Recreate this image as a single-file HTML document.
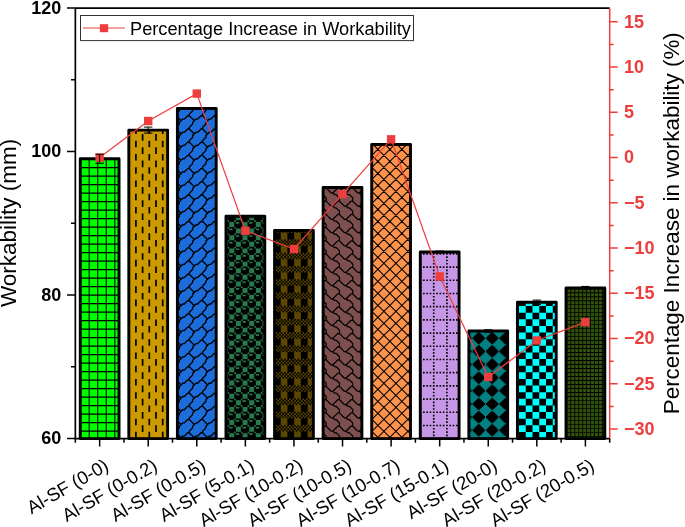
<!DOCTYPE html><html><head><meta charset="utf-8"><style>html,body{margin:0;padding:0;background:#fff;overflow:hidden}svg{display:block;will-change:transform}text{font-family:"Liberation Sans",sans-serif}</style></head><body>
<svg width="685" height="527" viewBox="0 0 685 527">
<defs><filter id="bl" x="-5%" y="-5%" width="110%" height="110%"><feGaussianBlur stdDeviation="0.35"/></filter><clipPath id="c0"><rect x="80.24" y="158.78" width="38.8" height="279.82"/></clipPath><clipPath id="c1"><rect x="128.82" y="130.08" width="38.8" height="308.52"/></clipPath><clipPath id="c2"><rect x="177.39" y="108.55" width="38.8" height="330.05"/></clipPath><clipPath id="c3"><rect x="225.97" y="216.18" width="38.8" height="222.42"/></clipPath><clipPath id="c4"><rect x="274.55" y="230.53" width="38.8" height="208.07"/></clipPath><clipPath id="c5"><rect x="323.12" y="187.48" width="38.8" height="251.12"/></clipPath><clipPath id="c6"><rect x="371.7" y="144.43" width="38.8" height="294.18"/></clipPath><clipPath id="c7"><rect x="420.28" y="252.05" width="38.8" height="186.55"/></clipPath><clipPath id="c8"><rect x="468.86" y="330.98" width="38.8" height="107.62"/></clipPath><clipPath id="c9"><rect x="517.43" y="302.28" width="38.8" height="136.32"/></clipPath><clipPath id="c10"><rect x="566.01" y="287.93" width="38.8" height="150.67"/></clipPath></defs>
<g clip-path="url(#c0)"><g filter="url(#bl)"><rect x="80.24" y="158.78" width="38.8" height="279.82" fill="#00ff00"/><path d="M80.14 157.5h1.07v1.06h-1.07zM114.25 157.5h1.07v1.06h-1.07zM97.19 157.5h1.07v1.06h-1.07zM88.66 157.5h1.07v1.06h-1.07zM105.72 157.5h1.07v1.06h-1.07zM79.07 158.57h41.57v1.06h-41.57zM80.14 159.63h1.07v7.44h-1.07zM114.25 159.63h1.07v7.44h-1.07zM97.19 159.63h1.07v7.44h-1.07zM88.66 159.63h1.07v7.44h-1.07zM105.72 159.63h1.07v7.44h-1.07zM79.07 167.07h41.57v1.06h-41.57zM80.14 168.13h1.07v7.44h-1.07zM114.25 168.13h1.07v7.44h-1.07zM97.19 168.13h1.07v7.44h-1.07zM88.66 168.13h1.07v7.44h-1.07zM105.72 168.13h1.07v7.44h-1.07zM79.07 175.57h41.57v1.06h-41.57zM80.14 176.63h1.07v7.44h-1.07zM114.25 176.63h1.07v7.44h-1.07zM97.19 176.63h1.07v7.44h-1.07zM88.66 176.63h1.07v7.44h-1.07zM105.72 176.63h1.07v7.44h-1.07zM79.07 184.07h41.57v1.06h-41.57zM80.14 185.13h1.07v7.44h-1.07zM114.25 185.13h1.07v7.44h-1.07zM97.19 185.13h1.07v7.44h-1.07zM88.66 185.13h1.07v7.44h-1.07zM105.72 185.13h1.07v7.44h-1.07zM79.07 192.57h41.57v1.06h-41.57zM80.14 193.63h1.07v7.44h-1.07zM114.25 193.63h1.07v7.44h-1.07zM97.19 193.63h1.07v7.44h-1.07zM88.66 193.63h1.07v7.44h-1.07zM105.72 193.63h1.07v7.44h-1.07zM79.07 201.07h41.57v1.06h-41.57zM80.14 202.13h1.07v7.44h-1.07zM114.25 202.13h1.07v7.44h-1.07zM97.19 202.13h1.07v7.44h-1.07zM88.66 202.13h1.07v7.44h-1.07zM105.72 202.13h1.07v7.44h-1.07zM79.07 209.57h41.57v1.06h-41.57zM80.14 210.63h1.07v7.44h-1.07zM114.25 210.63h1.07v7.44h-1.07zM97.19 210.63h1.07v7.44h-1.07zM88.66 210.63h1.07v7.44h-1.07zM105.72 210.63h1.07v7.44h-1.07zM79.07 218.07h41.57v1.06h-41.57zM80.14 219.13h1.07v7.44h-1.07zM114.25 219.13h1.07v7.44h-1.07zM97.19 219.13h1.07v7.44h-1.07zM88.66 219.13h1.07v7.44h-1.07zM105.72 219.13h1.07v7.44h-1.07zM79.07 226.57h41.57v1.06h-41.57zM80.14 227.63h1.07v7.44h-1.07zM114.25 227.63h1.07v7.44h-1.07zM97.19 227.63h1.07v7.44h-1.07zM88.66 227.63h1.07v7.44h-1.07zM105.72 227.63h1.07v7.44h-1.07zM79.07 235.07h41.57v1.06h-41.57zM80.14 236.13h1.07v7.44h-1.07zM114.25 236.13h1.07v7.44h-1.07zM97.19 236.13h1.07v7.44h-1.07zM88.66 236.13h1.07v7.44h-1.07zM105.72 236.13h1.07v7.44h-1.07zM79.07 243.57h41.57v1.06h-41.57zM80.14 244.63h1.07v7.44h-1.07zM114.25 244.63h1.07v7.44h-1.07zM97.19 244.63h1.07v7.44h-1.07zM88.66 244.63h1.07v7.44h-1.07zM105.72 244.63h1.07v7.44h-1.07zM79.07 252.07h41.57v1.06h-41.57zM80.14 253.13h1.07v7.44h-1.07zM114.25 253.13h1.07v7.44h-1.07zM97.19 253.13h1.07v7.44h-1.07zM88.66 253.13h1.07v7.44h-1.07zM105.72 253.13h1.07v7.44h-1.07zM79.07 260.57h41.57v1.06h-41.57zM80.14 261.63h1.07v7.44h-1.07zM114.25 261.63h1.07v7.44h-1.07zM97.19 261.63h1.07v7.44h-1.07zM88.66 261.63h1.07v7.44h-1.07zM105.72 261.63h1.07v7.44h-1.07zM79.07 269.07h41.57v1.06h-41.57zM80.14 270.13h1.07v7.44h-1.07zM114.25 270.13h1.07v7.44h-1.07zM97.19 270.13h1.07v7.44h-1.07zM88.66 270.13h1.07v7.44h-1.07zM105.72 270.13h1.07v7.44h-1.07zM79.07 277.57h41.57v1.06h-41.57zM80.14 278.63h1.07v7.44h-1.07zM114.25 278.63h1.07v7.44h-1.07zM97.19 278.63h1.07v7.44h-1.07zM88.66 278.63h1.07v7.44h-1.07zM105.72 278.63h1.07v7.44h-1.07zM79.07 286.07h41.57v1.06h-41.57zM80.14 287.13h1.07v7.44h-1.07zM114.25 287.13h1.07v7.44h-1.07zM97.19 287.13h1.07v7.44h-1.07zM88.66 287.13h1.07v7.44h-1.07zM105.72 287.13h1.07v7.44h-1.07zM79.07 294.57h41.57v1.06h-41.57zM80.14 295.63h1.07v7.44h-1.07zM114.25 295.63h1.07v7.44h-1.07zM97.19 295.63h1.07v7.44h-1.07zM88.66 295.63h1.07v7.44h-1.07zM105.72 295.63h1.07v7.44h-1.07zM79.07 303.07h41.57v1.06h-41.57zM80.14 304.13h1.07v7.44h-1.07zM114.25 304.13h1.07v7.44h-1.07zM97.19 304.13h1.07v7.44h-1.07zM88.66 304.13h1.07v7.44h-1.07zM105.72 304.13h1.07v7.44h-1.07zM79.07 311.57h41.57v1.06h-41.57zM80.14 312.63h1.07v7.44h-1.07zM114.25 312.63h1.07v7.44h-1.07zM97.19 312.63h1.07v7.44h-1.07zM88.66 312.63h1.07v7.44h-1.07zM105.72 312.63h1.07v7.44h-1.07zM79.07 320.07h41.57v1.06h-41.57zM80.14 321.13h1.07v7.44h-1.07zM114.25 321.13h1.07v7.44h-1.07zM97.19 321.13h1.07v7.44h-1.07zM88.66 321.13h1.07v7.44h-1.07zM105.72 321.13h1.07v7.44h-1.07zM79.07 328.57h41.57v1.06h-41.57zM80.14 329.63h1.07v7.44h-1.07zM114.25 329.63h1.07v7.44h-1.07zM97.19 329.63h1.07v7.44h-1.07zM88.66 329.63h1.07v7.44h-1.07zM105.72 329.63h1.07v7.44h-1.07zM79.07 337.07h41.57v1.06h-41.57zM80.14 338.13h1.07v7.44h-1.07zM114.25 338.13h1.07v7.44h-1.07zM97.19 338.13h1.07v7.44h-1.07zM88.66 338.13h1.07v7.44h-1.07zM105.72 338.13h1.07v7.44h-1.07zM79.07 345.57h41.57v1.06h-41.57zM80.14 346.63h1.07v7.44h-1.07zM114.25 346.63h1.07v7.44h-1.07zM97.19 346.63h1.07v7.44h-1.07zM88.66 346.63h1.07v7.44h-1.07zM105.72 346.63h1.07v7.44h-1.07zM79.07 354.07h41.57v1.06h-41.57zM80.14 355.13h1.07v7.44h-1.07zM114.25 355.13h1.07v7.44h-1.07zM97.19 355.13h1.07v7.44h-1.07zM88.66 355.13h1.07v7.44h-1.07zM105.72 355.13h1.07v7.44h-1.07zM79.07 362.57h41.57v1.06h-41.57zM80.14 363.63h1.07v7.44h-1.07zM114.25 363.63h1.07v7.44h-1.07zM97.19 363.63h1.07v7.44h-1.07zM88.66 363.63h1.07v7.44h-1.07zM105.72 363.63h1.07v7.44h-1.07zM79.07 371.07h41.57v1.06h-41.57zM80.14 372.13h1.07v7.44h-1.07zM114.25 372.13h1.07v7.44h-1.07zM97.19 372.13h1.07v7.44h-1.07zM88.66 372.13h1.07v7.44h-1.07zM105.72 372.13h1.07v7.44h-1.07zM79.07 379.57h41.57v1.06h-41.57zM80.14 380.63h1.07v7.44h-1.07zM114.25 380.63h1.07v7.44h-1.07zM97.19 380.63h1.07v7.44h-1.07zM88.66 380.63h1.07v7.44h-1.07zM105.72 380.63h1.07v7.44h-1.07zM79.07 388.07h41.57v1.06h-41.57zM80.14 389.13h1.07v7.44h-1.07zM114.25 389.13h1.07v7.44h-1.07zM97.19 389.13h1.07v7.44h-1.07zM88.66 389.13h1.07v7.44h-1.07zM105.72 389.13h1.07v7.44h-1.07zM79.07 396.57h41.57v1.06h-41.57zM80.14 397.63h1.07v7.44h-1.07zM114.25 397.63h1.07v7.44h-1.07zM97.19 397.63h1.07v7.44h-1.07zM88.66 397.63h1.07v7.44h-1.07zM105.72 397.63h1.07v7.44h-1.07zM79.07 405.07h41.57v1.06h-41.57zM80.14 406.13h1.07v7.44h-1.07zM114.25 406.13h1.07v7.44h-1.07zM97.19 406.13h1.07v7.44h-1.07zM88.66 406.13h1.07v7.44h-1.07zM105.72 406.13h1.07v7.44h-1.07zM79.07 413.57h41.57v1.06h-41.57zM80.14 414.63h1.07v7.44h-1.07zM114.25 414.63h1.07v7.44h-1.07zM97.19 414.63h1.07v7.44h-1.07zM88.66 414.63h1.07v7.44h-1.07zM105.72 414.63h1.07v7.44h-1.07zM79.07 422.07h41.57v1.06h-41.57zM80.14 423.13h1.07v7.44h-1.07zM114.25 423.13h1.07v7.44h-1.07zM97.19 423.13h1.07v7.44h-1.07zM88.66 423.13h1.07v7.44h-1.07zM105.72 423.13h1.07v7.44h-1.07zM79.07 430.57h41.57v1.06h-41.57zM80.14 431.63h1.07v7.44h-1.07zM114.25 431.63h1.07v7.44h-1.07zM97.19 431.63h1.07v7.44h-1.07zM88.66 431.63h1.07v7.44h-1.07zM105.72 431.63h1.07v7.44h-1.07zM79.07 439.07h41.57v1.06h-41.57z" fill="#000"/></g></g><rect x="80.24" y="158.78" width="38.8" height="279.82" fill="none" stroke="#000" stroke-width="2.9" stroke-linejoin="round"/>
<g clip-path="url(#c1)"><g filter="url(#bl)"><rect x="128.82" y="130.08" width="38.8" height="308.52" fill="#CC9900"/><path d="M135.07 127.46h1.68v6.62h-1.68zM148.47 127.46h1.68v6.62h-1.68zM161.87 127.46h1.68v6.62h-1.68zM141.77 134.08h1.68v6.62h-1.68zM155.17 134.08h1.68v6.62h-1.68zM168.57 134.08h1.68v6.62h-1.68zM128.37 134.08h1.68v6.62h-1.68zM135.07 140.7h1.68v6.62h-1.68zM148.47 140.7h1.68v6.62h-1.68zM161.87 140.7h1.68v6.62h-1.68zM141.77 147.32h1.68v6.62h-1.68zM155.17 147.32h1.68v6.62h-1.68zM168.57 147.32h1.68v6.62h-1.68zM128.37 147.32h1.68v6.62h-1.68zM135.07 153.94h1.68v6.62h-1.68zM148.47 153.94h1.68v6.62h-1.68zM161.87 153.94h1.68v6.62h-1.68zM141.77 160.55h1.68v6.62h-1.68zM155.17 160.55h1.68v6.62h-1.68zM168.57 160.55h1.68v6.62h-1.68zM128.37 160.55h1.68v6.62h-1.68zM135.07 167.17h1.68v6.62h-1.68zM148.47 167.17h1.68v6.62h-1.68zM161.87 167.17h1.68v6.62h-1.68zM141.77 173.79h1.68v6.62h-1.68zM155.17 173.79h1.68v6.62h-1.68zM168.57 173.79h1.68v6.62h-1.68zM128.37 173.79h1.68v6.62h-1.68zM135.07 180.41h1.68v6.62h-1.68zM148.47 180.41h1.68v6.62h-1.68zM161.87 180.41h1.68v6.62h-1.68zM141.77 187.02h1.68v6.62h-1.68zM155.17 187.02h1.68v6.62h-1.68zM168.57 187.02h1.68v6.62h-1.68zM128.37 187.02h1.68v6.62h-1.68zM135.07 193.64h1.68v6.62h-1.68zM148.47 193.64h1.68v6.62h-1.68zM161.87 193.64h1.68v6.62h-1.68zM141.77 200.26h1.68v6.62h-1.68zM155.17 200.26h1.68v6.62h-1.68zM168.57 200.26h1.68v6.62h-1.68zM128.37 200.26h1.68v6.62h-1.68zM135.07 206.88h1.68v6.62h-1.68zM148.47 206.88h1.68v6.62h-1.68zM161.87 206.88h1.68v6.62h-1.68zM141.77 213.49h1.68v6.62h-1.68zM155.17 213.49h1.68v6.62h-1.68zM168.57 213.49h1.68v6.62h-1.68zM128.37 213.49h1.68v6.62h-1.68zM135.07 220.11h1.68v6.62h-1.68zM148.47 220.11h1.68v6.62h-1.68zM161.87 220.11h1.68v6.62h-1.68zM141.77 226.73h1.68v6.62h-1.68zM155.17 226.73h1.68v6.62h-1.68zM168.57 226.73h1.68v6.62h-1.68zM128.37 226.73h1.68v6.62h-1.68zM135.07 233.35h1.68v6.62h-1.68zM148.47 233.35h1.68v6.62h-1.68zM161.87 233.35h1.68v6.62h-1.68zM141.77 239.96h1.68v6.62h-1.68zM155.17 239.96h1.68v6.62h-1.68zM168.57 239.96h1.68v6.62h-1.68zM128.37 239.96h1.68v6.62h-1.68zM135.07 246.58h1.68v6.62h-1.68zM148.47 246.58h1.68v6.62h-1.68zM161.87 246.58h1.68v6.62h-1.68zM141.77 253.2h1.68v6.62h-1.68zM155.17 253.2h1.68v6.62h-1.68zM168.57 253.2h1.68v6.62h-1.68zM128.37 253.2h1.68v6.62h-1.68zM135.07 259.82h1.68v6.62h-1.68zM148.47 259.82h1.68v6.62h-1.68zM161.87 259.82h1.68v6.62h-1.68zM141.77 266.43h1.68v6.62h-1.68zM155.17 266.43h1.68v6.62h-1.68zM168.57 266.43h1.68v6.62h-1.68zM128.37 266.43h1.68v6.62h-1.68zM135.07 273.05h1.68v6.62h-1.68zM148.47 273.05h1.68v6.62h-1.68zM161.87 273.05h1.68v6.62h-1.68zM141.77 279.67h1.68v6.62h-1.68zM155.17 279.67h1.68v6.62h-1.68zM168.57 279.67h1.68v6.62h-1.68zM128.37 279.67h1.68v6.62h-1.68zM135.07 286.29h1.68v6.62h-1.68zM148.47 286.29h1.68v6.62h-1.68zM161.87 286.29h1.68v6.62h-1.68zM141.77 292.9h1.68v6.62h-1.68zM155.17 292.9h1.68v6.62h-1.68zM168.57 292.9h1.68v6.62h-1.68zM128.37 292.9h1.68v6.62h-1.68zM135.07 299.52h1.68v6.62h-1.68zM148.47 299.52h1.68v6.62h-1.68zM161.87 299.52h1.68v6.62h-1.68zM141.77 306.14h1.68v6.62h-1.68zM155.17 306.14h1.68v6.62h-1.68zM168.57 306.14h1.68v6.62h-1.68zM128.37 306.14h1.68v6.62h-1.68zM135.07 312.76h1.68v6.62h-1.68zM148.47 312.76h1.68v6.62h-1.68zM161.87 312.76h1.68v6.62h-1.68zM141.77 319.38h1.68v6.62h-1.68zM155.17 319.38h1.68v6.62h-1.68zM168.57 319.38h1.68v6.62h-1.68zM128.37 319.38h1.68v6.62h-1.68zM135.07 325.99h1.68v6.62h-1.68zM148.47 325.99h1.68v6.62h-1.68zM161.87 325.99h1.68v6.62h-1.68zM141.77 332.61h1.68v6.62h-1.68zM155.17 332.61h1.68v6.62h-1.68zM168.57 332.61h1.68v6.62h-1.68zM128.37 332.61h1.68v6.62h-1.68zM135.07 339.23h1.68v6.62h-1.68zM148.47 339.23h1.68v6.62h-1.68zM161.87 339.23h1.68v6.62h-1.68zM141.77 345.85h1.68v6.62h-1.68zM155.17 345.85h1.68v6.62h-1.68zM168.57 345.85h1.68v6.62h-1.68zM128.37 345.85h1.68v6.62h-1.68zM135.07 352.46h1.68v6.62h-1.68zM148.47 352.46h1.68v6.62h-1.68zM161.87 352.46h1.68v6.62h-1.68zM141.77 359.08h1.68v6.62h-1.68zM155.17 359.08h1.68v6.62h-1.68zM168.57 359.08h1.68v6.62h-1.68zM128.37 359.08h1.68v6.62h-1.68zM135.07 365.7h1.68v6.62h-1.68zM148.47 365.7h1.68v6.62h-1.68zM161.87 365.7h1.68v6.62h-1.68zM141.77 372.32h1.68v6.62h-1.68zM155.17 372.32h1.68v6.62h-1.68zM168.57 372.32h1.68v6.62h-1.68zM128.37 372.32h1.68v6.62h-1.68zM135.07 378.93h1.68v6.62h-1.68zM148.47 378.93h1.68v6.62h-1.68zM161.87 378.93h1.68v6.62h-1.68zM141.77 385.55h1.68v6.62h-1.68zM155.17 385.55h1.68v6.62h-1.68zM168.57 385.55h1.68v6.62h-1.68zM128.37 385.55h1.68v6.62h-1.68zM135.07 392.17h1.68v6.62h-1.68zM148.47 392.17h1.68v6.62h-1.68zM161.87 392.17h1.68v6.62h-1.68zM141.77 398.79h1.68v6.62h-1.68zM155.17 398.79h1.68v6.62h-1.68zM168.57 398.79h1.68v6.62h-1.68zM128.37 398.79h1.68v6.62h-1.68zM135.07 405.4h1.68v6.62h-1.68zM148.47 405.4h1.68v6.62h-1.68zM161.87 405.4h1.68v6.62h-1.68zM141.77 412.02h1.68v6.62h-1.68zM155.17 412.02h1.68v6.62h-1.68zM168.57 412.02h1.68v6.62h-1.68zM128.37 412.02h1.68v6.62h-1.68zM135.07 418.64h1.68v6.62h-1.68zM148.47 418.64h1.68v6.62h-1.68zM161.87 418.64h1.68v6.62h-1.68zM141.77 425.26h1.68v6.62h-1.68zM155.17 425.26h1.68v6.62h-1.68zM168.57 425.26h1.68v6.62h-1.68zM128.37 425.26h1.68v6.62h-1.68zM135.07 431.87h1.68v6.62h-1.68zM148.47 431.87h1.68v6.62h-1.68zM161.87 431.87h1.68v6.62h-1.68zM141.77 438.49h1.68v3.31h-1.68zM155.17 438.49h1.68v3.31h-1.68zM168.57 438.49h1.68v3.31h-1.68zM128.37 438.49h1.68v3.31h-1.68z" fill="#000"/></g></g><rect x="128.82" y="130.08" width="38.8" height="308.52" fill="none" stroke="#000" stroke-width="2.9" stroke-linejoin="round"/>
<g clip-path="url(#c2)"><g filter="url(#bl)"><rect x="177.39" y="108.55" width="38.8" height="330.05" fill="#1A6CDA"/><path d="M179.36 105.88L181.02 107.53M182.68 105.88L184.34 105.88M182.68 105.88L181.02 107.53M192.64 105.88L194.3 107.53M195.96 105.88L197.62 105.88M195.96 105.88L194.3 107.53M205.92 105.88L207.58 107.53M209.24 105.88L210.9 105.88M209.24 105.88L207.58 107.53M219.2 105.88L220.86 107.53M181.02 107.53L179.36 109.18M194.3 107.53L192.64 109.18M207.58 107.53L205.92 109.18M179.36 109.18L179.36 110.84M192.64 109.18L192.64 110.84M205.92 109.18L205.92 110.84M219.2 109.18L219.2 110.84M179.36 110.84L177.7 112.49M192.64 110.84L190.98 112.49M205.92 110.84L204.26 112.49M219.2 110.84L217.54 112.49M177.7 112.49L176.04 114.14M190.98 112.49L189.32 114.14M204.26 112.49L202.6 114.14M217.54 112.49L215.88 114.14M176.04 114.14L176.04 115.79M189.32 114.14L189.32 115.79M202.6 114.14L202.6 115.79M215.88 114.14L215.88 115.79M174.38 115.79L176.04 115.79M174.38 115.79L172.72 117.44M176.04 115.79L177.7 117.44M187.66 115.79L189.32 115.79M187.66 115.79L186 117.44M189.32 115.79L190.98 117.44M200.94 115.79L202.6 115.79M200.94 115.79L199.28 117.44M202.6 115.79L204.26 117.44M214.22 115.79L215.88 115.79M214.22 115.79L212.56 117.44M215.88 115.79L217.54 117.44M177.7 117.44L179.36 119.09M186 117.44L184.34 119.09M190.98 117.44L192.64 119.09M199.28 117.44L197.62 119.09M204.26 117.44L205.92 119.09M212.56 117.44L210.9 119.09M217.54 117.44L219.2 119.09M179.36 119.09L181.02 120.74M182.68 119.09L184.34 119.09M182.68 119.09L181.02 120.74M192.64 119.09L194.3 120.74M195.96 119.09L197.62 119.09M195.96 119.09L194.3 120.74M205.92 119.09L207.58 120.74M209.24 119.09L210.9 119.09M209.24 119.09L207.58 120.74M219.2 119.09L220.86 120.74M181.02 120.74L179.36 122.39M194.3 120.74L192.64 122.39M207.58 120.74L205.92 122.39M179.36 122.39L179.36 124.04M192.64 122.39L192.64 124.04M205.92 122.39L205.92 124.04M219.2 122.39L219.2 124.04M179.36 124.04L177.7 125.69M192.64 124.04L190.98 125.69M205.92 124.04L204.26 125.69M219.2 124.04L217.54 125.69M177.7 125.69L176.04 127.35M190.98 125.69L189.32 127.35M204.26 125.69L202.6 127.35M217.54 125.69L215.88 127.35M176.04 127.35L176.04 129M189.32 127.35L189.32 129M202.6 127.35L202.6 129M215.88 127.35L215.88 129M174.38 129L176.04 129M174.38 129L172.72 130.65M176.04 129L177.7 130.65M187.66 129L189.32 129M187.66 129L186 130.65M189.32 129L190.98 130.65M200.94 129L202.6 129M200.94 129L199.28 130.65M202.6 129L204.26 130.65M214.22 129L215.88 129M214.22 129L212.56 130.65M215.88 129L217.54 130.65M177.7 130.65L179.36 132.3M186 130.65L184.34 132.3M190.98 130.65L192.64 132.3M199.28 130.65L197.62 132.3M204.26 130.65L205.92 132.3M212.56 130.65L210.9 132.3M217.54 130.65L219.2 132.3M179.36 132.3L181.02 133.95M182.68 132.3L184.34 132.3M182.68 132.3L181.02 133.95M192.64 132.3L194.3 133.95M195.96 132.3L197.62 132.3M195.96 132.3L194.3 133.95M205.92 132.3L207.58 133.95M209.24 132.3L210.9 132.3M209.24 132.3L207.58 133.95M219.2 132.3L220.86 133.95M181.02 133.95L179.36 135.6M194.3 133.95L192.64 135.6M207.58 133.95L205.92 135.6M179.36 135.6L179.36 137.25M192.64 135.6L192.64 137.25M205.92 135.6L205.92 137.25M219.2 135.6L219.2 137.25M179.36 137.25L177.7 138.9M192.64 137.25L190.98 138.9M205.92 137.25L204.26 138.9M219.2 137.25L217.54 138.9M177.7 138.9L176.04 140.55M190.98 138.9L189.32 140.55M204.26 138.9L202.6 140.55M217.54 138.9L215.88 140.55M176.04 140.55L176.04 142.2M189.32 140.55L189.32 142.2M202.6 140.55L202.6 142.2M215.88 140.55L215.88 142.2M174.38 142.2L176.04 142.2M174.38 142.2L172.72 143.86M176.04 142.2L177.7 143.86M187.66 142.2L189.32 142.2M187.66 142.2L186 143.86M189.32 142.2L190.98 143.86M200.94 142.2L202.6 142.2M200.94 142.2L199.28 143.86M202.6 142.2L204.26 143.86M214.22 142.2L215.88 142.2M214.22 142.2L212.56 143.86M215.88 142.2L217.54 143.86M177.7 143.86L179.36 145.51M186 143.86L184.34 145.51M190.98 143.86L192.64 145.51M199.28 143.86L197.62 145.51M204.26 143.86L205.92 145.51M212.56 143.86L210.9 145.51M217.54 143.86L219.2 145.51M179.36 145.51L181.02 147.16M182.68 145.51L184.34 145.51M182.68 145.51L181.02 147.16M192.64 145.51L194.3 147.16M195.96 145.51L197.62 145.51M195.96 145.51L194.3 147.16M205.92 145.51L207.58 147.16M209.24 145.51L210.9 145.51M209.24 145.51L207.58 147.16M219.2 145.51L220.86 147.16M181.02 147.16L179.36 148.81M194.3 147.16L192.64 148.81M207.58 147.16L205.92 148.81M179.36 148.81L179.36 150.46M192.64 148.81L192.64 150.46M205.92 148.81L205.92 150.46M219.2 148.81L219.2 150.46M179.36 150.46L177.7 152.11M192.64 150.46L190.98 152.11M205.92 150.46L204.26 152.11M219.2 150.46L217.54 152.11M177.7 152.11L176.04 153.76M190.98 152.11L189.32 153.76M204.26 152.11L202.6 153.76M217.54 152.11L215.88 153.76M176.04 153.76L176.04 155.41M189.32 153.76L189.32 155.41M202.6 153.76L202.6 155.41M215.88 153.76L215.88 155.41M174.38 155.41L176.04 155.41M174.38 155.41L172.72 157.06M176.04 155.41L177.7 157.06M187.66 155.41L189.32 155.41M187.66 155.41L186 157.06M189.32 155.41L190.98 157.06M200.94 155.41L202.6 155.41M200.94 155.41L199.28 157.06M202.6 155.41L204.26 157.06M214.22 155.41L215.88 155.41M214.22 155.41L212.56 157.06M215.88 155.41L217.54 157.06M177.7 157.06L179.36 158.71M186 157.06L184.34 158.71M190.98 157.06L192.64 158.71M199.28 157.06L197.62 158.71M204.26 157.06L205.92 158.71M212.56 157.06L210.9 158.71M217.54 157.06L219.2 158.71M179.36 158.71L181.02 160.37M182.68 158.71L184.34 158.71M182.68 158.71L181.02 160.37M192.64 158.71L194.3 160.37M195.96 158.71L197.62 158.71M195.96 158.71L194.3 160.37M205.92 158.71L207.58 160.37M209.24 158.71L210.9 158.71M209.24 158.71L207.58 160.37M219.2 158.71L220.86 160.37M181.02 160.37L179.36 162.02M194.3 160.37L192.64 162.02M207.58 160.37L205.92 162.02M179.36 162.02L179.36 163.67M192.64 162.02L192.64 163.67M205.92 162.02L205.92 163.67M219.2 162.02L219.2 163.67M179.36 163.67L177.7 165.32M192.64 163.67L190.98 165.32M205.92 163.67L204.26 165.32M219.2 163.67L217.54 165.32M177.7 165.32L176.04 166.97M190.98 165.32L189.32 166.97M204.26 165.32L202.6 166.97M217.54 165.32L215.88 166.97M176.04 166.97L176.04 168.62M189.32 166.97L189.32 168.62M202.6 166.97L202.6 168.62M215.88 166.97L215.88 168.62M174.38 168.62L176.04 168.62M174.38 168.62L172.72 170.27M176.04 168.62L177.7 170.27M187.66 168.62L189.32 168.62M187.66 168.62L186 170.27M189.32 168.62L190.98 170.27M200.94 168.62L202.6 168.62M200.94 168.62L199.28 170.27M202.6 168.62L204.26 170.27M214.22 168.62L215.88 168.62M214.22 168.62L212.56 170.27M215.88 168.62L217.54 170.27M177.7 170.27L179.36 171.92M186 170.27L184.34 171.92M190.98 170.27L192.64 171.92M199.28 170.27L197.62 171.92M204.26 170.27L205.92 171.92M212.56 170.27L210.9 171.92M217.54 170.27L219.2 171.92M179.36 171.92L181.02 173.57M182.68 171.92L184.34 171.92M182.68 171.92L181.02 173.57M192.64 171.92L194.3 173.57M195.96 171.92L197.62 171.92M195.96 171.92L194.3 173.57M205.92 171.92L207.58 173.57M209.24 171.92L210.9 171.92M209.24 171.92L207.58 173.57M219.2 171.92L220.86 173.57M181.02 173.57L179.36 175.22M194.3 173.57L192.64 175.22M207.58 173.57L205.92 175.22M179.36 175.22L179.36 176.88M192.64 175.22L192.64 176.88M205.92 175.22L205.92 176.88M219.2 175.22L219.2 176.88M179.36 176.88L177.7 178.53M192.64 176.88L190.98 178.53M205.92 176.88L204.26 178.53M219.2 176.88L217.54 178.53M177.7 178.53L176.04 180.18M190.98 178.53L189.32 180.18M204.26 178.53L202.6 180.18M217.54 178.53L215.88 180.18M176.04 180.18L176.04 181.83M189.32 180.18L189.32 181.83M202.6 180.18L202.6 181.83M215.88 180.18L215.88 181.83M174.38 181.83L176.04 181.83M174.38 181.83L172.72 183.48M176.04 181.83L177.7 183.48M187.66 181.83L189.32 181.83M187.66 181.83L186 183.48M189.32 181.83L190.98 183.48M200.94 181.83L202.6 181.83M200.94 181.83L199.28 183.48M202.6 181.83L204.26 183.48M214.22 181.83L215.88 181.83M214.22 181.83L212.56 183.48M215.88 181.83L217.54 183.48M177.7 183.48L179.36 185.13M186 183.48L184.34 185.13M190.98 183.48L192.64 185.13M199.28 183.48L197.62 185.13M204.26 183.48L205.92 185.13M212.56 183.48L210.9 185.13M217.54 183.48L219.2 185.13M179.36 185.13L181.02 186.78M182.68 185.13L184.34 185.13M182.68 185.13L181.02 186.78M192.64 185.13L194.3 186.78M195.96 185.13L197.62 185.13M195.96 185.13L194.3 186.78M205.92 185.13L207.58 186.78M209.24 185.13L210.9 185.13M209.24 185.13L207.58 186.78M219.2 185.13L220.86 186.78M181.02 186.78L179.36 188.43M194.3 186.78L192.64 188.43M207.58 186.78L205.92 188.43M179.36 188.43L179.36 190.08M192.64 188.43L192.64 190.08M205.92 188.43L205.92 190.08M219.2 188.43L219.2 190.08M179.36 190.08L177.7 191.73M192.64 190.08L190.98 191.73M205.92 190.08L204.26 191.73M219.2 190.08L217.54 191.73M177.7 191.73L176.04 193.39M190.98 191.73L189.32 193.39M204.26 191.73L202.6 193.39M217.54 191.73L215.88 193.39M176.04 193.39L176.04 195.04M189.32 193.39L189.32 195.04M202.6 193.39L202.6 195.04M215.88 193.39L215.88 195.04M174.38 195.04L176.04 195.04M174.38 195.04L172.72 196.69M176.04 195.04L177.7 196.69M187.66 195.04L189.32 195.04M187.66 195.04L186 196.69M189.32 195.04L190.98 196.69M200.94 195.04L202.6 195.04M200.94 195.04L199.28 196.69M202.6 195.04L204.26 196.69M214.22 195.04L215.88 195.04M214.22 195.04L212.56 196.69M215.88 195.04L217.54 196.69M177.7 196.69L179.36 198.34M186 196.69L184.34 198.34M190.98 196.69L192.64 198.34M199.28 196.69L197.62 198.34M204.26 196.69L205.92 198.34M212.56 196.69L210.9 198.34M217.54 196.69L219.2 198.34M179.36 198.34L181.02 199.99M182.68 198.34L184.34 198.34M182.68 198.34L181.02 199.99M192.64 198.34L194.3 199.99M195.96 198.34L197.62 198.34M195.96 198.34L194.3 199.99M205.92 198.34L207.58 199.99M209.24 198.34L210.9 198.34M209.24 198.34L207.58 199.99M219.2 198.34L220.86 199.99M181.02 199.99L179.36 201.64M194.3 199.99L192.64 201.64M207.58 199.99L205.92 201.64M179.36 201.64L179.36 203.29M192.64 201.64L192.64 203.29M205.92 201.64L205.92 203.29M219.2 201.64L219.2 203.29M179.36 203.29L177.7 204.94M192.64 203.29L190.98 204.94M205.92 203.29L204.26 204.94M219.2 203.29L217.54 204.94M177.7 204.94L176.04 206.59M190.98 204.94L189.32 206.59M204.26 204.94L202.6 206.59M217.54 204.94L215.88 206.59M176.04 206.59L176.04 208.24M189.32 206.59L189.32 208.24M202.6 206.59L202.6 208.24M215.88 206.59L215.88 208.24M174.38 208.24L176.04 208.24M174.38 208.24L172.72 209.9M176.04 208.24L177.7 209.9M187.66 208.24L189.32 208.24M187.66 208.24L186 209.9M189.32 208.24L190.98 209.9M200.94 208.24L202.6 208.24M200.94 208.24L199.28 209.9M202.6 208.24L204.26 209.9M214.22 208.24L215.88 208.24M214.22 208.24L212.56 209.9M215.88 208.24L217.54 209.9M177.7 209.9L179.36 211.55M186 209.9L184.34 211.55M190.98 209.9L192.64 211.55M199.28 209.9L197.62 211.55M204.26 209.9L205.92 211.55M212.56 209.9L210.9 211.55M217.54 209.9L219.2 211.55M179.36 211.55L181.02 213.2M182.68 211.55L184.34 211.55M182.68 211.55L181.02 213.2M192.64 211.55L194.3 213.2M195.96 211.55L197.62 211.55M195.96 211.55L194.3 213.2M205.92 211.55L207.58 213.2M209.24 211.55L210.9 211.55M209.24 211.55L207.58 213.2M219.2 211.55L220.86 213.2M181.02 213.2L179.36 214.85M194.3 213.2L192.64 214.85M207.58 213.2L205.92 214.85M179.36 214.85L179.36 216.5M192.64 214.85L192.64 216.5M205.92 214.85L205.92 216.5M219.2 214.85L219.2 216.5M179.36 216.5L177.7 218.15M192.64 216.5L190.98 218.15M205.92 216.5L204.26 218.15M219.2 216.5L217.54 218.15M177.7 218.15L176.04 219.8M190.98 218.15L189.32 219.8M204.26 218.15L202.6 219.8M217.54 218.15L215.88 219.8M176.04 219.8L176.04 221.45M189.32 219.8L189.32 221.45M202.6 219.8L202.6 221.45M215.88 219.8L215.88 221.45M174.38 221.45L176.04 221.45M174.38 221.45L172.72 223.1M176.04 221.45L177.7 223.1M187.66 221.45L189.32 221.45M187.66 221.45L186 223.1M189.32 221.45L190.98 223.1M200.94 221.45L202.6 221.45M200.94 221.45L199.28 223.1M202.6 221.45L204.26 223.1M214.22 221.45L215.88 221.45M214.22 221.45L212.56 223.1M215.88 221.45L217.54 223.1M177.7 223.1L179.36 224.75M186 223.1L184.34 224.75M190.98 223.1L192.64 224.75M199.28 223.1L197.62 224.75M204.26 223.1L205.92 224.75M212.56 223.1L210.9 224.75M217.54 223.1L219.2 224.75M179.36 224.75L181.02 226.41M182.68 224.75L184.34 224.75M182.68 224.75L181.02 226.41M192.64 224.75L194.3 226.41M195.96 224.75L197.62 224.75M195.96 224.75L194.3 226.41M205.92 224.75L207.58 226.41M209.24 224.75L210.9 224.75M209.24 224.75L207.58 226.41M219.2 224.75L220.86 226.41M181.02 226.41L179.36 228.06M194.3 226.41L192.64 228.06M207.58 226.41L205.92 228.06M179.36 228.06L179.36 229.71M192.64 228.06L192.64 229.71M205.92 228.06L205.92 229.71M219.2 228.06L219.2 229.71M179.36 229.71L177.7 231.36M192.64 229.71L190.98 231.36M205.92 229.71L204.26 231.36M219.2 229.71L217.54 231.36M177.7 231.36L176.04 233.01M190.98 231.36L189.32 233.01M204.26 231.36L202.6 233.01M217.54 231.36L215.88 233.01M176.04 233.01L176.04 234.66M189.32 233.01L189.32 234.66M202.6 233.01L202.6 234.66M215.88 233.01L215.88 234.66M174.38 234.66L176.04 234.66M174.38 234.66L172.72 236.31M176.04 234.66L177.7 236.31M187.66 234.66L189.32 234.66M187.66 234.66L186 236.31M189.32 234.66L190.98 236.31M200.94 234.66L202.6 234.66M200.94 234.66L199.28 236.31M202.6 234.66L204.26 236.31M214.22 234.66L215.88 234.66M214.22 234.66L212.56 236.31M215.88 234.66L217.54 236.31M177.7 236.31L179.36 237.96M186 236.31L184.34 237.96M190.98 236.31L192.64 237.96M199.28 236.31L197.62 237.96M204.26 236.31L205.92 237.96M212.56 236.31L210.9 237.96M217.54 236.31L219.2 237.96M179.36 237.96L181.02 239.61M182.68 237.96L184.34 237.96M182.68 237.96L181.02 239.61M192.64 237.96L194.3 239.61M195.96 237.96L197.62 237.96M195.96 237.96L194.3 239.61M205.92 237.96L207.58 239.61M209.24 237.96L210.9 237.96M209.24 237.96L207.58 239.61M219.2 237.96L220.86 239.61M181.02 239.61L179.36 241.26M194.3 239.61L192.64 241.26M207.58 239.61L205.92 241.26M179.36 241.26L179.36 242.92M192.64 241.26L192.64 242.92M205.92 241.26L205.92 242.92M219.2 241.26L219.2 242.92M179.36 242.92L177.7 244.57M192.64 242.92L190.98 244.57M205.92 242.92L204.26 244.57M219.2 242.92L217.54 244.57M177.7 244.57L176.04 246.22M190.98 244.57L189.32 246.22M204.26 244.57L202.6 246.22M217.54 244.57L215.88 246.22M176.04 246.22L176.04 247.87M189.32 246.22L189.32 247.87M202.6 246.22L202.6 247.87M215.88 246.22L215.88 247.87M174.38 247.87L176.04 247.87M174.38 247.87L172.72 249.52M176.04 247.87L177.7 249.52M187.66 247.87L189.32 247.87M187.66 247.87L186 249.52M189.32 247.87L190.98 249.52M200.94 247.87L202.6 247.87M200.94 247.87L199.28 249.52M202.6 247.87L204.26 249.52M214.22 247.87L215.88 247.87M214.22 247.87L212.56 249.52M215.88 247.87L217.54 249.52M177.7 249.52L179.36 251.17M186 249.52L184.34 251.17M190.98 249.52L192.64 251.17M199.28 249.52L197.62 251.17M204.26 249.52L205.92 251.17M212.56 249.52L210.9 251.17M217.54 249.52L219.2 251.17M179.36 251.17L181.02 252.82M182.68 251.17L184.34 251.17M182.68 251.17L181.02 252.82M192.64 251.17L194.3 252.82M195.96 251.17L197.62 251.17M195.96 251.17L194.3 252.82M205.92 251.17L207.58 252.82M209.24 251.17L210.9 251.17M209.24 251.17L207.58 252.82M219.2 251.17L220.86 252.82M181.02 252.82L179.36 254.47M194.3 252.82L192.64 254.47M207.58 252.82L205.92 254.47M179.36 254.47L179.36 256.12M192.64 254.47L192.64 256.12M205.92 254.47L205.92 256.12M219.2 254.47L219.2 256.12M179.36 256.12L177.7 257.77M192.64 256.12L190.98 257.77M205.92 256.12L204.26 257.77M219.2 256.12L217.54 257.77M177.7 257.77L176.04 259.43M190.98 257.77L189.32 259.43M204.26 257.77L202.6 259.43M217.54 257.77L215.88 259.43M176.04 259.43L176.04 261.08M189.32 259.43L189.32 261.08M202.6 259.43L202.6 261.08M215.88 259.43L215.88 261.08M174.38 261.08L176.04 261.08M174.38 261.08L172.72 262.73M176.04 261.08L177.7 262.73M187.66 261.08L189.32 261.08M187.66 261.08L186 262.73M189.32 261.08L190.98 262.73M200.94 261.08L202.6 261.08M200.94 261.08L199.28 262.73M202.6 261.08L204.26 262.73M214.22 261.08L215.88 261.08M214.22 261.08L212.56 262.73M215.88 261.08L217.54 262.73M177.7 262.73L179.36 264.38M186 262.73L184.34 264.38M190.98 262.73L192.64 264.38M199.28 262.73L197.62 264.38M204.26 262.73L205.92 264.38M212.56 262.73L210.9 264.38M217.54 262.73L219.2 264.38M179.36 264.38L181.02 266.03M182.68 264.38L184.34 264.38M182.68 264.38L181.02 266.03M192.64 264.38L194.3 266.03M195.96 264.38L197.62 264.38M195.96 264.38L194.3 266.03M205.92 264.38L207.58 266.03M209.24 264.38L210.9 264.38M209.24 264.38L207.58 266.03M219.2 264.38L220.86 266.03M181.02 266.03L179.36 267.68M194.3 266.03L192.64 267.68M207.58 266.03L205.92 267.68M179.36 267.68L179.36 269.33M192.64 267.68L192.64 269.33M205.92 267.68L205.92 269.33M219.2 267.68L219.2 269.33M179.36 269.33L177.7 270.98M192.64 269.33L190.98 270.98M205.92 269.33L204.26 270.98M219.2 269.33L217.54 270.98M177.7 270.98L176.04 272.63M190.98 270.98L189.32 272.63M204.26 270.98L202.6 272.63M217.54 270.98L215.88 272.63M176.04 272.63L176.04 274.28M189.32 272.63L189.32 274.28M202.6 272.63L202.6 274.28M215.88 272.63L215.88 274.28M174.38 274.28L176.04 274.28M174.38 274.28L172.72 275.94M176.04 274.28L177.7 275.94M187.66 274.28L189.32 274.28M187.66 274.28L186 275.94M189.32 274.28L190.98 275.94M200.94 274.28L202.6 274.28M200.94 274.28L199.28 275.94M202.6 274.28L204.26 275.94M214.22 274.28L215.88 274.28M214.22 274.28L212.56 275.94M215.88 274.28L217.54 275.94M177.7 275.94L179.36 277.59M186 275.94L184.34 277.59M190.98 275.94L192.64 277.59M199.28 275.94L197.62 277.59M204.26 275.94L205.92 277.59M212.56 275.94L210.9 277.59M217.54 275.94L219.2 277.59M179.36 277.59L181.02 279.24M182.68 277.59L184.34 277.59M182.68 277.59L181.02 279.24M192.64 277.59L194.3 279.24M195.96 277.59L197.62 277.59M195.96 277.59L194.3 279.24M205.92 277.59L207.58 279.24M209.24 277.59L210.9 277.59M209.24 277.59L207.58 279.24M219.2 277.59L220.86 279.24M181.02 279.24L179.36 280.89M194.3 279.24L192.64 280.89M207.58 279.24L205.92 280.89M179.36 280.89L179.36 282.54M192.64 280.89L192.64 282.54M205.92 280.89L205.92 282.54M219.2 280.89L219.2 282.54M179.36 282.54L177.7 284.19M192.64 282.54L190.98 284.19M205.92 282.54L204.26 284.19M219.2 282.54L217.54 284.19M177.7 284.19L176.04 285.84M190.98 284.19L189.32 285.84M204.26 284.19L202.6 285.84M217.54 284.19L215.88 285.84M176.04 285.84L176.04 287.49M189.32 285.84L189.32 287.49M202.6 285.84L202.6 287.49M215.88 285.84L215.88 287.49M174.38 287.49L176.04 287.49M174.38 287.49L172.72 289.14M176.04 287.49L177.7 289.14M187.66 287.49L189.32 287.49M187.66 287.49L186 289.14M189.32 287.49L190.98 289.14M200.94 287.49L202.6 287.49M200.94 287.49L199.28 289.14M202.6 287.49L204.26 289.14M214.22 287.49L215.88 287.49M214.22 287.49L212.56 289.14M215.88 287.49L217.54 289.14M177.7 289.14L179.36 290.79M186 289.14L184.34 290.79M190.98 289.14L192.64 290.79M199.28 289.14L197.62 290.79M204.26 289.14L205.92 290.79M212.56 289.14L210.9 290.79M217.54 289.14L219.2 290.79M179.36 290.79L181.02 292.45M182.68 290.79L184.34 290.79M182.68 290.79L181.02 292.45M192.64 290.79L194.3 292.45M195.96 290.79L197.62 290.79M195.96 290.79L194.3 292.45M205.92 290.79L207.58 292.45M209.24 290.79L210.9 290.79M209.24 290.79L207.58 292.45M219.2 290.79L220.86 292.45M181.02 292.45L179.36 294.1M194.3 292.45L192.64 294.1M207.58 292.45L205.92 294.1M179.36 294.1L179.36 295.75M192.64 294.1L192.64 295.75M205.92 294.1L205.92 295.75M219.2 294.1L219.2 295.75M179.36 295.75L177.7 297.4M192.64 295.75L190.98 297.4M205.92 295.75L204.26 297.4M219.2 295.75L217.54 297.4M177.7 297.4L176.04 299.05M190.98 297.4L189.32 299.05M204.26 297.4L202.6 299.05M217.54 297.4L215.88 299.05M176.04 299.05L176.04 300.7M189.32 299.05L189.32 300.7M202.6 299.05L202.6 300.7M215.88 299.05L215.88 300.7M174.38 300.7L176.04 300.7M174.38 300.7L172.72 302.35M176.04 300.7L177.7 302.35M187.66 300.7L189.32 300.7M187.66 300.7L186 302.35M189.32 300.7L190.98 302.35M200.94 300.7L202.6 300.7M200.94 300.7L199.28 302.35M202.6 300.7L204.26 302.35M214.22 300.7L215.88 300.7M214.22 300.7L212.56 302.35M215.88 300.7L217.54 302.35M177.7 302.35L179.36 304M186 302.35L184.34 304M190.98 302.35L192.64 304M199.28 302.35L197.62 304M204.26 302.35L205.92 304M212.56 302.35L210.9 304M217.54 302.35L219.2 304M179.36 304L181.02 305.65M182.68 304L184.34 304M182.68 304L181.02 305.65M192.64 304L194.3 305.65M195.96 304L197.62 304M195.96 304L194.3 305.65M205.92 304L207.58 305.65M209.24 304L210.9 304M209.24 304L207.58 305.65M219.2 304L220.86 305.65M181.02 305.65L179.36 307.3M194.3 305.65L192.64 307.3M207.58 305.65L205.92 307.3M179.36 307.3L179.36 308.96M192.64 307.3L192.64 308.96M205.92 307.3L205.92 308.96M219.2 307.3L219.2 308.96M179.36 308.96L177.7 310.61M192.64 308.96L190.98 310.61M205.92 308.96L204.26 310.61M219.2 308.96L217.54 310.61M177.7 310.61L176.04 312.26M190.98 310.61L189.32 312.26M204.26 310.61L202.6 312.26M217.54 310.61L215.88 312.26M176.04 312.26L176.04 313.91M189.32 312.26L189.32 313.91M202.6 312.26L202.6 313.91M215.88 312.26L215.88 313.91M174.38 313.91L176.04 313.91M174.38 313.91L172.72 315.56M176.04 313.91L177.7 315.56M187.66 313.91L189.32 313.91M187.66 313.91L186 315.56M189.32 313.91L190.98 315.56M200.94 313.91L202.6 313.91M200.94 313.91L199.28 315.56M202.6 313.91L204.26 315.56M214.22 313.91L215.88 313.91M214.22 313.91L212.56 315.56M215.88 313.91L217.54 315.56M177.7 315.56L179.36 317.21M186 315.56L184.34 317.21M190.98 315.56L192.64 317.21M199.28 315.56L197.62 317.21M204.26 315.56L205.92 317.21M212.56 315.56L210.9 317.21M217.54 315.56L219.2 317.21M179.36 317.21L181.02 318.86M182.68 317.21L184.34 317.21M182.68 317.21L181.02 318.86M192.64 317.21L194.3 318.86M195.96 317.21L197.62 317.21M195.96 317.21L194.3 318.86M205.92 317.21L207.58 318.86M209.24 317.21L210.9 317.21M209.24 317.21L207.58 318.86M219.2 317.21L220.86 318.86M181.02 318.86L179.36 320.51M194.3 318.86L192.64 320.51M207.58 318.86L205.92 320.51M179.36 320.51L179.36 322.16M192.64 320.51L192.64 322.16M205.92 320.51L205.92 322.16M219.2 320.51L219.2 322.16M179.36 322.16L177.7 323.81M192.64 322.16L190.98 323.81M205.92 322.16L204.26 323.81M219.2 322.16L217.54 323.81M177.7 323.81L176.04 325.47M190.98 323.81L189.32 325.47M204.26 323.81L202.6 325.47M217.54 323.81L215.88 325.47M176.04 325.47L176.04 327.12M189.32 325.47L189.32 327.12M202.6 325.47L202.6 327.12M215.88 325.47L215.88 327.12M174.38 327.12L176.04 327.12M174.38 327.12L172.72 328.77M176.04 327.12L177.7 328.77M187.66 327.12L189.32 327.12M187.66 327.12L186 328.77M189.32 327.12L190.98 328.77M200.94 327.12L202.6 327.12M200.94 327.12L199.28 328.77M202.6 327.12L204.26 328.77M214.22 327.12L215.88 327.12M214.22 327.12L212.56 328.77M215.88 327.12L217.54 328.77M177.7 328.77L179.36 330.42M186 328.77L184.34 330.42M190.98 328.77L192.64 330.42M199.28 328.77L197.62 330.42M204.26 328.77L205.92 330.42M212.56 328.77L210.9 330.42M217.54 328.77L219.2 330.42M179.36 330.42L181.02 332.07M182.68 330.42L184.34 330.42M182.68 330.42L181.02 332.07M192.64 330.42L194.3 332.07M195.96 330.42L197.62 330.42M195.96 330.42L194.3 332.07M205.92 330.42L207.58 332.07M209.24 330.42L210.9 330.42M209.24 330.42L207.58 332.07M219.2 330.42L220.86 332.07M181.02 332.07L179.36 333.72M194.3 332.07L192.64 333.72M207.58 332.07L205.92 333.72M179.36 333.72L179.36 335.37M192.64 333.72L192.64 335.37M205.92 333.72L205.92 335.37M219.2 333.72L219.2 335.37M179.36 335.37L177.7 337.02M192.64 335.37L190.98 337.02M205.92 335.37L204.26 337.02M219.2 335.37L217.54 337.02M177.7 337.02L176.04 338.67M190.98 337.02L189.32 338.67M204.26 337.02L202.6 338.67M217.54 337.02L215.88 338.67M176.04 338.67L176.04 340.32M189.32 338.67L189.32 340.32M202.6 338.67L202.6 340.32M215.88 338.67L215.88 340.32M174.38 340.32L176.04 340.32M174.38 340.32L172.72 341.98M176.04 340.32L177.7 341.98M187.66 340.32L189.32 340.32M187.66 340.32L186 341.98M189.32 340.32L190.98 341.98M200.94 340.32L202.6 340.32M200.94 340.32L199.28 341.98M202.6 340.32L204.26 341.98M214.22 340.32L215.88 340.32M214.22 340.32L212.56 341.98M215.88 340.32L217.54 341.98M177.7 341.98L179.36 343.63M186 341.98L184.34 343.63M190.98 341.98L192.64 343.63M199.28 341.98L197.62 343.63M204.26 341.98L205.92 343.63M212.56 341.98L210.9 343.63M217.54 341.98L219.2 343.63M179.36 343.63L181.02 345.28M182.68 343.63L184.34 343.63M182.68 343.63L181.02 345.28M192.64 343.63L194.3 345.28M195.96 343.63L197.62 343.63M195.96 343.63L194.3 345.28M205.92 343.63L207.58 345.28M209.24 343.63L210.9 343.63M209.24 343.63L207.58 345.28M219.2 343.63L220.86 345.28M181.02 345.28L179.36 346.93M194.3 345.28L192.64 346.93M207.58 345.28L205.92 346.93M179.36 346.93L179.36 348.58M192.64 346.93L192.64 348.58M205.92 346.93L205.92 348.58M219.2 346.93L219.2 348.58M179.36 348.58L177.7 350.23M192.64 348.58L190.98 350.23M205.92 348.58L204.26 350.23M219.2 348.58L217.54 350.23M177.7 350.23L176.04 351.88M190.98 350.23L189.32 351.88M204.26 350.23L202.6 351.88M217.54 350.23L215.88 351.88M176.04 351.88L176.04 353.53M189.32 351.88L189.32 353.53M202.6 351.88L202.6 353.53M215.88 351.88L215.88 353.53M174.38 353.53L176.04 353.53M174.38 353.53L172.72 355.18M176.04 353.53L177.7 355.18M187.66 353.53L189.32 353.53M187.66 353.53L186 355.18M189.32 353.53L190.98 355.18M200.94 353.53L202.6 353.53M200.94 353.53L199.28 355.18M202.6 353.53L204.26 355.18M214.22 353.53L215.88 353.53M214.22 353.53L212.56 355.18M215.88 353.53L217.54 355.18M177.7 355.18L179.36 356.83M186 355.18L184.34 356.83M190.98 355.18L192.64 356.83M199.28 355.18L197.62 356.83M204.26 355.18L205.92 356.83M212.56 355.18L210.9 356.83M217.54 355.18L219.2 356.83M179.36 356.83L181.02 358.49M182.68 356.83L184.34 356.83M182.68 356.83L181.02 358.49M192.64 356.83L194.3 358.49M195.96 356.83L197.62 356.83M195.96 356.83L194.3 358.49M205.92 356.83L207.58 358.49M209.24 356.83L210.9 356.83M209.24 356.83L207.58 358.49M219.2 356.83L220.86 358.49M181.02 358.49L179.36 360.14M194.3 358.49L192.64 360.14M207.58 358.49L205.92 360.14M179.36 360.14L179.36 361.79M192.64 360.14L192.64 361.79M205.92 360.14L205.92 361.79M219.2 360.14L219.2 361.79M179.36 361.79L177.7 363.44M192.64 361.79L190.98 363.44M205.92 361.79L204.26 363.44M219.2 361.79L217.54 363.44M177.7 363.44L176.04 365.09M190.98 363.44L189.32 365.09M204.26 363.44L202.6 365.09M217.54 363.44L215.88 365.09M176.04 365.09L176.04 366.74M189.32 365.09L189.32 366.74M202.6 365.09L202.6 366.74M215.88 365.09L215.88 366.74M174.38 366.74L176.04 366.74M174.38 366.74L172.72 368.39M176.04 366.74L177.7 368.39M187.66 366.74L189.32 366.74M187.66 366.74L186 368.39M189.32 366.74L190.98 368.39M200.94 366.74L202.6 366.74M200.94 366.74L199.28 368.39M202.6 366.74L204.26 368.39M214.22 366.74L215.88 366.74M214.22 366.74L212.56 368.39M215.88 366.74L217.54 368.39M177.7 368.39L179.36 370.04M186 368.39L184.34 370.04M190.98 368.39L192.64 370.04M199.28 368.39L197.62 370.04M204.26 368.39L205.92 370.04M212.56 368.39L210.9 370.04M217.54 368.39L219.2 370.04M179.36 370.04L181.02 371.69M182.68 370.04L184.34 370.04M182.68 370.04L181.02 371.69M192.64 370.04L194.3 371.69M195.96 370.04L197.62 370.04M195.96 370.04L194.3 371.69M205.92 370.04L207.58 371.69M209.24 370.04L210.9 370.04M209.24 370.04L207.58 371.69M219.2 370.04L220.86 371.69M181.02 371.69L179.36 373.34M194.3 371.69L192.64 373.34M207.58 371.69L205.92 373.34M179.36 373.34L179.36 375M192.64 373.34L192.64 375M205.92 373.34L205.92 375M219.2 373.34L219.2 375M179.36 375L177.7 376.65M192.64 375L190.98 376.65M205.92 375L204.26 376.65M219.2 375L217.54 376.65M177.7 376.65L176.04 378.3M190.98 376.65L189.32 378.3M204.26 376.65L202.6 378.3M217.54 376.65L215.88 378.3M176.04 378.3L176.04 379.95M189.32 378.3L189.32 379.95M202.6 378.3L202.6 379.95M215.88 378.3L215.88 379.95M174.38 379.95L176.04 379.95M174.38 379.95L172.72 381.6M176.04 379.95L177.7 381.6M187.66 379.95L189.32 379.95M187.66 379.95L186 381.6M189.32 379.95L190.98 381.6M200.94 379.95L202.6 379.95M200.94 379.95L199.28 381.6M202.6 379.95L204.26 381.6M214.22 379.95L215.88 379.95M214.22 379.95L212.56 381.6M215.88 379.95L217.54 381.6M177.7 381.6L179.36 383.25M186 381.6L184.34 383.25M190.98 381.6L192.64 383.25M199.28 381.6L197.62 383.25M204.26 381.6L205.92 383.25M212.56 381.6L210.9 383.25M217.54 381.6L219.2 383.25M179.36 383.25L181.02 384.9M182.68 383.25L184.34 383.25M182.68 383.25L181.02 384.9M192.64 383.25L194.3 384.9M195.96 383.25L197.62 383.25M195.96 383.25L194.3 384.9M205.92 383.25L207.58 384.9M209.24 383.25L210.9 383.25M209.24 383.25L207.58 384.9M219.2 383.25L220.86 384.9M181.02 384.9L179.36 386.55M194.3 384.9L192.64 386.55M207.58 384.9L205.92 386.55M179.36 386.55L179.36 388.2M192.64 386.55L192.64 388.2M205.92 386.55L205.92 388.2M219.2 386.55L219.2 388.2M179.36 388.2L177.7 389.85M192.64 388.2L190.98 389.85M205.92 388.2L204.26 389.85M219.2 388.2L217.54 389.85M177.7 389.85L176.04 391.51M190.98 389.85L189.32 391.51M204.26 389.85L202.6 391.51M217.54 389.85L215.88 391.51M176.04 391.51L176.04 393.16M189.32 391.51L189.32 393.16M202.6 391.51L202.6 393.16M215.88 391.51L215.88 393.16M174.38 393.16L176.04 393.16M174.38 393.16L172.72 394.81M176.04 393.16L177.7 394.81M187.66 393.16L189.32 393.16M187.66 393.16L186 394.81M189.32 393.16L190.98 394.81M200.94 393.16L202.6 393.16M200.94 393.16L199.28 394.81M202.6 393.16L204.26 394.81M214.22 393.16L215.88 393.16M214.22 393.16L212.56 394.81M215.88 393.16L217.54 394.81M177.7 394.81L179.36 396.46M186 394.81L184.34 396.46M190.98 394.81L192.64 396.46M199.28 394.81L197.62 396.46M204.26 394.81L205.92 396.46M212.56 394.81L210.9 396.46M217.54 394.81L219.2 396.46M179.36 396.46L181.02 398.11M182.68 396.46L184.34 396.46M182.68 396.46L181.02 398.11M192.64 396.46L194.3 398.11M195.96 396.46L197.62 396.46M195.96 396.46L194.3 398.11M205.92 396.46L207.58 398.11M209.24 396.46L210.9 396.46M209.24 396.46L207.58 398.11M219.2 396.46L220.86 398.11M181.02 398.11L179.36 399.76M194.3 398.11L192.64 399.76M207.58 398.11L205.92 399.76M179.36 399.76L179.36 401.41M192.64 399.76L192.64 401.41M205.92 399.76L205.92 401.41M219.2 399.76L219.2 401.41M179.36 401.41L177.7 403.06M192.64 401.41L190.98 403.06M205.92 401.41L204.26 403.06M219.2 401.41L217.54 403.06M177.7 403.06L176.04 404.71M190.98 403.06L189.32 404.71M204.26 403.06L202.6 404.71M217.54 403.06L215.88 404.71M176.04 404.71L176.04 406.36M189.32 404.71L189.32 406.36M202.6 404.71L202.6 406.36M215.88 404.71L215.88 406.36M174.38 406.36L176.04 406.36M174.38 406.36L172.72 408.02M176.04 406.36L177.7 408.02M187.66 406.36L189.32 406.36M187.66 406.36L186 408.02M189.32 406.36L190.98 408.02M200.94 406.36L202.6 406.36M200.94 406.36L199.28 408.02M202.6 406.36L204.26 408.02M214.22 406.36L215.88 406.36M214.22 406.36L212.56 408.02M215.88 406.36L217.54 408.02M177.7 408.02L179.36 409.67M186 408.02L184.34 409.67M190.98 408.02L192.64 409.67M199.28 408.02L197.62 409.67M204.26 408.02L205.92 409.67M212.56 408.02L210.9 409.67M217.54 408.02L219.2 409.67M179.36 409.67L181.02 411.32M182.68 409.67L184.34 409.67M182.68 409.67L181.02 411.32M192.64 409.67L194.3 411.32M195.96 409.67L197.62 409.67M195.96 409.67L194.3 411.32M205.92 409.67L207.58 411.32M209.24 409.67L210.9 409.67M209.24 409.67L207.58 411.32M219.2 409.67L220.86 411.32M181.02 411.32L179.36 412.97M194.3 411.32L192.64 412.97M207.58 411.32L205.92 412.97M179.36 412.97L179.36 414.62M192.64 412.97L192.64 414.62M205.92 412.97L205.92 414.62M219.2 412.97L219.2 414.62M179.36 414.62L177.7 416.27M192.64 414.62L190.98 416.27M205.92 414.62L204.26 416.27M219.2 414.62L217.54 416.27M177.7 416.27L176.04 417.92M190.98 416.27L189.32 417.92M204.26 416.27L202.6 417.92M217.54 416.27L215.88 417.92M176.04 417.92L176.04 419.57M189.32 417.92L189.32 419.57M202.6 417.92L202.6 419.57M215.88 417.92L215.88 419.57M174.38 419.57L176.04 419.57M174.38 419.57L172.72 421.22M176.04 419.57L177.7 421.22M187.66 419.57L189.32 419.57M187.66 419.57L186 421.22M189.32 419.57L190.98 421.22M200.94 419.57L202.6 419.57M200.94 419.57L199.28 421.22M202.6 419.57L204.26 421.22M214.22 419.57L215.88 419.57M214.22 419.57L212.56 421.22M215.88 419.57L217.54 421.22M177.7 421.22L179.36 422.87M186 421.22L184.34 422.87M190.98 421.22L192.64 422.87M199.28 421.22L197.62 422.87M204.26 421.22L205.92 422.87M212.56 421.22L210.9 422.87M217.54 421.22L219.2 422.87M179.36 422.87L181.02 424.53M182.68 422.87L184.34 422.87M182.68 422.87L181.02 424.53M192.64 422.87L194.3 424.53M195.96 422.87L197.62 422.87M195.96 422.87L194.3 424.53M205.92 422.87L207.58 424.53M209.24 422.87L210.9 422.87M209.24 422.87L207.58 424.53M219.2 422.87L220.86 424.53M181.02 424.53L179.36 426.18M194.3 424.53L192.64 426.18M207.58 424.53L205.92 426.18M179.36 426.18L179.36 427.83M192.64 426.18L192.64 427.83M205.92 426.18L205.92 427.83M219.2 426.18L219.2 427.83M179.36 427.83L177.7 429.48M192.64 427.83L190.98 429.48M205.92 427.83L204.26 429.48M219.2 427.83L217.54 429.48M177.7 429.48L176.04 431.13M190.98 429.48L189.32 431.13M204.26 429.48L202.6 431.13M217.54 429.48L215.88 431.13M176.04 431.13L176.04 432.78M189.32 431.13L189.32 432.78M202.6 431.13L202.6 432.78M215.88 431.13L215.88 432.78M174.38 432.78L176.04 432.78M174.38 432.78L172.72 434.43M176.04 432.78L177.7 434.43M187.66 432.78L189.32 432.78M187.66 432.78L186 434.43M189.32 432.78L190.98 434.43M200.94 432.78L202.6 432.78M200.94 432.78L199.28 434.43M202.6 432.78L204.26 434.43M214.22 432.78L215.88 432.78M214.22 432.78L212.56 434.43M215.88 432.78L217.54 434.43M177.7 434.43L179.36 436.08M186 434.43L184.34 436.08M190.98 434.43L192.64 436.08M199.28 434.43L197.62 436.08M204.26 434.43L205.92 436.08M212.56 434.43L210.9 436.08M217.54 434.43L219.2 436.08M179.36 436.08L181.02 437.73M182.68 436.08L184.34 436.08M182.68 436.08L181.02 437.73M192.64 436.08L194.3 437.73M195.96 436.08L197.62 436.08M195.96 436.08L194.3 437.73M205.92 436.08L207.58 437.73M209.24 436.08L210.9 436.08M209.24 436.08L207.58 437.73M219.2 436.08L220.86 437.73M181.02 437.73L179.36 439.38M194.3 437.73L192.64 439.38M207.58 437.73L205.92 439.38M179.36 439.38L179.36 441.04M192.64 439.38L192.64 441.04M205.92 439.38L205.92 441.04M219.2 439.38L219.2 441.04M179.36 441.04L177.7 442.69M192.64 441.04L190.98 442.69M205.92 441.04L204.26 442.69M219.2 441.04L217.54 442.69M177.7 442.69L176.04 444.34M190.98 442.69L189.32 444.34M204.26 442.69L202.6 444.34M217.54 442.69L215.88 444.34" stroke="#000" stroke-width="1.35" stroke-linecap="round" stroke-linejoin="round" fill="none"/></g></g><rect x="177.39" y="108.55" width="38.8" height="330.05" fill="none" stroke="#000" stroke-width="2.9" stroke-linejoin="round"/>
<g clip-path="url(#c3)"><g filter="url(#bl)"><rect x="225.97" y="216.18" width="38.8" height="222.42" fill="#267A4C"/><path d="M255.82 213.75h4.98v1.65h-4.98zM235.9 213.75h4.98v1.65h-4.98zM242.54 213.75h4.98v1.65h-4.98zM249.18 213.75h4.98v1.65h-4.98zM229.26 213.75h4.98v1.65h-4.98zM224.28 213.75h3.32v1.65h-3.32zM262.46 213.75h4.98v1.65h-4.98zM227.6 215.4h1.66v1.65h-1.66zM245.86 215.4h3.32v1.65h-3.32zM240.88 215.4h1.66v1.65h-1.66zM259.14 215.4h3.32v1.65h-3.32zM232.58 215.4h3.32v1.65h-3.32zM254.16 215.4h1.66v1.65h-1.66zM240.88 217.05h8.3v3.3h-8.3zM254.16 217.05h8.3v3.3h-8.3zM227.6 217.05h8.3v3.3h-8.3zM255.82 220.35h4.98v1.65h-4.98zM235.9 220.35h4.98v1.65h-4.98zM242.54 220.35h4.98v1.65h-4.98zM249.18 220.35h4.98v1.65h-4.98zM229.26 220.35h4.98v1.65h-4.98zM224.28 220.35h3.32v1.65h-3.32zM262.46 220.35h4.98v1.65h-4.98zM225.94 222h3.32v1.65h-3.32zM252.5 222h3.32v1.65h-3.32zM247.52 222h1.66v1.65h-1.66zM239.22 222h3.32v1.65h-3.32zM234.24 222h1.66v1.65h-1.66zM265.78 222h1.66v1.65h-1.66zM260.8 222h1.66v1.65h-1.66zM234.24 223.65h8.3v3.3h-8.3zM224.28 223.65h4.98v3.3h-4.98zM247.52 223.65h8.3v3.3h-8.3zM260.8 223.65h6.64v3.3h-6.64zM255.82 226.96h4.98v1.65h-4.98zM235.9 226.96h4.98v1.65h-4.98zM242.54 226.96h4.98v1.65h-4.98zM249.18 226.96h4.98v1.65h-4.98zM229.26 226.96h4.98v1.65h-4.98zM224.28 226.96h3.32v1.65h-3.32zM262.46 226.96h4.98v1.65h-4.98zM227.6 228.61h1.66v1.65h-1.66zM245.86 228.61h3.32v1.65h-3.32zM240.88 228.61h1.66v1.65h-1.66zM259.14 228.61h3.32v1.65h-3.32zM232.58 228.61h3.32v1.65h-3.32zM254.16 228.61h1.66v1.65h-1.66zM240.88 230.26h8.3v3.3h-8.3zM254.16 230.26h8.3v3.3h-8.3zM227.6 230.26h8.3v3.3h-8.3zM255.82 233.56h4.98v1.65h-4.98zM235.9 233.56h4.98v1.65h-4.98zM242.54 233.56h4.98v1.65h-4.98zM249.18 233.56h4.98v1.65h-4.98zM229.26 233.56h4.98v1.65h-4.98zM224.28 233.56h3.32v1.65h-3.32zM262.46 233.56h4.98v1.65h-4.98zM225.94 235.21h3.32v1.65h-3.32zM252.5 235.21h3.32v1.65h-3.32zM247.52 235.21h1.66v1.65h-1.66zM239.22 235.21h3.32v1.65h-3.32zM234.24 235.21h1.66v1.65h-1.66zM265.78 235.21h1.66v1.65h-1.66zM260.8 235.21h1.66v1.65h-1.66zM234.24 236.86h8.3v3.3h-8.3zM224.28 236.86h4.98v3.3h-4.98zM247.52 236.86h8.3v3.3h-8.3zM260.8 236.86h6.64v3.3h-6.64zM255.82 240.16h4.98v1.65h-4.98zM235.9 240.16h4.98v1.65h-4.98zM242.54 240.16h4.98v1.65h-4.98zM249.18 240.16h4.98v1.65h-4.98zM229.26 240.16h4.98v1.65h-4.98zM224.28 240.16h3.32v1.65h-3.32zM262.46 240.16h4.98v1.65h-4.98zM227.6 241.82h1.66v1.65h-1.66zM245.86 241.82h3.32v1.65h-3.32zM240.88 241.82h1.66v1.65h-1.66zM259.14 241.82h3.32v1.65h-3.32zM232.58 241.82h3.32v1.65h-3.32zM254.16 241.82h1.66v1.65h-1.66zM240.88 243.47h8.3v3.3h-8.3zM254.16 243.47h8.3v3.3h-8.3zM227.6 243.47h8.3v3.3h-8.3zM255.82 246.77h4.98v1.65h-4.98zM235.9 246.77h4.98v1.65h-4.98zM242.54 246.77h4.98v1.65h-4.98zM249.18 246.77h4.98v1.65h-4.98zM229.26 246.77h4.98v1.65h-4.98zM224.28 246.77h3.32v1.65h-3.32zM262.46 246.77h4.98v1.65h-4.98zM225.94 248.42h3.32v1.65h-3.32zM252.5 248.42h3.32v1.65h-3.32zM247.52 248.42h1.66v1.65h-1.66zM239.22 248.42h3.32v1.65h-3.32zM234.24 248.42h1.66v1.65h-1.66zM265.78 248.42h1.66v1.65h-1.66zM260.8 248.42h1.66v1.65h-1.66zM234.24 250.07h8.3v3.3h-8.3zM224.28 250.07h4.98v3.3h-4.98zM247.52 250.07h8.3v3.3h-8.3zM260.8 250.07h6.64v3.3h-6.64zM255.82 253.37h4.98v1.65h-4.98zM235.9 253.37h4.98v1.65h-4.98zM242.54 253.37h4.98v1.65h-4.98zM249.18 253.37h4.98v1.65h-4.98zM229.26 253.37h4.98v1.65h-4.98zM224.28 253.37h3.32v1.65h-3.32zM262.46 253.37h4.98v1.65h-4.98zM227.6 255.02h1.66v1.65h-1.66zM245.86 255.02h3.32v1.65h-3.32zM240.88 255.02h1.66v1.65h-1.66zM259.14 255.02h3.32v1.65h-3.32zM232.58 255.02h3.32v1.65h-3.32zM254.16 255.02h1.66v1.65h-1.66zM240.88 256.67h8.3v3.3h-8.3zM254.16 256.67h8.3v3.3h-8.3zM227.6 256.67h8.3v3.3h-8.3zM255.82 259.98h4.98v1.65h-4.98zM235.9 259.98h4.98v1.65h-4.98zM242.54 259.98h4.98v1.65h-4.98zM249.18 259.98h4.98v1.65h-4.98zM229.26 259.98h4.98v1.65h-4.98zM224.28 259.98h3.32v1.65h-3.32zM262.46 259.98h4.98v1.65h-4.98zM225.94 261.63h3.32v1.65h-3.32zM252.5 261.63h3.32v1.65h-3.32zM247.52 261.63h1.66v1.65h-1.66zM239.22 261.63h3.32v1.65h-3.32zM234.24 261.63h1.66v1.65h-1.66zM265.78 261.63h1.66v1.65h-1.66zM260.8 261.63h1.66v1.65h-1.66zM234.24 263.28h8.3v3.3h-8.3zM224.28 263.28h4.98v3.3h-4.98zM247.52 263.28h8.3v3.3h-8.3zM260.8 263.28h6.64v3.3h-6.64zM255.82 266.58h4.98v1.65h-4.98zM235.9 266.58h4.98v1.65h-4.98zM242.54 266.58h4.98v1.65h-4.98zM249.18 266.58h4.98v1.65h-4.98zM229.26 266.58h4.98v1.65h-4.98zM224.28 266.58h3.32v1.65h-3.32zM262.46 266.58h4.98v1.65h-4.98zM227.6 268.23h1.66v1.65h-1.66zM245.86 268.23h3.32v1.65h-3.32zM240.88 268.23h1.66v1.65h-1.66zM259.14 268.23h3.32v1.65h-3.32zM232.58 268.23h3.32v1.65h-3.32zM254.16 268.23h1.66v1.65h-1.66zM240.88 269.88h8.3v3.3h-8.3zM254.16 269.88h8.3v3.3h-8.3zM227.6 269.88h8.3v3.3h-8.3zM255.82 273.18h4.98v1.65h-4.98zM235.9 273.18h4.98v1.65h-4.98zM242.54 273.18h4.98v1.65h-4.98zM249.18 273.18h4.98v1.65h-4.98zM229.26 273.18h4.98v1.65h-4.98zM224.28 273.18h3.32v1.65h-3.32zM262.46 273.18h4.98v1.65h-4.98zM225.94 274.84h3.32v1.65h-3.32zM252.5 274.84h3.32v1.65h-3.32zM247.52 274.84h1.66v1.65h-1.66zM239.22 274.84h3.32v1.65h-3.32zM234.24 274.84h1.66v1.65h-1.66zM265.78 274.84h1.66v1.65h-1.66zM260.8 274.84h1.66v1.65h-1.66zM234.24 276.49h8.3v3.3h-8.3zM224.28 276.49h4.98v3.3h-4.98zM247.52 276.49h8.3v3.3h-8.3zM260.8 276.49h6.64v3.3h-6.64zM255.82 279.79h4.98v1.65h-4.98zM235.9 279.79h4.98v1.65h-4.98zM242.54 279.79h4.98v1.65h-4.98zM249.18 279.79h4.98v1.65h-4.98zM229.26 279.79h4.98v1.65h-4.98zM224.28 279.79h3.32v1.65h-3.32zM262.46 279.79h4.98v1.65h-4.98zM227.6 281.44h1.66v1.65h-1.66zM245.86 281.44h3.32v1.65h-3.32zM240.88 281.44h1.66v1.65h-1.66zM259.14 281.44h3.32v1.65h-3.32zM232.58 281.44h3.32v1.65h-3.32zM254.16 281.44h1.66v1.65h-1.66zM240.88 283.09h8.3v3.3h-8.3zM254.16 283.09h8.3v3.3h-8.3zM227.6 283.09h8.3v3.3h-8.3zM255.82 286.39h4.98v1.65h-4.98zM235.9 286.39h4.98v1.65h-4.98zM242.54 286.39h4.98v1.65h-4.98zM249.18 286.39h4.98v1.65h-4.98zM229.26 286.39h4.98v1.65h-4.98zM224.28 286.39h3.32v1.65h-3.32zM262.46 286.39h4.98v1.65h-4.98zM225.94 288.04h3.32v1.65h-3.32zM252.5 288.04h3.32v1.65h-3.32zM247.52 288.04h1.66v1.65h-1.66zM239.22 288.04h3.32v1.65h-3.32zM234.24 288.04h1.66v1.65h-1.66zM265.78 288.04h1.66v1.65h-1.66zM260.8 288.04h1.66v1.65h-1.66zM234.24 289.69h8.3v3.3h-8.3zM224.28 289.69h4.98v3.3h-4.98zM247.52 289.69h8.3v3.3h-8.3zM260.8 289.69h6.64v3.3h-6.64zM255.82 293h4.98v1.65h-4.98zM235.9 293h4.98v1.65h-4.98zM242.54 293h4.98v1.65h-4.98zM249.18 293h4.98v1.65h-4.98zM229.26 293h4.98v1.65h-4.98zM224.28 293h3.32v1.65h-3.32zM262.46 293h4.98v1.65h-4.98zM227.6 294.65h1.66v1.65h-1.66zM245.86 294.65h3.32v1.65h-3.32zM240.88 294.65h1.66v1.65h-1.66zM259.14 294.65h3.32v1.65h-3.32zM232.58 294.65h3.32v1.65h-3.32zM254.16 294.65h1.66v1.65h-1.66zM240.88 296.3h8.3v3.3h-8.3zM254.16 296.3h8.3v3.3h-8.3zM227.6 296.3h8.3v3.3h-8.3zM255.82 299.6h4.98v1.65h-4.98zM235.9 299.6h4.98v1.65h-4.98zM242.54 299.6h4.98v1.65h-4.98zM249.18 299.6h4.98v1.65h-4.98zM229.26 299.6h4.98v1.65h-4.98zM224.28 299.6h3.32v1.65h-3.32zM262.46 299.6h4.98v1.65h-4.98zM225.94 301.25h3.32v1.65h-3.32zM252.5 301.25h3.32v1.65h-3.32zM247.52 301.25h1.66v1.65h-1.66zM239.22 301.25h3.32v1.65h-3.32zM234.24 301.25h1.66v1.65h-1.66zM265.78 301.25h1.66v1.65h-1.66zM260.8 301.25h1.66v1.65h-1.66zM234.24 302.9h8.3v3.3h-8.3zM224.28 302.9h4.98v3.3h-4.98zM247.52 302.9h8.3v3.3h-8.3zM260.8 302.9h6.64v3.3h-6.64zM255.82 306.2h4.98v1.65h-4.98zM235.9 306.2h4.98v1.65h-4.98zM242.54 306.2h4.98v1.65h-4.98zM249.18 306.2h4.98v1.65h-4.98zM229.26 306.2h4.98v1.65h-4.98zM224.28 306.2h3.32v1.65h-3.32zM262.46 306.2h4.98v1.65h-4.98zM227.6 307.86h1.66v1.65h-1.66zM245.86 307.86h3.32v1.65h-3.32zM240.88 307.86h1.66v1.65h-1.66zM259.14 307.86h3.32v1.65h-3.32zM232.58 307.86h3.32v1.65h-3.32zM254.16 307.86h1.66v1.65h-1.66zM240.88 309.51h8.3v3.3h-8.3zM254.16 309.51h8.3v3.3h-8.3zM227.6 309.51h8.3v3.3h-8.3zM255.82 312.81h4.98v1.65h-4.98zM235.9 312.81h4.98v1.65h-4.98zM242.54 312.81h4.98v1.65h-4.98zM249.18 312.81h4.98v1.65h-4.98zM229.26 312.81h4.98v1.65h-4.98zM224.28 312.81h3.32v1.65h-3.32zM262.46 312.81h4.98v1.65h-4.98zM225.94 314.46h3.32v1.65h-3.32zM252.5 314.46h3.32v1.65h-3.32zM247.52 314.46h1.66v1.65h-1.66zM239.22 314.46h3.32v1.65h-3.32zM234.24 314.46h1.66v1.65h-1.66zM265.78 314.46h1.66v1.65h-1.66zM260.8 314.46h1.66v1.65h-1.66zM234.24 316.11h8.3v3.3h-8.3zM224.28 316.11h4.98v3.3h-4.98zM247.52 316.11h8.3v3.3h-8.3zM260.8 316.11h6.64v3.3h-6.64zM255.82 319.41h4.98v1.65h-4.98zM235.9 319.41h4.98v1.65h-4.98zM242.54 319.41h4.98v1.65h-4.98zM249.18 319.41h4.98v1.65h-4.98zM229.26 319.41h4.98v1.65h-4.98zM224.28 319.41h3.32v1.65h-3.32zM262.46 319.41h4.98v1.65h-4.98zM227.6 321.06h1.66v1.65h-1.66zM245.86 321.06h3.32v1.65h-3.32zM240.88 321.06h1.66v1.65h-1.66zM259.14 321.06h3.32v1.65h-3.32zM232.58 321.06h3.32v1.65h-3.32zM254.16 321.06h1.66v1.65h-1.66zM240.88 322.71h8.3v3.3h-8.3zM254.16 322.71h8.3v3.3h-8.3zM227.6 322.71h8.3v3.3h-8.3zM255.82 326.02h4.98v1.65h-4.98zM235.9 326.02h4.98v1.65h-4.98zM242.54 326.02h4.98v1.65h-4.98zM249.18 326.02h4.98v1.65h-4.98zM229.26 326.02h4.98v1.65h-4.98zM224.28 326.02h3.32v1.65h-3.32zM262.46 326.02h4.98v1.65h-4.98zM225.94 327.67h3.32v1.65h-3.32zM252.5 327.67h3.32v1.65h-3.32zM247.52 327.67h1.66v1.65h-1.66zM239.22 327.67h3.32v1.65h-3.32zM234.24 327.67h1.66v1.65h-1.66zM265.78 327.67h1.66v1.65h-1.66zM260.8 327.67h1.66v1.65h-1.66zM234.24 329.32h8.3v3.3h-8.3zM224.28 329.32h4.98v3.3h-4.98zM247.52 329.32h8.3v3.3h-8.3zM260.8 329.32h6.64v3.3h-6.64zM255.82 332.62h4.98v1.65h-4.98zM235.9 332.62h4.98v1.65h-4.98zM242.54 332.62h4.98v1.65h-4.98zM249.18 332.62h4.98v1.65h-4.98zM229.26 332.62h4.98v1.65h-4.98zM224.28 332.62h3.32v1.65h-3.32zM262.46 332.62h4.98v1.65h-4.98zM227.6 334.27h1.66v1.65h-1.66zM245.86 334.27h3.32v1.65h-3.32zM240.88 334.27h1.66v1.65h-1.66zM259.14 334.27h3.32v1.65h-3.32zM232.58 334.27h3.32v1.65h-3.32zM254.16 334.27h1.66v1.65h-1.66zM240.88 335.92h8.3v3.3h-8.3zM254.16 335.92h8.3v3.3h-8.3zM227.6 335.92h8.3v3.3h-8.3zM255.82 339.22h4.98v1.65h-4.98zM235.9 339.22h4.98v1.65h-4.98zM242.54 339.22h4.98v1.65h-4.98zM249.18 339.22h4.98v1.65h-4.98zM229.26 339.22h4.98v1.65h-4.98zM224.28 339.22h3.32v1.65h-3.32zM262.46 339.22h4.98v1.65h-4.98zM225.94 340.88h3.32v1.65h-3.32zM252.5 340.88h3.32v1.65h-3.32zM247.52 340.88h1.66v1.65h-1.66zM239.22 340.88h3.32v1.65h-3.32zM234.24 340.88h1.66v1.65h-1.66zM265.78 340.88h1.66v1.65h-1.66zM260.8 340.88h1.66v1.65h-1.66zM234.24 342.53h8.3v3.3h-8.3zM224.28 342.53h4.98v3.3h-4.98zM247.52 342.53h8.3v3.3h-8.3zM260.8 342.53h6.64v3.3h-6.64zM255.82 345.83h4.98v1.65h-4.98zM235.9 345.83h4.98v1.65h-4.98zM242.54 345.83h4.98v1.65h-4.98zM249.18 345.83h4.98v1.65h-4.98zM229.26 345.83h4.98v1.65h-4.98zM224.28 345.83h3.32v1.65h-3.32zM262.46 345.83h4.98v1.65h-4.98zM227.6 347.48h1.66v1.65h-1.66zM245.86 347.48h3.32v1.65h-3.32zM240.88 347.48h1.66v1.65h-1.66zM259.14 347.48h3.32v1.65h-3.32zM232.58 347.48h3.32v1.65h-3.32zM254.16 347.48h1.66v1.65h-1.66zM240.88 349.13h8.3v3.3h-8.3zM254.16 349.13h8.3v3.3h-8.3zM227.6 349.13h8.3v3.3h-8.3zM255.82 352.43h4.98v1.65h-4.98zM235.9 352.43h4.98v1.65h-4.98zM242.54 352.43h4.98v1.65h-4.98zM249.18 352.43h4.98v1.65h-4.98zM229.26 352.43h4.98v1.65h-4.98zM224.28 352.43h3.32v1.65h-3.32zM262.46 352.43h4.98v1.65h-4.98zM225.94 354.08h3.32v1.65h-3.32zM252.5 354.08h3.32v1.65h-3.32zM247.52 354.08h1.66v1.65h-1.66zM239.22 354.08h3.32v1.65h-3.32zM234.24 354.08h1.66v1.65h-1.66zM265.78 354.08h1.66v1.65h-1.66zM260.8 354.08h1.66v1.65h-1.66zM234.24 355.73h8.3v3.3h-8.3zM224.28 355.73h4.98v3.3h-4.98zM247.52 355.73h8.3v3.3h-8.3zM260.8 355.73h6.64v3.3h-6.64zM255.82 359.04h4.98v1.65h-4.98zM235.9 359.04h4.98v1.65h-4.98zM242.54 359.04h4.98v1.65h-4.98zM249.18 359.04h4.98v1.65h-4.98zM229.26 359.04h4.98v1.65h-4.98zM224.28 359.04h3.32v1.65h-3.32zM262.46 359.04h4.98v1.65h-4.98zM227.6 360.69h1.66v1.65h-1.66zM245.86 360.69h3.32v1.65h-3.32zM240.88 360.69h1.66v1.65h-1.66zM259.14 360.69h3.32v1.65h-3.32zM232.58 360.69h3.32v1.65h-3.32zM254.16 360.69h1.66v1.65h-1.66zM240.88 362.34h8.3v3.3h-8.3zM254.16 362.34h8.3v3.3h-8.3zM227.6 362.34h8.3v3.3h-8.3zM255.82 365.64h4.98v1.65h-4.98zM235.9 365.64h4.98v1.65h-4.98zM242.54 365.64h4.98v1.65h-4.98zM249.18 365.64h4.98v1.65h-4.98zM229.26 365.64h4.98v1.65h-4.98zM224.28 365.64h3.32v1.65h-3.32zM262.46 365.64h4.98v1.65h-4.98zM225.94 367.29h3.32v1.65h-3.32zM252.5 367.29h3.32v1.65h-3.32zM247.52 367.29h1.66v1.65h-1.66zM239.22 367.29h3.32v1.65h-3.32zM234.24 367.29h1.66v1.65h-1.66zM265.78 367.29h1.66v1.65h-1.66zM260.8 367.29h1.66v1.65h-1.66zM234.24 368.94h8.3v3.3h-8.3zM224.28 368.94h4.98v3.3h-4.98zM247.52 368.94h8.3v3.3h-8.3zM260.8 368.94h6.64v3.3h-6.64zM255.82 372.24h4.98v1.65h-4.98zM235.9 372.24h4.98v1.65h-4.98zM242.54 372.24h4.98v1.65h-4.98zM249.18 372.24h4.98v1.65h-4.98zM229.26 372.24h4.98v1.65h-4.98zM224.28 372.24h3.32v1.65h-3.32zM262.46 372.24h4.98v1.65h-4.98zM227.6 373.9h1.66v1.65h-1.66zM245.86 373.9h3.32v1.65h-3.32zM240.88 373.9h1.66v1.65h-1.66zM259.14 373.9h3.32v1.65h-3.32zM232.58 373.9h3.32v1.65h-3.32zM254.16 373.9h1.66v1.65h-1.66zM240.88 375.55h8.3v3.3h-8.3zM254.16 375.55h8.3v3.3h-8.3zM227.6 375.55h8.3v3.3h-8.3zM255.82 378.85h4.98v1.65h-4.98zM235.9 378.85h4.98v1.65h-4.98zM242.54 378.85h4.98v1.65h-4.98zM249.18 378.85h4.98v1.65h-4.98zM229.26 378.85h4.98v1.65h-4.98zM224.28 378.85h3.32v1.65h-3.32zM262.46 378.85h4.98v1.65h-4.98zM225.94 380.5h3.32v1.65h-3.32zM252.5 380.5h3.32v1.65h-3.32zM247.52 380.5h1.66v1.65h-1.66zM239.22 380.5h3.32v1.65h-3.32zM234.24 380.5h1.66v1.65h-1.66zM265.78 380.5h1.66v1.65h-1.66zM260.8 380.5h1.66v1.65h-1.66zM234.24 382.15h8.3v3.3h-8.3zM224.28 382.15h4.98v3.3h-4.98zM247.52 382.15h8.3v3.3h-8.3zM260.8 382.15h6.64v3.3h-6.64zM255.82 385.45h4.98v1.65h-4.98zM235.9 385.45h4.98v1.65h-4.98zM242.54 385.45h4.98v1.65h-4.98zM249.18 385.45h4.98v1.65h-4.98zM229.26 385.45h4.98v1.65h-4.98zM224.28 385.45h3.32v1.65h-3.32zM262.46 385.45h4.98v1.65h-4.98zM227.6 387.1h1.66v1.65h-1.66zM245.86 387.1h3.32v1.65h-3.32zM240.88 387.1h1.66v1.65h-1.66zM259.14 387.1h3.32v1.65h-3.32zM232.58 387.1h3.32v1.65h-3.32zM254.16 387.1h1.66v1.65h-1.66zM240.88 388.75h8.3v3.3h-8.3zM254.16 388.75h8.3v3.3h-8.3zM227.6 388.75h8.3v3.3h-8.3zM255.82 392.06h4.98v1.65h-4.98zM235.9 392.06h4.98v1.65h-4.98zM242.54 392.06h4.98v1.65h-4.98zM249.18 392.06h4.98v1.65h-4.98zM229.26 392.06h4.98v1.65h-4.98zM224.28 392.06h3.32v1.65h-3.32zM262.46 392.06h4.98v1.65h-4.98zM225.94 393.71h3.32v1.65h-3.32zM252.5 393.71h3.32v1.65h-3.32zM247.52 393.71h1.66v1.65h-1.66zM239.22 393.71h3.32v1.65h-3.32zM234.24 393.71h1.66v1.65h-1.66zM265.78 393.71h1.66v1.65h-1.66zM260.8 393.71h1.66v1.65h-1.66zM234.24 395.36h8.3v3.3h-8.3zM224.28 395.36h4.98v3.3h-4.98zM247.52 395.36h8.3v3.3h-8.3zM260.8 395.36h6.64v3.3h-6.64zM255.82 398.66h4.98v1.65h-4.98zM235.9 398.66h4.98v1.65h-4.98zM242.54 398.66h4.98v1.65h-4.98zM249.18 398.66h4.98v1.65h-4.98zM229.26 398.66h4.98v1.65h-4.98zM224.28 398.66h3.32v1.65h-3.32zM262.46 398.66h4.98v1.65h-4.98zM227.6 400.31h1.66v1.65h-1.66zM245.86 400.31h3.32v1.65h-3.32zM240.88 400.31h1.66v1.65h-1.66zM259.14 400.31h3.32v1.65h-3.32zM232.58 400.31h3.32v1.65h-3.32zM254.16 400.31h1.66v1.65h-1.66zM240.88 401.96h8.3v3.3h-8.3zM254.16 401.96h8.3v3.3h-8.3zM227.6 401.96h8.3v3.3h-8.3zM255.82 405.26h4.98v1.65h-4.98zM235.9 405.26h4.98v1.65h-4.98zM242.54 405.26h4.98v1.65h-4.98zM249.18 405.26h4.98v1.65h-4.98zM229.26 405.26h4.98v1.65h-4.98zM224.28 405.26h3.32v1.65h-3.32zM262.46 405.26h4.98v1.65h-4.98zM225.94 406.92h3.32v1.65h-3.32zM252.5 406.92h3.32v1.65h-3.32zM247.52 406.92h1.66v1.65h-1.66zM239.22 406.92h3.32v1.65h-3.32zM234.24 406.92h1.66v1.65h-1.66zM265.78 406.92h1.66v1.65h-1.66zM260.8 406.92h1.66v1.65h-1.66zM234.24 408.57h8.3v3.3h-8.3zM224.28 408.57h4.98v3.3h-4.98zM247.52 408.57h8.3v3.3h-8.3zM260.8 408.57h6.64v3.3h-6.64zM255.82 411.87h4.98v1.65h-4.98zM235.9 411.87h4.98v1.65h-4.98zM242.54 411.87h4.98v1.65h-4.98zM249.18 411.87h4.98v1.65h-4.98zM229.26 411.87h4.98v1.65h-4.98zM224.28 411.87h3.32v1.65h-3.32zM262.46 411.87h4.98v1.65h-4.98zM227.6 413.52h1.66v1.65h-1.66zM245.86 413.52h3.32v1.65h-3.32zM240.88 413.52h1.66v1.65h-1.66zM259.14 413.52h3.32v1.65h-3.32zM232.58 413.52h3.32v1.65h-3.32zM254.16 413.52h1.66v1.65h-1.66zM240.88 415.17h8.3v3.3h-8.3zM254.16 415.17h8.3v3.3h-8.3zM227.6 415.17h8.3v3.3h-8.3zM255.82 418.47h4.98v1.65h-4.98zM235.9 418.47h4.98v1.65h-4.98zM242.54 418.47h4.98v1.65h-4.98zM249.18 418.47h4.98v1.65h-4.98zM229.26 418.47h4.98v1.65h-4.98zM224.28 418.47h3.32v1.65h-3.32zM262.46 418.47h4.98v1.65h-4.98zM225.94 420.12h3.32v1.65h-3.32zM252.5 420.12h3.32v1.65h-3.32zM247.52 420.12h1.66v1.65h-1.66zM239.22 420.12h3.32v1.65h-3.32zM234.24 420.12h1.66v1.65h-1.66zM265.78 420.12h1.66v1.65h-1.66zM260.8 420.12h1.66v1.65h-1.66zM234.24 421.77h8.3v3.3h-8.3zM224.28 421.77h4.98v3.3h-4.98zM247.52 421.77h8.3v3.3h-8.3zM260.8 421.77h6.64v3.3h-6.64zM255.82 425.08h4.98v1.65h-4.98zM235.9 425.08h4.98v1.65h-4.98zM242.54 425.08h4.98v1.65h-4.98zM249.18 425.08h4.98v1.65h-4.98zM229.26 425.08h4.98v1.65h-4.98zM224.28 425.08h3.32v1.65h-3.32zM262.46 425.08h4.98v1.65h-4.98zM227.6 426.73h1.66v1.65h-1.66zM245.86 426.73h3.32v1.65h-3.32zM240.88 426.73h1.66v1.65h-1.66zM259.14 426.73h3.32v1.65h-3.32zM232.58 426.73h3.32v1.65h-3.32zM254.16 426.73h1.66v1.65h-1.66zM240.88 428.38h8.3v3.3h-8.3zM254.16 428.38h8.3v3.3h-8.3zM227.6 428.38h8.3v3.3h-8.3zM255.82 431.68h4.98v1.65h-4.98zM235.9 431.68h4.98v1.65h-4.98zM242.54 431.68h4.98v1.65h-4.98zM249.18 431.68h4.98v1.65h-4.98zM229.26 431.68h4.98v1.65h-4.98zM224.28 431.68h3.32v1.65h-3.32zM262.46 431.68h4.98v1.65h-4.98zM225.94 433.33h3.32v1.65h-3.32zM252.5 433.33h3.32v1.65h-3.32zM247.52 433.33h1.66v1.65h-1.66zM239.22 433.33h3.32v1.65h-3.32zM234.24 433.33h1.66v1.65h-1.66zM265.78 433.33h1.66v1.65h-1.66zM260.8 433.33h1.66v1.65h-1.66zM234.24 434.98h8.3v3.3h-8.3zM224.28 434.98h4.98v3.3h-4.98zM247.52 434.98h8.3v3.3h-8.3zM260.8 434.98h6.64v3.3h-6.64zM255.82 438.28h4.98v1.65h-4.98zM235.9 438.28h4.98v1.65h-4.98zM242.54 438.28h4.98v1.65h-4.98zM249.18 438.28h4.98v1.65h-4.98zM229.26 438.28h4.98v1.65h-4.98zM224.28 438.28h3.32v1.65h-3.32zM262.46 438.28h4.98v1.65h-4.98zM227.6 439.94h1.66v1.65h-1.66zM245.86 439.94h3.32v1.65h-3.32zM240.88 439.94h1.66v1.65h-1.66zM259.14 439.94h3.32v1.65h-3.32zM232.58 439.94h3.32v1.65h-3.32zM254.16 439.94h1.66v1.65h-1.66z" fill="#000"/></g></g><rect x="225.97" y="216.18" width="38.8" height="222.42" fill="none" stroke="#000" stroke-width="2.9" stroke-linejoin="round"/>
<g clip-path="url(#c4)"><g filter="url(#bl)"><rect x="274.55" y="230.53" width="38.8" height="208.07" fill="#5C4600"/><path d="M289.12 227.89h1.68v1.66h-1.68zM295.84 227.89h1.68v1.66h-1.68zM275.68 227.89h1.68v1.66h-1.68zM279.04 227.89h1.68v1.66h-1.68zM305.92 227.89h1.68v1.66h-1.68zM309.28 227.89h1.68v1.66h-1.68zM272.32 227.89h1.68v1.66h-1.68zM292.48 227.89h1.68v1.66h-1.68zM299.2 227.89h1.68v1.66h-1.68zM282.4 227.89h1.68v1.66h-1.68zM302.56 227.89h1.68v1.66h-1.68zM312.64 227.89h1.68v1.66h-1.68zM285.76 227.89h1.68v1.66h-1.68zM274 229.55h1.68v1.66h-1.68zM290.8 229.55h1.68v1.66h-1.68zM294.16 229.55h1.68v1.66h-1.68zM304.24 229.55h1.68v1.66h-1.68zM310.96 229.55h1.68v1.66h-1.68zM277.36 229.55h1.68v1.66h-1.68zM284.08 229.55h1.68v1.66h-1.68zM280.72 229.55h1.68v1.66h-1.68zM287.44 229.55h1.68v1.66h-1.68zM314.32 229.55h1.68v1.66h-1.68zM297.52 229.55h1.68v1.66h-1.68zM300.88 229.55h1.68v1.66h-1.68zM307.6 229.55h1.68v1.66h-1.68zM289.12 231.2h1.68v1.66h-1.68zM295.84 231.2h1.68v1.66h-1.68zM275.68 231.2h1.68v1.66h-1.68zM279.04 231.2h1.68v1.66h-1.68zM305.92 231.2h1.68v1.66h-1.68zM309.28 231.2h1.68v1.66h-1.68zM272.32 231.2h1.68v1.66h-1.68zM292.48 231.2h1.68v1.66h-1.68zM299.2 231.2h1.68v1.66h-1.68zM282.4 231.2h1.68v1.66h-1.68zM302.56 231.2h1.68v1.66h-1.68zM312.64 231.2h1.68v1.66h-1.68zM285.76 231.2h1.68v1.66h-1.68zM300.88 232.86h6.72v6.62h-6.72zM274 232.86h6.72v6.62h-6.72zM287.44 232.86h6.72v6.62h-6.72zM314.32 232.86h1.68v8.28h-1.68zM274 239.48h1.68v1.66h-1.68zM290.8 239.48h1.68v1.66h-1.68zM294.16 239.48h1.68v1.66h-1.68zM304.24 239.48h1.68v1.66h-1.68zM310.96 239.48h1.68v1.66h-1.68zM277.36 239.48h1.68v1.66h-1.68zM284.08 239.48h1.68v1.66h-1.68zM280.72 239.48h1.68v1.66h-1.68zM287.44 239.48h1.68v1.66h-1.68zM297.52 239.48h1.68v1.66h-1.68zM300.88 239.48h1.68v1.66h-1.68zM307.6 239.48h1.68v1.66h-1.68zM289.12 241.14h1.68v1.66h-1.68zM295.84 241.14h1.68v1.66h-1.68zM275.68 241.14h1.68v1.66h-1.68zM279.04 241.14h1.68v1.66h-1.68zM305.92 241.14h1.68v1.66h-1.68zM309.28 241.14h1.68v1.66h-1.68zM272.32 241.14h1.68v1.66h-1.68zM292.48 241.14h1.68v1.66h-1.68zM299.2 241.14h1.68v1.66h-1.68zM282.4 241.14h1.68v1.66h-1.68zM302.56 241.14h1.68v1.66h-1.68zM312.64 241.14h1.68v1.66h-1.68zM285.76 241.14h1.68v1.66h-1.68zM274 242.8h1.68v1.66h-1.68zM290.8 242.8h1.68v1.66h-1.68zM294.16 242.8h1.68v1.66h-1.68zM304.24 242.8h1.68v1.66h-1.68zM310.96 242.8h1.68v1.66h-1.68zM277.36 242.8h1.68v1.66h-1.68zM284.08 242.8h1.68v1.66h-1.68zM280.72 242.8h1.68v1.66h-1.68zM287.44 242.8h1.68v1.66h-1.68zM314.32 242.8h1.68v1.66h-1.68zM297.52 242.8h1.68v1.66h-1.68zM300.88 242.8h1.68v1.66h-1.68zM307.6 242.8h1.68v1.66h-1.68zM289.12 244.45h1.68v1.66h-1.68zM295.84 244.45h1.68v1.66h-1.68zM275.68 244.45h1.68v1.66h-1.68zM279.04 244.45h1.68v1.66h-1.68zM305.92 244.45h1.68v1.66h-1.68zM309.28 244.45h1.68v1.66h-1.68zM272.32 244.45h1.68v1.66h-1.68zM292.48 244.45h1.68v1.66h-1.68zM299.2 244.45h1.68v1.66h-1.68zM282.4 244.45h1.68v1.66h-1.68zM302.56 244.45h1.68v1.66h-1.68zM312.64 244.45h1.68v1.66h-1.68zM285.76 244.45h1.68v1.66h-1.68zM300.88 246.11h6.72v6.62h-6.72zM274 246.11h6.72v6.62h-6.72zM287.44 246.11h6.72v6.62h-6.72zM314.32 246.11h1.68v8.28h-1.68zM274 252.73h1.68v1.66h-1.68zM290.8 252.73h1.68v1.66h-1.68zM294.16 252.73h1.68v1.66h-1.68zM304.24 252.73h1.68v1.66h-1.68zM310.96 252.73h1.68v1.66h-1.68zM277.36 252.73h1.68v1.66h-1.68zM284.08 252.73h1.68v1.66h-1.68zM280.72 252.73h1.68v1.66h-1.68zM287.44 252.73h1.68v1.66h-1.68zM297.52 252.73h1.68v1.66h-1.68zM300.88 252.73h1.68v1.66h-1.68zM307.6 252.73h1.68v1.66h-1.68zM289.12 254.39h1.68v1.66h-1.68zM295.84 254.39h1.68v1.66h-1.68zM275.68 254.39h1.68v1.66h-1.68zM279.04 254.39h1.68v1.66h-1.68zM305.92 254.39h1.68v1.66h-1.68zM309.28 254.39h1.68v1.66h-1.68zM272.32 254.39h1.68v1.66h-1.68zM292.48 254.39h1.68v1.66h-1.68zM299.2 254.39h1.68v1.66h-1.68zM282.4 254.39h1.68v1.66h-1.68zM302.56 254.39h1.68v1.66h-1.68zM312.64 254.39h1.68v1.66h-1.68zM285.76 254.39h1.68v1.66h-1.68zM274 256.04h1.68v1.66h-1.68zM290.8 256.04h1.68v1.66h-1.68zM294.16 256.04h1.68v1.66h-1.68zM304.24 256.04h1.68v1.66h-1.68zM310.96 256.04h1.68v1.66h-1.68zM277.36 256.04h1.68v1.66h-1.68zM284.08 256.04h1.68v1.66h-1.68zM280.72 256.04h1.68v1.66h-1.68zM287.44 256.04h1.68v1.66h-1.68zM314.32 256.04h1.68v1.66h-1.68zM297.52 256.04h1.68v1.66h-1.68zM300.88 256.04h1.68v1.66h-1.68zM307.6 256.04h1.68v1.66h-1.68zM289.12 257.7h1.68v1.66h-1.68zM295.84 257.7h1.68v1.66h-1.68zM275.68 257.7h1.68v1.66h-1.68zM279.04 257.7h1.68v1.66h-1.68zM305.92 257.7h1.68v1.66h-1.68zM309.28 257.7h1.68v1.66h-1.68zM272.32 257.7h1.68v1.66h-1.68zM292.48 257.7h1.68v1.66h-1.68zM299.2 257.7h1.68v1.66h-1.68zM282.4 257.7h1.68v1.66h-1.68zM302.56 257.7h1.68v1.66h-1.68zM312.64 257.7h1.68v1.66h-1.68zM285.76 257.7h1.68v1.66h-1.68zM300.88 259.36h6.72v6.62h-6.72zM274 259.36h6.72v6.62h-6.72zM287.44 259.36h6.72v6.62h-6.72zM314.32 259.36h1.68v8.28h-1.68zM274 265.98h1.68v1.66h-1.68zM290.8 265.98h1.68v1.66h-1.68zM294.16 265.98h1.68v1.66h-1.68zM304.24 265.98h1.68v1.66h-1.68zM310.96 265.98h1.68v1.66h-1.68zM277.36 265.98h1.68v1.66h-1.68zM284.08 265.98h1.68v1.66h-1.68zM280.72 265.98h1.68v1.66h-1.68zM287.44 265.98h1.68v1.66h-1.68zM297.52 265.98h1.68v1.66h-1.68zM300.88 265.98h1.68v1.66h-1.68zM307.6 265.98h1.68v1.66h-1.68zM289.12 267.64h1.68v1.66h-1.68zM295.84 267.64h1.68v1.66h-1.68zM275.68 267.64h1.68v1.66h-1.68zM279.04 267.64h1.68v1.66h-1.68zM305.92 267.64h1.68v1.66h-1.68zM309.28 267.64h1.68v1.66h-1.68zM272.32 267.64h1.68v1.66h-1.68zM292.48 267.64h1.68v1.66h-1.68zM299.2 267.64h1.68v1.66h-1.68zM282.4 267.64h1.68v1.66h-1.68zM302.56 267.64h1.68v1.66h-1.68zM312.64 267.64h1.68v1.66h-1.68zM285.76 267.64h1.68v1.66h-1.68zM274 269.29h1.68v1.66h-1.68zM290.8 269.29h1.68v1.66h-1.68zM294.16 269.29h1.68v1.66h-1.68zM304.24 269.29h1.68v1.66h-1.68zM310.96 269.29h1.68v1.66h-1.68zM277.36 269.29h1.68v1.66h-1.68zM284.08 269.29h1.68v1.66h-1.68zM280.72 269.29h1.68v1.66h-1.68zM287.44 269.29h1.68v1.66h-1.68zM314.32 269.29h1.68v1.66h-1.68zM297.52 269.29h1.68v1.66h-1.68zM300.88 269.29h1.68v1.66h-1.68zM307.6 269.29h1.68v1.66h-1.68zM289.12 270.95h1.68v1.66h-1.68zM295.84 270.95h1.68v1.66h-1.68zM275.68 270.95h1.68v1.66h-1.68zM279.04 270.95h1.68v1.66h-1.68zM305.92 270.95h1.68v1.66h-1.68zM309.28 270.95h1.68v1.66h-1.68zM272.32 270.95h1.68v1.66h-1.68zM292.48 270.95h1.68v1.66h-1.68zM299.2 270.95h1.68v1.66h-1.68zM282.4 270.95h1.68v1.66h-1.68zM302.56 270.95h1.68v1.66h-1.68zM312.64 270.95h1.68v1.66h-1.68zM285.76 270.95h1.68v1.66h-1.68zM300.88 272.6h6.72v6.62h-6.72zM274 272.6h6.72v6.62h-6.72zM287.44 272.6h6.72v6.62h-6.72zM314.32 272.6h1.68v8.28h-1.68zM274 279.23h1.68v1.66h-1.68zM290.8 279.23h1.68v1.66h-1.68zM294.16 279.23h1.68v1.66h-1.68zM304.24 279.23h1.68v1.66h-1.68zM310.96 279.23h1.68v1.66h-1.68zM277.36 279.23h1.68v1.66h-1.68zM284.08 279.23h1.68v1.66h-1.68zM280.72 279.23h1.68v1.66h-1.68zM287.44 279.23h1.68v1.66h-1.68zM297.52 279.23h1.68v1.66h-1.68zM300.88 279.23h1.68v1.66h-1.68zM307.6 279.23h1.68v1.66h-1.68zM289.12 280.88h1.68v1.66h-1.68zM295.84 280.88h1.68v1.66h-1.68zM275.68 280.88h1.68v1.66h-1.68zM279.04 280.88h1.68v1.66h-1.68zM305.92 280.88h1.68v1.66h-1.68zM309.28 280.88h1.68v1.66h-1.68zM272.32 280.88h1.68v1.66h-1.68zM292.48 280.88h1.68v1.66h-1.68zM299.2 280.88h1.68v1.66h-1.68zM282.4 280.88h1.68v1.66h-1.68zM302.56 280.88h1.68v1.66h-1.68zM312.64 280.88h1.68v1.66h-1.68zM285.76 280.88h1.68v1.66h-1.68zM274 282.54h1.68v1.66h-1.68zM290.8 282.54h1.68v1.66h-1.68zM294.16 282.54h1.68v1.66h-1.68zM304.24 282.54h1.68v1.66h-1.68zM310.96 282.54h1.68v1.66h-1.68zM277.36 282.54h1.68v1.66h-1.68zM284.08 282.54h1.68v1.66h-1.68zM280.72 282.54h1.68v1.66h-1.68zM287.44 282.54h1.68v1.66h-1.68zM314.32 282.54h1.68v1.66h-1.68zM297.52 282.54h1.68v1.66h-1.68zM300.88 282.54h1.68v1.66h-1.68zM307.6 282.54h1.68v1.66h-1.68zM289.12 284.2h1.68v1.66h-1.68zM295.84 284.2h1.68v1.66h-1.68zM275.68 284.2h1.68v1.66h-1.68zM279.04 284.2h1.68v1.66h-1.68zM305.92 284.2h1.68v1.66h-1.68zM309.28 284.2h1.68v1.66h-1.68zM272.32 284.2h1.68v1.66h-1.68zM292.48 284.2h1.68v1.66h-1.68zM299.2 284.2h1.68v1.66h-1.68zM282.4 284.2h1.68v1.66h-1.68zM302.56 284.2h1.68v1.66h-1.68zM312.64 284.2h1.68v1.66h-1.68zM285.76 284.2h1.68v1.66h-1.68zM300.88 285.85h6.72v6.62h-6.72zM274 285.85h6.72v6.62h-6.72zM287.44 285.85h6.72v6.62h-6.72zM314.32 285.85h1.68v8.28h-1.68zM274 292.48h1.68v1.66h-1.68zM290.8 292.48h1.68v1.66h-1.68zM294.16 292.48h1.68v1.66h-1.68zM304.24 292.48h1.68v1.66h-1.68zM310.96 292.48h1.68v1.66h-1.68zM277.36 292.48h1.68v1.66h-1.68zM284.08 292.48h1.68v1.66h-1.68zM280.72 292.48h1.68v1.66h-1.68zM287.44 292.48h1.68v1.66h-1.68zM297.52 292.48h1.68v1.66h-1.68zM300.88 292.48h1.68v1.66h-1.68zM307.6 292.48h1.68v1.66h-1.68zM289.12 294.13h1.68v1.66h-1.68zM295.84 294.13h1.68v1.66h-1.68zM275.68 294.13h1.68v1.66h-1.68zM279.04 294.13h1.68v1.66h-1.68zM305.92 294.13h1.68v1.66h-1.68zM309.28 294.13h1.68v1.66h-1.68zM272.32 294.13h1.68v1.66h-1.68zM292.48 294.13h1.68v1.66h-1.68zM299.2 294.13h1.68v1.66h-1.68zM282.4 294.13h1.68v1.66h-1.68zM302.56 294.13h1.68v1.66h-1.68zM312.64 294.13h1.68v1.66h-1.68zM285.76 294.13h1.68v1.66h-1.68zM274 295.79h1.68v1.66h-1.68zM290.8 295.79h1.68v1.66h-1.68zM294.16 295.79h1.68v1.66h-1.68zM304.24 295.79h1.68v1.66h-1.68zM310.96 295.79h1.68v1.66h-1.68zM277.36 295.79h1.68v1.66h-1.68zM284.08 295.79h1.68v1.66h-1.68zM280.72 295.79h1.68v1.66h-1.68zM287.44 295.79h1.68v1.66h-1.68zM314.32 295.79h1.68v1.66h-1.68zM297.52 295.79h1.68v1.66h-1.68zM300.88 295.79h1.68v1.66h-1.68zM307.6 295.79h1.68v1.66h-1.68zM289.12 297.44h1.68v1.66h-1.68zM295.84 297.44h1.68v1.66h-1.68zM275.68 297.44h1.68v1.66h-1.68zM279.04 297.44h1.68v1.66h-1.68zM305.92 297.44h1.68v1.66h-1.68zM309.28 297.44h1.68v1.66h-1.68zM272.32 297.44h1.68v1.66h-1.68zM292.48 297.44h1.68v1.66h-1.68zM299.2 297.44h1.68v1.66h-1.68zM282.4 297.44h1.68v1.66h-1.68zM302.56 297.44h1.68v1.66h-1.68zM312.64 297.44h1.68v1.66h-1.68zM285.76 297.44h1.68v1.66h-1.68zM300.88 299.1h6.72v6.62h-6.72zM274 299.1h6.72v6.62h-6.72zM287.44 299.1h6.72v6.62h-6.72zM314.32 299.1h1.68v8.28h-1.68zM274 305.72h1.68v1.66h-1.68zM290.8 305.72h1.68v1.66h-1.68zM294.16 305.72h1.68v1.66h-1.68zM304.24 305.72h1.68v1.66h-1.68zM310.96 305.72h1.68v1.66h-1.68zM277.36 305.72h1.68v1.66h-1.68zM284.08 305.72h1.68v1.66h-1.68zM280.72 305.72h1.68v1.66h-1.68zM287.44 305.72h1.68v1.66h-1.68zM297.52 305.72h1.68v1.66h-1.68zM300.88 305.72h1.68v1.66h-1.68zM307.6 305.72h1.68v1.66h-1.68zM289.12 307.38h1.68v1.66h-1.68zM295.84 307.38h1.68v1.66h-1.68zM275.68 307.38h1.68v1.66h-1.68zM279.04 307.38h1.68v1.66h-1.68zM305.92 307.38h1.68v1.66h-1.68zM309.28 307.38h1.68v1.66h-1.68zM272.32 307.38h1.68v1.66h-1.68zM292.48 307.38h1.68v1.66h-1.68zM299.2 307.38h1.68v1.66h-1.68zM282.4 307.38h1.68v1.66h-1.68zM302.56 307.38h1.68v1.66h-1.68zM312.64 307.38h1.68v1.66h-1.68zM285.76 307.38h1.68v1.66h-1.68zM274 309.04h1.68v1.66h-1.68zM290.8 309.04h1.68v1.66h-1.68zM294.16 309.04h1.68v1.66h-1.68zM304.24 309.04h1.68v1.66h-1.68zM310.96 309.04h1.68v1.66h-1.68zM277.36 309.04h1.68v1.66h-1.68zM284.08 309.04h1.68v1.66h-1.68zM280.72 309.04h1.68v1.66h-1.68zM287.44 309.04h1.68v1.66h-1.68zM314.32 309.04h1.68v1.66h-1.68zM297.52 309.04h1.68v1.66h-1.68zM300.88 309.04h1.68v1.66h-1.68zM307.6 309.04h1.68v1.66h-1.68zM289.12 310.69h1.68v1.66h-1.68zM295.84 310.69h1.68v1.66h-1.68zM275.68 310.69h1.68v1.66h-1.68zM279.04 310.69h1.68v1.66h-1.68zM305.92 310.69h1.68v1.66h-1.68zM309.28 310.69h1.68v1.66h-1.68zM272.32 310.69h1.68v1.66h-1.68zM292.48 310.69h1.68v1.66h-1.68zM299.2 310.69h1.68v1.66h-1.68zM282.4 310.69h1.68v1.66h-1.68zM302.56 310.69h1.68v1.66h-1.68zM312.64 310.69h1.68v1.66h-1.68zM285.76 310.69h1.68v1.66h-1.68zM300.88 312.35h6.72v6.62h-6.72zM274 312.35h6.72v6.62h-6.72zM287.44 312.35h6.72v6.62h-6.72zM314.32 312.35h1.68v8.28h-1.68zM274 318.97h1.68v1.66h-1.68zM290.8 318.97h1.68v1.66h-1.68zM294.16 318.97h1.68v1.66h-1.68zM304.24 318.97h1.68v1.66h-1.68zM310.96 318.97h1.68v1.66h-1.68zM277.36 318.97h1.68v1.66h-1.68zM284.08 318.97h1.68v1.66h-1.68zM280.72 318.97h1.68v1.66h-1.68zM287.44 318.97h1.68v1.66h-1.68zM297.52 318.97h1.68v1.66h-1.68zM300.88 318.97h1.68v1.66h-1.68zM307.6 318.97h1.68v1.66h-1.68zM289.12 320.63h1.68v1.66h-1.68zM295.84 320.63h1.68v1.66h-1.68zM275.68 320.63h1.68v1.66h-1.68zM279.04 320.63h1.68v1.66h-1.68zM305.92 320.63h1.68v1.66h-1.68zM309.28 320.63h1.68v1.66h-1.68zM272.32 320.63h1.68v1.66h-1.68zM292.48 320.63h1.68v1.66h-1.68zM299.2 320.63h1.68v1.66h-1.68zM282.4 320.63h1.68v1.66h-1.68zM302.56 320.63h1.68v1.66h-1.68zM312.64 320.63h1.68v1.66h-1.68zM285.76 320.63h1.68v1.66h-1.68zM274 322.28h1.68v1.66h-1.68zM290.8 322.28h1.68v1.66h-1.68zM294.16 322.28h1.68v1.66h-1.68zM304.24 322.28h1.68v1.66h-1.68zM310.96 322.28h1.68v1.66h-1.68zM277.36 322.28h1.68v1.66h-1.68zM284.08 322.28h1.68v1.66h-1.68zM280.72 322.28h1.68v1.66h-1.68zM287.44 322.28h1.68v1.66h-1.68zM314.32 322.28h1.68v1.66h-1.68zM297.52 322.28h1.68v1.66h-1.68zM300.88 322.28h1.68v1.66h-1.68zM307.6 322.28h1.68v1.66h-1.68zM289.12 323.94h1.68v1.66h-1.68zM295.84 323.94h1.68v1.66h-1.68zM275.68 323.94h1.68v1.66h-1.68zM279.04 323.94h1.68v1.66h-1.68zM305.92 323.94h1.68v1.66h-1.68zM309.28 323.94h1.68v1.66h-1.68zM272.32 323.94h1.68v1.66h-1.68zM292.48 323.94h1.68v1.66h-1.68zM299.2 323.94h1.68v1.66h-1.68zM282.4 323.94h1.68v1.66h-1.68zM302.56 323.94h1.68v1.66h-1.68zM312.64 323.94h1.68v1.66h-1.68zM285.76 323.94h1.68v1.66h-1.68zM300.88 325.6h6.72v6.62h-6.72zM274 325.6h6.72v6.62h-6.72zM287.44 325.6h6.72v6.62h-6.72zM314.32 325.6h1.68v8.28h-1.68zM274 332.22h1.68v1.66h-1.68zM290.8 332.22h1.68v1.66h-1.68zM294.16 332.22h1.68v1.66h-1.68zM304.24 332.22h1.68v1.66h-1.68zM310.96 332.22h1.68v1.66h-1.68zM277.36 332.22h1.68v1.66h-1.68zM284.08 332.22h1.68v1.66h-1.68zM280.72 332.22h1.68v1.66h-1.68zM287.44 332.22h1.68v1.66h-1.68zM297.52 332.22h1.68v1.66h-1.68zM300.88 332.22h1.68v1.66h-1.68zM307.6 332.22h1.68v1.66h-1.68zM289.12 333.88h1.68v1.66h-1.68zM295.84 333.88h1.68v1.66h-1.68zM275.68 333.88h1.68v1.66h-1.68zM279.04 333.88h1.68v1.66h-1.68zM305.92 333.88h1.68v1.66h-1.68zM309.28 333.88h1.68v1.66h-1.68zM272.32 333.88h1.68v1.66h-1.68zM292.48 333.88h1.68v1.66h-1.68zM299.2 333.88h1.68v1.66h-1.68zM282.4 333.88h1.68v1.66h-1.68zM302.56 333.88h1.68v1.66h-1.68zM312.64 333.88h1.68v1.66h-1.68zM285.76 333.88h1.68v1.66h-1.68zM274 335.53h1.68v1.66h-1.68zM290.8 335.53h1.68v1.66h-1.68zM294.16 335.53h1.68v1.66h-1.68zM304.24 335.53h1.68v1.66h-1.68zM310.96 335.53h1.68v1.66h-1.68zM277.36 335.53h1.68v1.66h-1.68zM284.08 335.53h1.68v1.66h-1.68zM280.72 335.53h1.68v1.66h-1.68zM287.44 335.53h1.68v1.66h-1.68zM314.32 335.53h1.68v1.66h-1.68zM297.52 335.53h1.68v1.66h-1.68zM300.88 335.53h1.68v1.66h-1.68zM307.6 335.53h1.68v1.66h-1.68zM289.12 337.19h1.68v1.66h-1.68zM295.84 337.19h1.68v1.66h-1.68zM275.68 337.19h1.68v1.66h-1.68zM279.04 337.19h1.68v1.66h-1.68zM305.92 337.19h1.68v1.66h-1.68zM309.28 337.19h1.68v1.66h-1.68zM272.32 337.19h1.68v1.66h-1.68zM292.48 337.19h1.68v1.66h-1.68zM299.2 337.19h1.68v1.66h-1.68zM282.4 337.19h1.68v1.66h-1.68zM302.56 337.19h1.68v1.66h-1.68zM312.64 337.19h1.68v1.66h-1.68zM285.76 337.19h1.68v1.66h-1.68zM300.88 338.84h6.72v6.62h-6.72zM274 338.84h6.72v6.62h-6.72zM287.44 338.84h6.72v6.62h-6.72zM314.32 338.84h1.68v8.28h-1.68zM274 345.47h1.68v1.66h-1.68zM290.8 345.47h1.68v1.66h-1.68zM294.16 345.47h1.68v1.66h-1.68zM304.24 345.47h1.68v1.66h-1.68zM310.96 345.47h1.68v1.66h-1.68zM277.36 345.47h1.68v1.66h-1.68zM284.08 345.47h1.68v1.66h-1.68zM280.72 345.47h1.68v1.66h-1.68zM287.44 345.47h1.68v1.66h-1.68zM297.52 345.47h1.68v1.66h-1.68zM300.88 345.47h1.68v1.66h-1.68zM307.6 345.47h1.68v1.66h-1.68zM289.12 347.12h1.68v1.66h-1.68zM295.84 347.12h1.68v1.66h-1.68zM275.68 347.12h1.68v1.66h-1.68zM279.04 347.12h1.68v1.66h-1.68zM305.92 347.12h1.68v1.66h-1.68zM309.28 347.12h1.68v1.66h-1.68zM272.32 347.12h1.68v1.66h-1.68zM292.48 347.12h1.68v1.66h-1.68zM299.2 347.12h1.68v1.66h-1.68zM282.4 347.12h1.68v1.66h-1.68zM302.56 347.12h1.68v1.66h-1.68zM312.64 347.12h1.68v1.66h-1.68zM285.76 347.12h1.68v1.66h-1.68zM274 348.78h1.68v1.66h-1.68zM290.8 348.78h1.68v1.66h-1.68zM294.16 348.78h1.68v1.66h-1.68zM304.24 348.78h1.68v1.66h-1.68zM310.96 348.78h1.68v1.66h-1.68zM277.36 348.78h1.68v1.66h-1.68zM284.08 348.78h1.68v1.66h-1.68zM280.72 348.78h1.68v1.66h-1.68zM287.44 348.78h1.68v1.66h-1.68zM314.32 348.78h1.68v1.66h-1.68zM297.52 348.78h1.68v1.66h-1.68zM300.88 348.78h1.68v1.66h-1.68zM307.6 348.78h1.68v1.66h-1.68zM289.12 350.44h1.68v1.66h-1.68zM295.84 350.44h1.68v1.66h-1.68zM275.68 350.44h1.68v1.66h-1.68zM279.04 350.44h1.68v1.66h-1.68zM305.92 350.44h1.68v1.66h-1.68zM309.28 350.44h1.68v1.66h-1.68zM272.32 350.44h1.68v1.66h-1.68zM292.48 350.44h1.68v1.66h-1.68zM299.2 350.44h1.68v1.66h-1.68zM282.4 350.44h1.68v1.66h-1.68zM302.56 350.44h1.68v1.66h-1.68zM312.64 350.44h1.68v1.66h-1.68zM285.76 350.44h1.68v1.66h-1.68zM300.88 352.09h6.72v6.62h-6.72zM274 352.09h6.72v6.62h-6.72zM287.44 352.09h6.72v6.62h-6.72zM314.32 352.09h1.68v8.28h-1.68zM274 358.72h1.68v1.66h-1.68zM290.8 358.72h1.68v1.66h-1.68zM294.16 358.72h1.68v1.66h-1.68zM304.24 358.72h1.68v1.66h-1.68zM310.96 358.72h1.68v1.66h-1.68zM277.36 358.72h1.68v1.66h-1.68zM284.08 358.72h1.68v1.66h-1.68zM280.72 358.72h1.68v1.66h-1.68zM287.44 358.72h1.68v1.66h-1.68zM297.52 358.72h1.68v1.66h-1.68zM300.88 358.72h1.68v1.66h-1.68zM307.6 358.72h1.68v1.66h-1.68zM289.12 360.37h1.68v1.66h-1.68zM295.84 360.37h1.68v1.66h-1.68zM275.68 360.37h1.68v1.66h-1.68zM279.04 360.37h1.68v1.66h-1.68zM305.92 360.37h1.68v1.66h-1.68zM309.28 360.37h1.68v1.66h-1.68zM272.32 360.37h1.68v1.66h-1.68zM292.48 360.37h1.68v1.66h-1.68zM299.2 360.37h1.68v1.66h-1.68zM282.4 360.37h1.68v1.66h-1.68zM302.56 360.37h1.68v1.66h-1.68zM312.64 360.37h1.68v1.66h-1.68zM285.76 360.37h1.68v1.66h-1.68zM274 362.03h1.68v1.66h-1.68zM290.8 362.03h1.68v1.66h-1.68zM294.16 362.03h1.68v1.66h-1.68zM304.24 362.03h1.68v1.66h-1.68zM310.96 362.03h1.68v1.66h-1.68zM277.36 362.03h1.68v1.66h-1.68zM284.08 362.03h1.68v1.66h-1.68zM280.72 362.03h1.68v1.66h-1.68zM287.44 362.03h1.68v1.66h-1.68zM314.32 362.03h1.68v1.66h-1.68zM297.52 362.03h1.68v1.66h-1.68zM300.88 362.03h1.68v1.66h-1.68zM307.6 362.03h1.68v1.66h-1.68zM289.12 363.68h1.68v1.66h-1.68zM295.84 363.68h1.68v1.66h-1.68zM275.68 363.68h1.68v1.66h-1.68zM279.04 363.68h1.68v1.66h-1.68zM305.92 363.68h1.68v1.66h-1.68zM309.28 363.68h1.68v1.66h-1.68zM272.32 363.68h1.68v1.66h-1.68zM292.48 363.68h1.68v1.66h-1.68zM299.2 363.68h1.68v1.66h-1.68zM282.4 363.68h1.68v1.66h-1.68zM302.56 363.68h1.68v1.66h-1.68zM312.64 363.68h1.68v1.66h-1.68zM285.76 363.68h1.68v1.66h-1.68zM300.88 365.34h6.72v6.62h-6.72zM274 365.34h6.72v6.62h-6.72zM287.44 365.34h6.72v6.62h-6.72zM314.32 365.34h1.68v8.28h-1.68zM274 371.96h1.68v1.66h-1.68zM290.8 371.96h1.68v1.66h-1.68zM294.16 371.96h1.68v1.66h-1.68zM304.24 371.96h1.68v1.66h-1.68zM310.96 371.96h1.68v1.66h-1.68zM277.36 371.96h1.68v1.66h-1.68zM284.08 371.96h1.68v1.66h-1.68zM280.72 371.96h1.68v1.66h-1.68zM287.44 371.96h1.68v1.66h-1.68zM297.52 371.96h1.68v1.66h-1.68zM300.88 371.96h1.68v1.66h-1.68zM307.6 371.96h1.68v1.66h-1.68zM289.12 373.62h1.68v1.66h-1.68zM295.84 373.62h1.68v1.66h-1.68zM275.68 373.62h1.68v1.66h-1.68zM279.04 373.62h1.68v1.66h-1.68zM305.92 373.62h1.68v1.66h-1.68zM309.28 373.62h1.68v1.66h-1.68zM272.32 373.62h1.68v1.66h-1.68zM292.48 373.62h1.68v1.66h-1.68zM299.2 373.62h1.68v1.66h-1.68zM282.4 373.62h1.68v1.66h-1.68zM302.56 373.62h1.68v1.66h-1.68zM312.64 373.62h1.68v1.66h-1.68zM285.76 373.62h1.68v1.66h-1.68zM274 375.28h1.68v1.66h-1.68zM290.8 375.28h1.68v1.66h-1.68zM294.16 375.28h1.68v1.66h-1.68zM304.24 375.28h1.68v1.66h-1.68zM310.96 375.28h1.68v1.66h-1.68zM277.36 375.28h1.68v1.66h-1.68zM284.08 375.28h1.68v1.66h-1.68zM280.72 375.28h1.68v1.66h-1.68zM287.44 375.28h1.68v1.66h-1.68zM314.32 375.28h1.68v1.66h-1.68zM297.52 375.28h1.68v1.66h-1.68zM300.88 375.28h1.68v1.66h-1.68zM307.6 375.28h1.68v1.66h-1.68zM289.12 376.93h1.68v1.66h-1.68zM295.84 376.93h1.68v1.66h-1.68zM275.68 376.93h1.68v1.66h-1.68zM279.04 376.93h1.68v1.66h-1.68zM305.92 376.93h1.68v1.66h-1.68zM309.28 376.93h1.68v1.66h-1.68zM272.32 376.93h1.68v1.66h-1.68zM292.48 376.93h1.68v1.66h-1.68zM299.2 376.93h1.68v1.66h-1.68zM282.4 376.93h1.68v1.66h-1.68zM302.56 376.93h1.68v1.66h-1.68zM312.64 376.93h1.68v1.66h-1.68zM285.76 376.93h1.68v1.66h-1.68zM300.88 378.59h6.72v6.62h-6.72zM274 378.59h6.72v6.62h-6.72zM287.44 378.59h6.72v6.62h-6.72zM314.32 378.59h1.68v8.28h-1.68zM274 385.21h1.68v1.66h-1.68zM290.8 385.21h1.68v1.66h-1.68zM294.16 385.21h1.68v1.66h-1.68zM304.24 385.21h1.68v1.66h-1.68zM310.96 385.21h1.68v1.66h-1.68zM277.36 385.21h1.68v1.66h-1.68zM284.08 385.21h1.68v1.66h-1.68zM280.72 385.21h1.68v1.66h-1.68zM287.44 385.21h1.68v1.66h-1.68zM297.52 385.21h1.68v1.66h-1.68zM300.88 385.21h1.68v1.66h-1.68zM307.6 385.21h1.68v1.66h-1.68zM289.12 386.87h1.68v1.66h-1.68zM295.84 386.87h1.68v1.66h-1.68zM275.68 386.87h1.68v1.66h-1.68zM279.04 386.87h1.68v1.66h-1.68zM305.92 386.87h1.68v1.66h-1.68zM309.28 386.87h1.68v1.66h-1.68zM272.32 386.87h1.68v1.66h-1.68zM292.48 386.87h1.68v1.66h-1.68zM299.2 386.87h1.68v1.66h-1.68zM282.4 386.87h1.68v1.66h-1.68zM302.56 386.87h1.68v1.66h-1.68zM312.64 386.87h1.68v1.66h-1.68zM285.76 386.87h1.68v1.66h-1.68zM274 388.52h1.68v1.66h-1.68zM290.8 388.52h1.68v1.66h-1.68zM294.16 388.52h1.68v1.66h-1.68zM304.24 388.52h1.68v1.66h-1.68zM310.96 388.52h1.68v1.66h-1.68zM277.36 388.52h1.68v1.66h-1.68zM284.08 388.52h1.68v1.66h-1.68zM280.72 388.52h1.68v1.66h-1.68zM287.44 388.52h1.68v1.66h-1.68zM314.32 388.52h1.68v1.66h-1.68zM297.52 388.52h1.68v1.66h-1.68zM300.88 388.52h1.68v1.66h-1.68zM307.6 388.52h1.68v1.66h-1.68zM289.12 390.18h1.68v1.66h-1.68zM295.84 390.18h1.68v1.66h-1.68zM275.68 390.18h1.68v1.66h-1.68zM279.04 390.18h1.68v1.66h-1.68zM305.92 390.18h1.68v1.66h-1.68zM309.28 390.18h1.68v1.66h-1.68zM272.32 390.18h1.68v1.66h-1.68zM292.48 390.18h1.68v1.66h-1.68zM299.2 390.18h1.68v1.66h-1.68zM282.4 390.18h1.68v1.66h-1.68zM302.56 390.18h1.68v1.66h-1.68zM312.64 390.18h1.68v1.66h-1.68zM285.76 390.18h1.68v1.66h-1.68zM300.88 391.84h6.72v6.62h-6.72zM274 391.84h6.72v6.62h-6.72zM287.44 391.84h6.72v6.62h-6.72zM314.32 391.84h1.68v8.28h-1.68zM274 398.46h1.68v1.66h-1.68zM290.8 398.46h1.68v1.66h-1.68zM294.16 398.46h1.68v1.66h-1.68zM304.24 398.46h1.68v1.66h-1.68zM310.96 398.46h1.68v1.66h-1.68zM277.36 398.46h1.68v1.66h-1.68zM284.08 398.46h1.68v1.66h-1.68zM280.72 398.46h1.68v1.66h-1.68zM287.44 398.46h1.68v1.66h-1.68zM297.52 398.46h1.68v1.66h-1.68zM300.88 398.46h1.68v1.66h-1.68zM307.6 398.46h1.68v1.66h-1.68zM289.12 400.12h1.68v1.66h-1.68zM295.84 400.12h1.68v1.66h-1.68zM275.68 400.12h1.68v1.66h-1.68zM279.04 400.12h1.68v1.66h-1.68zM305.92 400.12h1.68v1.66h-1.68zM309.28 400.12h1.68v1.66h-1.68zM272.32 400.12h1.68v1.66h-1.68zM292.48 400.12h1.68v1.66h-1.68zM299.2 400.12h1.68v1.66h-1.68zM282.4 400.12h1.68v1.66h-1.68zM302.56 400.12h1.68v1.66h-1.68zM312.64 400.12h1.68v1.66h-1.68zM285.76 400.12h1.68v1.66h-1.68zM274 401.77h1.68v1.66h-1.68zM290.8 401.77h1.68v1.66h-1.68zM294.16 401.77h1.68v1.66h-1.68zM304.24 401.77h1.68v1.66h-1.68zM310.96 401.77h1.68v1.66h-1.68zM277.36 401.77h1.68v1.66h-1.68zM284.08 401.77h1.68v1.66h-1.68zM280.72 401.77h1.68v1.66h-1.68zM287.44 401.77h1.68v1.66h-1.68zM314.32 401.77h1.68v1.66h-1.68zM297.52 401.77h1.68v1.66h-1.68zM300.88 401.77h1.68v1.66h-1.68zM307.6 401.77h1.68v1.66h-1.68zM289.12 403.43h1.68v1.66h-1.68zM295.84 403.43h1.68v1.66h-1.68zM275.68 403.43h1.68v1.66h-1.68zM279.04 403.43h1.68v1.66h-1.68zM305.92 403.43h1.68v1.66h-1.68zM309.28 403.43h1.68v1.66h-1.68zM272.32 403.43h1.68v1.66h-1.68zM292.48 403.43h1.68v1.66h-1.68zM299.2 403.43h1.68v1.66h-1.68zM282.4 403.43h1.68v1.66h-1.68zM302.56 403.43h1.68v1.66h-1.68zM312.64 403.43h1.68v1.66h-1.68zM285.76 403.43h1.68v1.66h-1.68zM300.88 405.08h6.72v6.62h-6.72zM274 405.08h6.72v6.62h-6.72zM287.44 405.08h6.72v6.62h-6.72zM314.32 405.08h1.68v8.28h-1.68zM274 411.71h1.68v1.66h-1.68zM290.8 411.71h1.68v1.66h-1.68zM294.16 411.71h1.68v1.66h-1.68zM304.24 411.71h1.68v1.66h-1.68zM310.96 411.71h1.68v1.66h-1.68zM277.36 411.71h1.68v1.66h-1.68zM284.08 411.71h1.68v1.66h-1.68zM280.72 411.71h1.68v1.66h-1.68zM287.44 411.71h1.68v1.66h-1.68zM297.52 411.71h1.68v1.66h-1.68zM300.88 411.71h1.68v1.66h-1.68zM307.6 411.71h1.68v1.66h-1.68zM289.12 413.36h1.68v1.66h-1.68zM295.84 413.36h1.68v1.66h-1.68zM275.68 413.36h1.68v1.66h-1.68zM279.04 413.36h1.68v1.66h-1.68zM305.92 413.36h1.68v1.66h-1.68zM309.28 413.36h1.68v1.66h-1.68zM272.32 413.36h1.68v1.66h-1.68zM292.48 413.36h1.68v1.66h-1.68zM299.2 413.36h1.68v1.66h-1.68zM282.4 413.36h1.68v1.66h-1.68zM302.56 413.36h1.68v1.66h-1.68zM312.64 413.36h1.68v1.66h-1.68zM285.76 413.36h1.68v1.66h-1.68zM274 415.02h1.68v1.66h-1.68zM290.8 415.02h1.68v1.66h-1.68zM294.16 415.02h1.68v1.66h-1.68zM304.24 415.02h1.68v1.66h-1.68zM310.96 415.02h1.68v1.66h-1.68zM277.36 415.02h1.68v1.66h-1.68zM284.08 415.02h1.68v1.66h-1.68zM280.72 415.02h1.68v1.66h-1.68zM287.44 415.02h1.68v1.66h-1.68zM314.32 415.02h1.68v1.66h-1.68zM297.52 415.02h1.68v1.66h-1.68zM300.88 415.02h1.68v1.66h-1.68zM307.6 415.02h1.68v1.66h-1.68zM289.12 416.68h1.68v1.66h-1.68zM295.84 416.68h1.68v1.66h-1.68zM275.68 416.68h1.68v1.66h-1.68zM279.04 416.68h1.68v1.66h-1.68zM305.92 416.68h1.68v1.66h-1.68zM309.28 416.68h1.68v1.66h-1.68zM272.32 416.68h1.68v1.66h-1.68zM292.48 416.68h1.68v1.66h-1.68zM299.2 416.68h1.68v1.66h-1.68zM282.4 416.68h1.68v1.66h-1.68zM302.56 416.68h1.68v1.66h-1.68zM312.64 416.68h1.68v1.66h-1.68zM285.76 416.68h1.68v1.66h-1.68zM300.88 418.33h6.72v6.62h-6.72zM274 418.33h6.72v6.62h-6.72zM287.44 418.33h6.72v6.62h-6.72zM314.32 418.33h1.68v8.28h-1.68zM274 424.96h1.68v1.66h-1.68zM290.8 424.96h1.68v1.66h-1.68zM294.16 424.96h1.68v1.66h-1.68zM304.24 424.96h1.68v1.66h-1.68zM310.96 424.96h1.68v1.66h-1.68zM277.36 424.96h1.68v1.66h-1.68zM284.08 424.96h1.68v1.66h-1.68zM280.72 424.96h1.68v1.66h-1.68zM287.44 424.96h1.68v1.66h-1.68zM297.52 424.96h1.68v1.66h-1.68zM300.88 424.96h1.68v1.66h-1.68zM307.6 424.96h1.68v1.66h-1.68zM289.12 426.61h1.68v1.66h-1.68zM295.84 426.61h1.68v1.66h-1.68zM275.68 426.61h1.68v1.66h-1.68zM279.04 426.61h1.68v1.66h-1.68zM305.92 426.61h1.68v1.66h-1.68zM309.28 426.61h1.68v1.66h-1.68zM272.32 426.61h1.68v1.66h-1.68zM292.48 426.61h1.68v1.66h-1.68zM299.2 426.61h1.68v1.66h-1.68zM282.4 426.61h1.68v1.66h-1.68zM302.56 426.61h1.68v1.66h-1.68zM312.64 426.61h1.68v1.66h-1.68zM285.76 426.61h1.68v1.66h-1.68zM274 428.27h1.68v1.66h-1.68zM290.8 428.27h1.68v1.66h-1.68zM294.16 428.27h1.68v1.66h-1.68zM304.24 428.27h1.68v1.66h-1.68zM310.96 428.27h1.68v1.66h-1.68zM277.36 428.27h1.68v1.66h-1.68zM284.08 428.27h1.68v1.66h-1.68zM280.72 428.27h1.68v1.66h-1.68zM287.44 428.27h1.68v1.66h-1.68zM314.32 428.27h1.68v1.66h-1.68zM297.52 428.27h1.68v1.66h-1.68zM300.88 428.27h1.68v1.66h-1.68zM307.6 428.27h1.68v1.66h-1.68zM289.12 429.92h1.68v1.66h-1.68zM295.84 429.92h1.68v1.66h-1.68zM275.68 429.92h1.68v1.66h-1.68zM279.04 429.92h1.68v1.66h-1.68zM305.92 429.92h1.68v1.66h-1.68zM309.28 429.92h1.68v1.66h-1.68zM272.32 429.92h1.68v1.66h-1.68zM292.48 429.92h1.68v1.66h-1.68zM299.2 429.92h1.68v1.66h-1.68zM282.4 429.92h1.68v1.66h-1.68zM302.56 429.92h1.68v1.66h-1.68zM312.64 429.92h1.68v1.66h-1.68zM285.76 429.92h1.68v1.66h-1.68zM300.88 431.58h6.72v6.62h-6.72zM274 431.58h6.72v6.62h-6.72zM287.44 431.58h6.72v6.62h-6.72zM314.32 431.58h1.68v8.28h-1.68zM274 438.2h1.68v1.66h-1.68zM290.8 438.2h1.68v1.66h-1.68zM294.16 438.2h1.68v1.66h-1.68zM304.24 438.2h1.68v1.66h-1.68zM310.96 438.2h1.68v1.66h-1.68zM277.36 438.2h1.68v1.66h-1.68zM284.08 438.2h1.68v1.66h-1.68zM280.72 438.2h1.68v1.66h-1.68zM287.44 438.2h1.68v1.66h-1.68zM297.52 438.2h1.68v1.66h-1.68zM300.88 438.2h1.68v1.66h-1.68zM307.6 438.2h1.68v1.66h-1.68zM289.12 439.86h1.68v1.66h-1.68zM295.84 439.86h1.68v1.66h-1.68zM275.68 439.86h1.68v1.66h-1.68zM279.04 439.86h1.68v1.66h-1.68zM305.92 439.86h1.68v1.66h-1.68zM309.28 439.86h1.68v1.66h-1.68zM272.32 439.86h1.68v1.66h-1.68zM292.48 439.86h1.68v1.66h-1.68zM299.2 439.86h1.68v1.66h-1.68zM282.4 439.86h1.68v1.66h-1.68zM302.56 439.86h1.68v1.66h-1.68zM312.64 439.86h1.68v1.66h-1.68zM285.76 439.86h1.68v1.66h-1.68z" fill="#000"/></g></g><rect x="274.55" y="230.53" width="38.8" height="208.07" fill="none" stroke="#000" stroke-width="2.9" stroke-linejoin="round"/>
<g clip-path="url(#c5)"><g filter="url(#bl)"><rect x="323.12" y="187.48" width="38.8" height="251.12" fill="#7D5050"/><path d="M326.17 184.67L326.17 186.32M339.45 184.67L339.45 186.32M352.73 184.67L352.73 186.32M366.01 184.67L366.01 186.32M326.17 186.32L326.17 187.97M339.45 186.32L339.45 187.97M352.73 186.32L352.73 187.97M366.01 186.32L366.01 187.97M324.51 187.97L326.17 187.97M324.51 187.97L322.85 189.63M326.17 187.97L327.83 189.63M337.79 187.97L339.45 187.97M337.79 187.97L336.13 189.63M339.45 187.97L341.11 189.63M351.07 187.97L352.73 187.97M351.07 187.97L349.41 189.63M352.73 187.97L354.39 189.63M364.35 187.97L366.01 187.97M364.35 187.97L362.69 189.63M366.01 187.97L367.67 189.63M322.85 189.63L321.19 191.28M327.83 189.63L329.49 191.28M336.13 189.63L334.47 191.28M341.11 189.63L342.77 191.28M349.41 189.63L347.75 191.28M354.39 189.63L356.05 191.28M362.69 189.63L361.03 191.28M321.19 191.28L319.53 192.94M329.49 191.28L331.15 192.94M334.47 191.28L332.81 192.94M342.77 191.28L344.43 192.94M347.75 191.28L346.09 192.94M356.05 191.28L357.71 192.94M361.03 191.28L359.37 192.94M319.53 192.94L321.19 194.59M331.15 192.94L332.81 192.94M332.81 192.94L334.47 194.59M344.43 192.94L346.09 192.94M346.09 192.94L347.75 194.59M357.71 192.94L359.37 192.94M359.37 192.94L361.03 194.59M321.19 194.59L322.85 194.59M322.85 194.59L324.51 196.25M334.47 194.59L336.13 194.59M336.13 194.59L337.79 196.25M347.75 194.59L349.41 194.59M349.41 194.59L351.07 196.25M361.03 194.59L362.69 194.59M362.69 194.59L364.35 196.25M324.51 196.25L326.17 197.9M337.79 196.25L339.45 197.9M351.07 196.25L352.73 197.9M364.35 196.25L366.01 197.9M326.17 197.9L326.17 199.55M339.45 197.9L339.45 199.55M352.73 197.9L352.73 199.55M366.01 197.9L366.01 199.55M326.17 199.55L326.17 201.21M339.45 199.55L339.45 201.21M352.73 199.55L352.73 201.21M366.01 199.55L366.01 201.21M324.51 201.21L326.17 201.21M324.51 201.21L322.85 202.86M326.17 201.21L327.83 202.86M337.79 201.21L339.45 201.21M337.79 201.21L336.13 202.86M339.45 201.21L341.11 202.86M351.07 201.21L352.73 201.21M351.07 201.21L349.41 202.86M352.73 201.21L354.39 202.86M364.35 201.21L366.01 201.21M364.35 201.21L362.69 202.86M366.01 201.21L367.67 202.86M322.85 202.86L321.19 204.51M327.83 202.86L329.49 204.51M336.13 202.86L334.47 204.51M341.11 202.86L342.77 204.51M349.41 202.86L347.75 204.51M354.39 202.86L356.05 204.51M362.69 202.86L361.03 204.51M321.19 204.51L319.53 206.17M329.49 204.51L331.15 206.17M334.47 204.51L332.81 206.17M342.77 204.51L344.43 206.17M347.75 204.51L346.09 206.17M356.05 204.51L357.71 206.17M361.03 204.51L359.37 206.17M319.53 206.17L321.19 207.82M331.15 206.17L332.81 206.17M332.81 206.17L334.47 207.82M344.43 206.17L346.09 206.17M346.09 206.17L347.75 207.82M357.71 206.17L359.37 206.17M359.37 206.17L361.03 207.82M321.19 207.82L322.85 207.82M322.85 207.82L324.51 209.48M334.47 207.82L336.13 207.82M336.13 207.82L337.79 209.48M347.75 207.82L349.41 207.82M349.41 207.82L351.07 209.48M361.03 207.82L362.69 207.82M362.69 207.82L364.35 209.48M324.51 209.48L326.17 211.13M337.79 209.48L339.45 211.13M351.07 209.48L352.73 211.13M364.35 209.48L366.01 211.13M326.17 211.13L326.17 212.78M339.45 211.13L339.45 212.78M352.73 211.13L352.73 212.78M366.01 211.13L366.01 212.78M326.17 212.78L326.17 214.44M339.45 212.78L339.45 214.44M352.73 212.78L352.73 214.44M366.01 212.78L366.01 214.44M324.51 214.44L326.17 214.44M324.51 214.44L322.85 216.09M326.17 214.44L327.83 216.09M337.79 214.44L339.45 214.44M337.79 214.44L336.13 216.09M339.45 214.44L341.11 216.09M351.07 214.44L352.73 214.44M351.07 214.44L349.41 216.09M352.73 214.44L354.39 216.09M364.35 214.44L366.01 214.44M364.35 214.44L362.69 216.09M366.01 214.44L367.67 216.09M322.85 216.09L321.19 217.75M327.83 216.09L329.49 217.75M336.13 216.09L334.47 217.75M341.11 216.09L342.77 217.75M349.41 216.09L347.75 217.75M354.39 216.09L356.05 217.75M362.69 216.09L361.03 217.75M321.19 217.75L319.53 219.4M329.49 217.75L331.15 219.4M334.47 217.75L332.81 219.4M342.77 217.75L344.43 219.4M347.75 217.75L346.09 219.4M356.05 217.75L357.71 219.4M361.03 217.75L359.37 219.4M319.53 219.4L321.19 221.06M331.15 219.4L332.81 219.4M332.81 219.4L334.47 221.06M344.43 219.4L346.09 219.4M346.09 219.4L347.75 221.06M357.71 219.4L359.37 219.4M359.37 219.4L361.03 221.06M321.19 221.06L322.85 221.06M322.85 221.06L324.51 222.71M334.47 221.06L336.13 221.06M336.13 221.06L337.79 222.71M347.75 221.06L349.41 221.06M349.41 221.06L351.07 222.71M361.03 221.06L362.69 221.06M362.69 221.06L364.35 222.71M324.51 222.71L326.17 224.36M337.79 222.71L339.45 224.36M351.07 222.71L352.73 224.36M364.35 222.71L366.01 224.36M326.17 224.36L326.17 226.02M339.45 224.36L339.45 226.02M352.73 224.36L352.73 226.02M366.01 224.36L366.01 226.02M326.17 226.02L326.17 227.67M339.45 226.02L339.45 227.67M352.73 226.02L352.73 227.67M366.01 226.02L366.01 227.67M324.51 227.67L326.17 227.67M324.51 227.67L322.85 229.32M326.17 227.67L327.83 229.32M337.79 227.67L339.45 227.67M337.79 227.67L336.13 229.32M339.45 227.67L341.11 229.32M351.07 227.67L352.73 227.67M351.07 227.67L349.41 229.32M352.73 227.67L354.39 229.32M364.35 227.67L366.01 227.67M364.35 227.67L362.69 229.32M366.01 227.67L367.67 229.32M322.85 229.32L321.19 230.98M327.83 229.32L329.49 230.98M336.13 229.32L334.47 230.98M341.11 229.32L342.77 230.98M349.41 229.32L347.75 230.98M354.39 229.32L356.05 230.98M362.69 229.32L361.03 230.98M321.19 230.98L319.53 232.63M329.49 230.98L331.15 232.63M334.47 230.98L332.81 232.63M342.77 230.98L344.43 232.63M347.75 230.98L346.09 232.63M356.05 230.98L357.71 232.63M361.03 230.98L359.37 232.63M319.53 232.63L321.19 234.29M331.15 232.63L332.81 232.63M332.81 232.63L334.47 234.29M344.43 232.63L346.09 232.63M346.09 232.63L347.75 234.29M357.71 232.63L359.37 232.63M359.37 232.63L361.03 234.29M321.19 234.29L322.85 234.29M322.85 234.29L324.51 235.94M334.47 234.29L336.13 234.29M336.13 234.29L337.79 235.94M347.75 234.29L349.41 234.29M349.41 234.29L351.07 235.94M361.03 234.29L362.69 234.29M362.69 234.29L364.35 235.94M324.51 235.94L326.17 237.59M337.79 235.94L339.45 237.59M351.07 235.94L352.73 237.59M364.35 235.94L366.01 237.59M326.17 237.59L326.17 239.25M339.45 237.59L339.45 239.25M352.73 237.59L352.73 239.25M366.01 237.59L366.01 239.25M326.17 239.25L326.17 240.9M339.45 239.25L339.45 240.9M352.73 239.25L352.73 240.9M366.01 239.25L366.01 240.9M324.51 240.9L326.17 240.9M324.51 240.9L322.85 242.56M326.17 240.9L327.83 242.56M337.79 240.9L339.45 240.9M337.79 240.9L336.13 242.56M339.45 240.9L341.11 242.56M351.07 240.9L352.73 240.9M351.07 240.9L349.41 242.56M352.73 240.9L354.39 242.56M364.35 240.9L366.01 240.9M364.35 240.9L362.69 242.56M366.01 240.9L367.67 242.56M322.85 242.56L321.19 244.21M327.83 242.56L329.49 244.21M336.13 242.56L334.47 244.21M341.11 242.56L342.77 244.21M349.41 242.56L347.75 244.21M354.39 242.56L356.05 244.21M362.69 242.56L361.03 244.21M321.19 244.21L319.53 245.87M329.49 244.21L331.15 245.87M334.47 244.21L332.81 245.87M342.77 244.21L344.43 245.87M347.75 244.21L346.09 245.87M356.05 244.21L357.71 245.87M361.03 244.21L359.37 245.87M319.53 245.87L321.19 247.52M331.15 245.87L332.81 245.87M332.81 245.87L334.47 247.52M344.43 245.87L346.09 245.87M346.09 245.87L347.75 247.52M357.71 245.87L359.37 245.87M359.37 245.87L361.03 247.52M321.19 247.52L322.85 247.52M322.85 247.52L324.51 249.17M334.47 247.52L336.13 247.52M336.13 247.52L337.79 249.17M347.75 247.52L349.41 247.52M349.41 247.52L351.07 249.17M361.03 247.52L362.69 247.52M362.69 247.52L364.35 249.17M324.51 249.17L326.17 250.83M337.79 249.17L339.45 250.83M351.07 249.17L352.73 250.83M364.35 249.17L366.01 250.83M326.17 250.83L326.17 252.48M339.45 250.83L339.45 252.48M352.73 250.83L352.73 252.48M366.01 250.83L366.01 252.48M326.17 252.48L326.17 254.13M339.45 252.48L339.45 254.13M352.73 252.48L352.73 254.13M366.01 252.48L366.01 254.13M324.51 254.13L326.17 254.13M324.51 254.13L322.85 255.79M326.17 254.13L327.83 255.79M337.79 254.13L339.45 254.13M337.79 254.13L336.13 255.79M339.45 254.13L341.11 255.79M351.07 254.13L352.73 254.13M351.07 254.13L349.41 255.79M352.73 254.13L354.39 255.79M364.35 254.13L366.01 254.13M364.35 254.13L362.69 255.79M366.01 254.13L367.67 255.79M322.85 255.79L321.19 257.44M327.83 255.79L329.49 257.44M336.13 255.79L334.47 257.44M341.11 255.79L342.77 257.44M349.41 255.79L347.75 257.44M354.39 255.79L356.05 257.44M362.69 255.79L361.03 257.44M321.19 257.44L319.53 259.1M329.49 257.44L331.15 259.1M334.47 257.44L332.81 259.1M342.77 257.44L344.43 259.1M347.75 257.44L346.09 259.1M356.05 257.44L357.71 259.1M361.03 257.44L359.37 259.1M319.53 259.1L321.19 260.75M331.15 259.1L332.81 259.1M332.81 259.1L334.47 260.75M344.43 259.1L346.09 259.1M346.09 259.1L347.75 260.75M357.71 259.1L359.37 259.1M359.37 259.1L361.03 260.75M321.19 260.75L322.85 260.75M322.85 260.75L324.51 262.4M334.47 260.75L336.13 260.75M336.13 260.75L337.79 262.4M347.75 260.75L349.41 260.75M349.41 260.75L351.07 262.4M361.03 260.75L362.69 260.75M362.69 260.75L364.35 262.4M324.51 262.4L326.17 264.06M337.79 262.4L339.45 264.06M351.07 262.4L352.73 264.06M364.35 262.4L366.01 264.06M326.17 264.06L326.17 265.71M339.45 264.06L339.45 265.71M352.73 264.06L352.73 265.71M366.01 264.06L366.01 265.71M326.17 265.71L326.17 267.37M339.45 265.71L339.45 267.37M352.73 265.71L352.73 267.37M366.01 265.71L366.01 267.37M324.51 267.37L326.17 267.37M324.51 267.37L322.85 269.02M326.17 267.37L327.83 269.02M337.79 267.37L339.45 267.37M337.79 267.37L336.13 269.02M339.45 267.37L341.11 269.02M351.07 267.37L352.73 267.37M351.07 267.37L349.41 269.02M352.73 267.37L354.39 269.02M364.35 267.37L366.01 267.37M364.35 267.37L362.69 269.02M366.01 267.37L367.67 269.02M322.85 269.02L321.19 270.68M327.83 269.02L329.49 270.68M336.13 269.02L334.47 270.68M341.11 269.02L342.77 270.68M349.41 269.02L347.75 270.68M354.39 269.02L356.05 270.68M362.69 269.02L361.03 270.68M321.19 270.68L319.53 272.33M329.49 270.68L331.15 272.33M334.47 270.68L332.81 272.33M342.77 270.68L344.43 272.33M347.75 270.68L346.09 272.33M356.05 270.68L357.71 272.33M361.03 270.68L359.37 272.33M319.53 272.33L321.19 273.98M331.15 272.33L332.81 272.33M332.81 272.33L334.47 273.98M344.43 272.33L346.09 272.33M346.09 272.33L347.75 273.98M357.71 272.33L359.37 272.33M359.37 272.33L361.03 273.98M321.19 273.98L322.85 273.98M322.85 273.98L324.51 275.64M334.47 273.98L336.13 273.98M336.13 273.98L337.79 275.64M347.75 273.98L349.41 273.98M349.41 273.98L351.07 275.64M361.03 273.98L362.69 273.98M362.69 273.98L364.35 275.64M324.51 275.64L326.17 277.29M337.79 275.64L339.45 277.29M351.07 275.64L352.73 277.29M364.35 275.64L366.01 277.29M326.17 277.29L326.17 278.94M339.45 277.29L339.45 278.94M352.73 277.29L352.73 278.94M366.01 277.29L366.01 278.94M326.17 278.94L326.17 280.6M339.45 278.94L339.45 280.6M352.73 278.94L352.73 280.6M366.01 278.94L366.01 280.6M324.51 280.6L326.17 280.6M324.51 280.6L322.85 282.25M326.17 280.6L327.83 282.25M337.79 280.6L339.45 280.6M337.79 280.6L336.13 282.25M339.45 280.6L341.11 282.25M351.07 280.6L352.73 280.6M351.07 280.6L349.41 282.25M352.73 280.6L354.39 282.25M364.35 280.6L366.01 280.6M364.35 280.6L362.69 282.25M366.01 280.6L367.67 282.25M322.85 282.25L321.19 283.91M327.83 282.25L329.49 283.91M336.13 282.25L334.47 283.91M341.11 282.25L342.77 283.91M349.41 282.25L347.75 283.91M354.39 282.25L356.05 283.91M362.69 282.25L361.03 283.91M321.19 283.91L319.53 285.56M329.49 283.91L331.15 285.56M334.47 283.91L332.81 285.56M342.77 283.91L344.43 285.56M347.75 283.91L346.09 285.56M356.05 283.91L357.71 285.56M361.03 283.91L359.37 285.56M319.53 285.56L321.19 287.21M331.15 285.56L332.81 285.56M332.81 285.56L334.47 287.21M344.43 285.56L346.09 285.56M346.09 285.56L347.75 287.21M357.71 285.56L359.37 285.56M359.37 285.56L361.03 287.21M321.19 287.21L322.85 287.21M322.85 287.21L324.51 288.87M334.47 287.21L336.13 287.21M336.13 287.21L337.79 288.87M347.75 287.21L349.41 287.21M349.41 287.21L351.07 288.87M361.03 287.21L362.69 287.21M362.69 287.21L364.35 288.87M324.51 288.87L326.17 290.52M337.79 288.87L339.45 290.52M351.07 288.87L352.73 290.52M364.35 288.87L366.01 290.52M326.17 290.52L326.17 292.18M339.45 290.52L339.45 292.18M352.73 290.52L352.73 292.18M366.01 290.52L366.01 292.18M326.17 292.18L326.17 293.83M339.45 292.18L339.45 293.83M352.73 292.18L352.73 293.83M366.01 292.18L366.01 293.83M324.51 293.83L326.17 293.83M324.51 293.83L322.85 295.49M326.17 293.83L327.83 295.49M337.79 293.83L339.45 293.83M337.79 293.83L336.13 295.49M339.45 293.83L341.11 295.49M351.07 293.83L352.73 293.83M351.07 293.83L349.41 295.49M352.73 293.83L354.39 295.49M364.35 293.83L366.01 293.83M364.35 293.83L362.69 295.49M366.01 293.83L367.67 295.49M322.85 295.49L321.19 297.14M327.83 295.49L329.49 297.14M336.13 295.49L334.47 297.14M341.11 295.49L342.77 297.14M349.41 295.49L347.75 297.14M354.39 295.49L356.05 297.14M362.69 295.49L361.03 297.14M321.19 297.14L319.53 298.79M329.49 297.14L331.15 298.79M334.47 297.14L332.81 298.79M342.77 297.14L344.43 298.79M347.75 297.14L346.09 298.79M356.05 297.14L357.71 298.79M361.03 297.14L359.37 298.79M319.53 298.79L321.19 300.45M331.15 298.79L332.81 298.79M332.81 298.79L334.47 300.45M344.43 298.79L346.09 298.79M346.09 298.79L347.75 300.45M357.71 298.79L359.37 298.79M359.37 298.79L361.03 300.45M321.19 300.45L322.85 300.45M322.85 300.45L324.51 302.1M334.47 300.45L336.13 300.45M336.13 300.45L337.79 302.1M347.75 300.45L349.41 300.45M349.41 300.45L351.07 302.1M361.03 300.45L362.69 300.45M362.69 300.45L364.35 302.1M324.51 302.1L326.17 303.75M337.79 302.1L339.45 303.75M351.07 302.1L352.73 303.75M364.35 302.1L366.01 303.75M326.17 303.75L326.17 305.41M339.45 303.75L339.45 305.41M352.73 303.75L352.73 305.41M366.01 303.75L366.01 305.41M326.17 305.41L326.17 307.06M339.45 305.41L339.45 307.06M352.73 305.41L352.73 307.06M366.01 305.41L366.01 307.06M324.51 307.06L326.17 307.06M324.51 307.06L322.85 308.72M326.17 307.06L327.83 308.72M337.79 307.06L339.45 307.06M337.79 307.06L336.13 308.72M339.45 307.06L341.11 308.72M351.07 307.06L352.73 307.06M351.07 307.06L349.41 308.72M352.73 307.06L354.39 308.72M364.35 307.06L366.01 307.06M364.35 307.06L362.69 308.72M366.01 307.06L367.67 308.72M322.85 308.72L321.19 310.37M327.83 308.72L329.49 310.37M336.13 308.72L334.47 310.37M341.11 308.72L342.77 310.37M349.41 308.72L347.75 310.37M354.39 308.72L356.05 310.37M362.69 308.72L361.03 310.37M321.19 310.37L319.53 312.02M329.49 310.37L331.15 312.02M334.47 310.37L332.81 312.02M342.77 310.37L344.43 312.02M347.75 310.37L346.09 312.02M356.05 310.37L357.71 312.02M361.03 310.37L359.37 312.02M319.53 312.02L321.19 313.68M331.15 312.02L332.81 312.02M332.81 312.02L334.47 313.68M344.43 312.02L346.09 312.02M346.09 312.02L347.75 313.68M357.71 312.02L359.37 312.02M359.37 312.02L361.03 313.68M321.19 313.68L322.85 313.68M322.85 313.68L324.51 315.33M334.47 313.68L336.13 313.68M336.13 313.68L337.79 315.33M347.75 313.68L349.41 313.68M349.41 313.68L351.07 315.33M361.03 313.68L362.69 313.68M362.69 313.68L364.35 315.33M324.51 315.33L326.17 316.99M337.79 315.33L339.45 316.99M351.07 315.33L352.73 316.99M364.35 315.33L366.01 316.99M326.17 316.99L326.17 318.64M339.45 316.99L339.45 318.64M352.73 316.99L352.73 318.64M366.01 316.99L366.01 318.64M326.17 318.64L326.17 320.3M339.45 318.64L339.45 320.3M352.73 318.64L352.73 320.3M366.01 318.64L366.01 320.3M324.51 320.3L326.17 320.3M324.51 320.3L322.85 321.95M326.17 320.3L327.83 321.95M337.79 320.3L339.45 320.3M337.79 320.3L336.13 321.95M339.45 320.3L341.11 321.95M351.07 320.3L352.73 320.3M351.07 320.3L349.41 321.95M352.73 320.3L354.39 321.95M364.35 320.3L366.01 320.3M364.35 320.3L362.69 321.95M366.01 320.3L367.67 321.95M322.85 321.95L321.19 323.6M327.83 321.95L329.49 323.6M336.13 321.95L334.47 323.6M341.11 321.95L342.77 323.6M349.41 321.95L347.75 323.6M354.39 321.95L356.05 323.6M362.69 321.95L361.03 323.6M321.19 323.6L319.53 325.26M329.49 323.6L331.15 325.26M334.47 323.6L332.81 325.26M342.77 323.6L344.43 325.26M347.75 323.6L346.09 325.26M356.05 323.6L357.71 325.26M361.03 323.6L359.37 325.26M319.53 325.26L321.19 326.91M331.15 325.26L332.81 325.26M332.81 325.26L334.47 326.91M344.43 325.26L346.09 325.26M346.09 325.26L347.75 326.91M357.71 325.26L359.37 325.26M359.37 325.26L361.03 326.91M321.19 326.91L322.85 326.91M322.85 326.91L324.51 328.56M334.47 326.91L336.13 326.91M336.13 326.91L337.79 328.56M347.75 326.91L349.41 326.91M349.41 326.91L351.07 328.56M361.03 326.91L362.69 326.91M362.69 326.91L364.35 328.56M324.51 328.56L326.17 330.22M337.79 328.56L339.45 330.22M351.07 328.56L352.73 330.22M364.35 328.56L366.01 330.22M326.17 330.22L326.17 331.87M339.45 330.22L339.45 331.87M352.73 330.22L352.73 331.87M366.01 330.22L366.01 331.87M326.17 331.87L326.17 333.53M339.45 331.87L339.45 333.53M352.73 331.87L352.73 333.53M366.01 331.87L366.01 333.53M324.51 333.53L326.17 333.53M324.51 333.53L322.85 335.18M326.17 333.53L327.83 335.18M337.79 333.53L339.45 333.53M337.79 333.53L336.13 335.18M339.45 333.53L341.11 335.18M351.07 333.53L352.73 333.53M351.07 333.53L349.41 335.18M352.73 333.53L354.39 335.18M364.35 333.53L366.01 333.53M364.35 333.53L362.69 335.18M366.01 333.53L367.67 335.18M322.85 335.18L321.19 336.83M327.83 335.18L329.49 336.83M336.13 335.18L334.47 336.83M341.11 335.18L342.77 336.83M349.41 335.18L347.75 336.83M354.39 335.18L356.05 336.83M362.69 335.18L361.03 336.83M321.19 336.83L319.53 338.49M329.49 336.83L331.15 338.49M334.47 336.83L332.81 338.49M342.77 336.83L344.43 338.49M347.75 336.83L346.09 338.49M356.05 336.83L357.71 338.49M361.03 336.83L359.37 338.49M319.53 338.49L321.19 340.14M331.15 338.49L332.81 338.49M332.81 338.49L334.47 340.14M344.43 338.49L346.09 338.49M346.09 338.49L347.75 340.14M357.71 338.49L359.37 338.49M359.37 338.49L361.03 340.14M321.19 340.14L322.85 340.14M322.85 340.14L324.51 341.8M334.47 340.14L336.13 340.14M336.13 340.14L337.79 341.8M347.75 340.14L349.41 340.14M349.41 340.14L351.07 341.8M361.03 340.14L362.69 340.14M362.69 340.14L364.35 341.8M324.51 341.8L326.17 343.45M337.79 341.8L339.45 343.45M351.07 341.8L352.73 343.45M364.35 341.8L366.01 343.45M326.17 343.45L326.17 345.1M339.45 343.45L339.45 345.1M352.73 343.45L352.73 345.1M366.01 343.45L366.01 345.1M326.17 345.1L326.17 346.76M339.45 345.1L339.45 346.76M352.73 345.1L352.73 346.76M366.01 345.1L366.01 346.76M324.51 346.76L326.17 346.76M324.51 346.76L322.85 348.41M326.17 346.76L327.83 348.41M337.79 346.76L339.45 346.76M337.79 346.76L336.13 348.41M339.45 346.76L341.11 348.41M351.07 346.76L352.73 346.76M351.07 346.76L349.41 348.41M352.73 346.76L354.39 348.41M364.35 346.76L366.01 346.76M364.35 346.76L362.69 348.41M366.01 346.76L367.67 348.41M322.85 348.41L321.19 350.07M327.83 348.41L329.49 350.07M336.13 348.41L334.47 350.07M341.11 348.41L342.77 350.07M349.41 348.41L347.75 350.07M354.39 348.41L356.05 350.07M362.69 348.41L361.03 350.07M321.19 350.07L319.53 351.72M329.49 350.07L331.15 351.72M334.47 350.07L332.81 351.72M342.77 350.07L344.43 351.72M347.75 350.07L346.09 351.72M356.05 350.07L357.71 351.72M361.03 350.07L359.37 351.72M319.53 351.72L321.19 353.38M331.15 351.72L332.81 351.72M332.81 351.72L334.47 353.38M344.43 351.72L346.09 351.72M346.09 351.72L347.75 353.38M357.71 351.72L359.37 351.72M359.37 351.72L361.03 353.38M321.19 353.38L322.85 353.38M322.85 353.38L324.51 355.03M334.47 353.38L336.13 353.38M336.13 353.38L337.79 355.03M347.75 353.38L349.41 353.38M349.41 353.38L351.07 355.03M361.03 353.38L362.69 353.38M362.69 353.38L364.35 355.03M324.51 355.03L326.17 356.68M337.79 355.03L339.45 356.68M351.07 355.03L352.73 356.68M364.35 355.03L366.01 356.68M326.17 356.68L326.17 358.34M339.45 356.68L339.45 358.34M352.73 356.68L352.73 358.34M366.01 356.68L366.01 358.34M326.17 358.34L326.17 359.99M339.45 358.34L339.45 359.99M352.73 358.34L352.73 359.99M366.01 358.34L366.01 359.99M324.51 359.99L326.17 359.99M324.51 359.99L322.85 361.64M326.17 359.99L327.83 361.64M337.79 359.99L339.45 359.99M337.79 359.99L336.13 361.64M339.45 359.99L341.11 361.64M351.07 359.99L352.73 359.99M351.07 359.99L349.41 361.64M352.73 359.99L354.39 361.64M364.35 359.99L366.01 359.99M364.35 359.99L362.69 361.64M366.01 359.99L367.67 361.64M322.85 361.64L321.19 363.3M327.83 361.64L329.49 363.3M336.13 361.64L334.47 363.3M341.11 361.64L342.77 363.3M349.41 361.64L347.75 363.3M354.39 361.64L356.05 363.3M362.69 361.64L361.03 363.3M321.19 363.3L319.53 364.95M329.49 363.3L331.15 364.95M334.47 363.3L332.81 364.95M342.77 363.3L344.43 364.95M347.75 363.3L346.09 364.95M356.05 363.3L357.71 364.95M361.03 363.3L359.37 364.95M319.53 364.95L321.19 366.61M331.15 364.95L332.81 364.95M332.81 364.95L334.47 366.61M344.43 364.95L346.09 364.95M346.09 364.95L347.75 366.61M357.71 364.95L359.37 364.95M359.37 364.95L361.03 366.61M321.19 366.61L322.85 366.61M322.85 366.61L324.51 368.26M334.47 366.61L336.13 366.61M336.13 366.61L337.79 368.26M347.75 366.61L349.41 366.61M349.41 366.61L351.07 368.26M361.03 366.61L362.69 366.61M362.69 366.61L364.35 368.26M324.51 368.26L326.17 369.91M337.79 368.26L339.45 369.91M351.07 368.26L352.73 369.91M364.35 368.26L366.01 369.91M326.17 369.91L326.17 371.57M339.45 369.91L339.45 371.57M352.73 369.91L352.73 371.57M366.01 369.91L366.01 371.57M326.17 371.57L326.17 373.22M339.45 371.57L339.45 373.22M352.73 371.57L352.73 373.22M366.01 371.57L366.01 373.22M324.51 373.22L326.17 373.22M324.51 373.22L322.85 374.88M326.17 373.22L327.83 374.88M337.79 373.22L339.45 373.22M337.79 373.22L336.13 374.88M339.45 373.22L341.11 374.88M351.07 373.22L352.73 373.22M351.07 373.22L349.41 374.88M352.73 373.22L354.39 374.88M364.35 373.22L366.01 373.22M364.35 373.22L362.69 374.88M366.01 373.22L367.67 374.88M322.85 374.88L321.19 376.53M327.83 374.88L329.49 376.53M336.13 374.88L334.47 376.53M341.11 374.88L342.77 376.53M349.41 374.88L347.75 376.53M354.39 374.88L356.05 376.53M362.69 374.88L361.03 376.53M321.19 376.53L319.53 378.19M329.49 376.53L331.15 378.19M334.47 376.53L332.81 378.19M342.77 376.53L344.43 378.19M347.75 376.53L346.09 378.19M356.05 376.53L357.71 378.19M361.03 376.53L359.37 378.19M319.53 378.19L321.19 379.84M331.15 378.19L332.81 378.19M332.81 378.19L334.47 379.84M344.43 378.19L346.09 378.19M346.09 378.19L347.75 379.84M357.71 378.19L359.37 378.19M359.37 378.19L361.03 379.84M321.19 379.84L322.85 379.84M322.85 379.84L324.51 381.49M334.47 379.84L336.13 379.84M336.13 379.84L337.79 381.49M347.75 379.84L349.41 379.84M349.41 379.84L351.07 381.49M361.03 379.84L362.69 379.84M362.69 379.84L364.35 381.49M324.51 381.49L326.17 383.15M337.79 381.49L339.45 383.15M351.07 381.49L352.73 383.15M364.35 381.49L366.01 383.15M326.17 383.15L326.17 384.8M339.45 383.15L339.45 384.8M352.73 383.15L352.73 384.8M366.01 383.15L366.01 384.8M326.17 384.8L326.17 386.45M339.45 384.8L339.45 386.45M352.73 384.8L352.73 386.45M366.01 384.8L366.01 386.45M324.51 386.45L326.17 386.45M324.51 386.45L322.85 388.11M326.17 386.45L327.83 388.11M337.79 386.45L339.45 386.45M337.79 386.45L336.13 388.11M339.45 386.45L341.11 388.11M351.07 386.45L352.73 386.45M351.07 386.45L349.41 388.11M352.73 386.45L354.39 388.11M364.35 386.45L366.01 386.45M364.35 386.45L362.69 388.11M366.01 386.45L367.67 388.11M322.85 388.11L321.19 389.76M327.83 388.11L329.49 389.76M336.13 388.11L334.47 389.76M341.11 388.11L342.77 389.76M349.41 388.11L347.75 389.76M354.39 388.11L356.05 389.76M362.69 388.11L361.03 389.76M321.19 389.76L319.53 391.42M329.49 389.76L331.15 391.42M334.47 389.76L332.81 391.42M342.77 389.76L344.43 391.42M347.75 389.76L346.09 391.42M356.05 389.76L357.71 391.42M361.03 389.76L359.37 391.42M319.53 391.42L321.19 393.07M331.15 391.42L332.81 391.42M332.81 391.42L334.47 393.07M344.43 391.42L346.09 391.42M346.09 391.42L347.75 393.07M357.71 391.42L359.37 391.42M359.37 391.42L361.03 393.07M321.19 393.07L322.85 393.07M322.85 393.07L324.51 394.72M334.47 393.07L336.13 393.07M336.13 393.07L337.79 394.72M347.75 393.07L349.41 393.07M349.41 393.07L351.07 394.72M361.03 393.07L362.69 393.07M362.69 393.07L364.35 394.72M324.51 394.72L326.17 396.38M337.79 394.72L339.45 396.38M351.07 394.72L352.73 396.38M364.35 394.72L366.01 396.38M326.17 396.38L326.17 398.03M339.45 396.38L339.45 398.03M352.73 396.38L352.73 398.03M366.01 396.38L366.01 398.03M326.17 398.03L326.17 399.69M339.45 398.03L339.45 399.69M352.73 398.03L352.73 399.69M366.01 398.03L366.01 399.69M324.51 399.69L326.17 399.69M324.51 399.69L322.85 401.34M326.17 399.69L327.83 401.34M337.79 399.69L339.45 399.69M337.79 399.69L336.13 401.34M339.45 399.69L341.11 401.34M351.07 399.69L352.73 399.69M351.07 399.69L349.41 401.34M352.73 399.69L354.39 401.34M364.35 399.69L366.01 399.69M364.35 399.69L362.69 401.34M366.01 399.69L367.67 401.34M322.85 401.34L321.19 403M327.83 401.34L329.49 403M336.13 401.34L334.47 403M341.11 401.34L342.77 403M349.41 401.34L347.75 403M354.39 401.34L356.05 403M362.69 401.34L361.03 403M321.19 403L319.53 404.65M329.49 403L331.15 404.65M334.47 403L332.81 404.65M342.77 403L344.43 404.65M347.75 403L346.09 404.65M356.05 403L357.71 404.65M361.03 403L359.37 404.65M319.53 404.65L321.19 406.3M331.15 404.65L332.81 404.65M332.81 404.65L334.47 406.3M344.43 404.65L346.09 404.65M346.09 404.65L347.75 406.3M357.71 404.65L359.37 404.65M359.37 404.65L361.03 406.3M321.19 406.3L322.85 406.3M322.85 406.3L324.51 407.96M334.47 406.3L336.13 406.3M336.13 406.3L337.79 407.96M347.75 406.3L349.41 406.3M349.41 406.3L351.07 407.96M361.03 406.3L362.69 406.3M362.69 406.3L364.35 407.96M324.51 407.96L326.17 409.61M337.79 407.96L339.45 409.61M351.07 407.96L352.73 409.61M364.35 407.96L366.01 409.61M326.17 409.61L326.17 411.26M339.45 409.61L339.45 411.26M352.73 409.61L352.73 411.26M366.01 409.61L366.01 411.26M326.17 411.26L326.17 412.92M339.45 411.26L339.45 412.92M352.73 411.26L352.73 412.92M366.01 411.26L366.01 412.92M324.51 412.92L326.17 412.92M324.51 412.92L322.85 414.57M326.17 412.92L327.83 414.57M337.79 412.92L339.45 412.92M337.79 412.92L336.13 414.57M339.45 412.92L341.11 414.57M351.07 412.92L352.73 412.92M351.07 412.92L349.41 414.57M352.73 412.92L354.39 414.57M364.35 412.92L366.01 412.92M364.35 412.92L362.69 414.57M366.01 412.92L367.67 414.57M322.85 414.57L321.19 416.23M327.83 414.57L329.49 416.23M336.13 414.57L334.47 416.23M341.11 414.57L342.77 416.23M349.41 414.57L347.75 416.23M354.39 414.57L356.05 416.23M362.69 414.57L361.03 416.23M321.19 416.23L319.53 417.88M329.49 416.23L331.15 417.88M334.47 416.23L332.81 417.88M342.77 416.23L344.43 417.88M347.75 416.23L346.09 417.88M356.05 416.23L357.71 417.88M361.03 416.23L359.37 417.88M319.53 417.88L321.19 419.53M331.15 417.88L332.81 417.88M332.81 417.88L334.47 419.53M344.43 417.88L346.09 417.88M346.09 417.88L347.75 419.53M357.71 417.88L359.37 417.88M359.37 417.88L361.03 419.53M321.19 419.53L322.85 419.53M322.85 419.53L324.51 421.19M334.47 419.53L336.13 419.53M336.13 419.53L337.79 421.19M347.75 419.53L349.41 419.53M349.41 419.53L351.07 421.19M361.03 419.53L362.69 419.53M362.69 419.53L364.35 421.19M324.51 421.19L326.17 422.84M337.79 421.19L339.45 422.84M351.07 421.19L352.73 422.84M364.35 421.19L366.01 422.84M326.17 422.84L326.17 424.5M339.45 422.84L339.45 424.5M352.73 422.84L352.73 424.5M366.01 422.84L366.01 424.5M326.17 424.5L326.17 426.15M339.45 424.5L339.45 426.15M352.73 424.5L352.73 426.15M366.01 424.5L366.01 426.15M324.51 426.15L326.17 426.15M324.51 426.15L322.85 427.8M326.17 426.15L327.83 427.8M337.79 426.15L339.45 426.15M337.79 426.15L336.13 427.8M339.45 426.15L341.11 427.8M351.07 426.15L352.73 426.15M351.07 426.15L349.41 427.8M352.73 426.15L354.39 427.8M364.35 426.15L366.01 426.15M364.35 426.15L362.69 427.8M366.01 426.15L367.67 427.8M322.85 427.8L321.19 429.46M327.83 427.8L329.49 429.46M336.13 427.8L334.47 429.46M341.11 427.8L342.77 429.46M349.41 427.8L347.75 429.46M354.39 427.8L356.05 429.46M362.69 427.8L361.03 429.46M321.19 429.46L319.53 431.11M329.49 429.46L331.15 431.11M334.47 429.46L332.81 431.11M342.77 429.46L344.43 431.11M347.75 429.46L346.09 431.11M356.05 429.46L357.71 431.11M361.03 429.46L359.37 431.11M319.53 431.11L321.19 432.77M331.15 431.11L332.81 431.11M332.81 431.11L334.47 432.77M344.43 431.11L346.09 431.11M346.09 431.11L347.75 432.77M357.71 431.11L359.37 431.11M359.37 431.11L361.03 432.77M321.19 432.77L322.85 432.77M322.85 432.77L324.51 434.42M334.47 432.77L336.13 432.77M336.13 432.77L337.79 434.42M347.75 432.77L349.41 432.77M349.41 432.77L351.07 434.42M361.03 432.77L362.69 432.77M362.69 432.77L364.35 434.42M324.51 434.42L326.17 436.07M337.79 434.42L339.45 436.07M351.07 434.42L352.73 436.07M364.35 434.42L366.01 436.07M326.17 436.07L326.17 437.73M339.45 436.07L339.45 437.73M352.73 436.07L352.73 437.73M366.01 436.07L366.01 437.73M326.17 437.73L326.17 439.38M339.45 437.73L339.45 439.38M352.73 437.73L352.73 439.38M366.01 437.73L366.01 439.38M324.51 439.38L326.17 439.38M324.51 439.38L322.85 441.04M326.17 439.38L327.83 441.04M337.79 439.38L339.45 439.38M337.79 439.38L336.13 441.04M339.45 439.38L341.11 441.04M351.07 439.38L352.73 439.38M351.07 439.38L349.41 441.04M352.73 439.38L354.39 441.04M364.35 439.38L366.01 439.38M364.35 439.38L362.69 441.04M366.01 439.38L367.67 441.04M322.85 441.04L321.19 442.69M327.83 441.04L329.49 442.69M336.13 441.04L334.47 442.69M341.11 441.04L342.77 442.69M349.41 441.04L347.75 442.69M354.39 441.04L356.05 442.69M362.69 441.04L361.03 442.69M321.19 442.69L319.53 444.34M329.49 442.69L331.15 444.34M334.47 442.69L332.81 444.34M342.77 442.69L344.43 444.34M347.75 442.69L346.09 444.34M356.05 442.69L357.71 444.34M361.03 442.69L359.37 444.34" stroke="#000" stroke-width="1.25" stroke-linecap="round" stroke-linejoin="round" fill="none"/></g></g><rect x="323.12" y="187.48" width="38.8" height="251.12" fill="none" stroke="#000" stroke-width="2.9" stroke-linejoin="round"/>
<g clip-path="url(#c6)"><g filter="url(#bl)"><rect x="371.7" y="144.43" width="38.8" height="294.18" fill="#FD924C"/><path d="M349.73 141.43L49.55 441.6M361.73 141.43L61.55 441.6M373.73 141.43L73.55 441.6M385.73 141.43L85.55 441.6M397.73 141.43L97.55 441.6M409.73 141.43L109.55 441.6M421.73 141.43L121.55 441.6M433.73 141.43L133.55 441.6M445.73 141.43L145.55 441.6M457.73 141.43L157.55 441.6M469.73 141.43L169.55 441.6M481.73 141.43L181.55 441.6M493.73 141.43L193.55 441.6M505.73 141.43L205.55 441.6M517.73 141.43L217.55 441.6M529.73 141.43L229.55 441.6M541.73 141.43L241.55 441.6M553.73 141.43L253.55 441.6M565.73 141.43L265.55 441.6M577.73 141.43L277.55 441.6M589.73 141.43L289.55 441.6M601.73 141.43L301.55 441.6M613.73 141.43L313.55 441.6M625.73 141.43L325.55 441.6M637.73 141.43L337.55 441.6M649.73 141.43L349.55 441.6M661.73 141.43L361.55 441.6M673.73 141.43L373.55 441.6M685.73 141.43L385.55 441.6M697.73 141.43L397.55 441.6M709.73 141.43L409.55 441.6M721.73 141.43L421.55 441.6M733.73 141.43L433.55 441.6M57.98 141.43L358.15 441.6M69.98 141.43L370.15 441.6M81.98 141.43L382.15 441.6M93.98 141.43L394.15 441.6M105.98 141.43L406.15 441.6M117.98 141.43L418.15 441.6M129.98 141.43L430.15 441.6M141.98 141.43L442.15 441.6M153.98 141.43L454.15 441.6M165.98 141.43L466.15 441.6M177.98 141.43L478.15 441.6M189.98 141.43L490.15 441.6M201.98 141.43L502.15 441.6M213.98 141.43L514.15 441.6M225.98 141.43L526.15 441.6M237.98 141.43L538.15 441.6M249.98 141.43L550.15 441.6M261.98 141.43L562.15 441.6M273.98 141.43L574.15 441.6M285.98 141.43L586.15 441.6M297.98 141.43L598.15 441.6M309.98 141.43L610.15 441.6M321.98 141.43L622.15 441.6M333.98 141.43L634.15 441.6M345.98 141.43L646.15 441.6M357.98 141.43L658.15 441.6M369.98 141.43L670.15 441.6M381.98 141.43L682.15 441.6M393.98 141.43L694.15 441.6M405.98 141.43L706.15 441.6M417.98 141.43L718.15 441.6M429.98 141.43L730.15 441.6" stroke="#000" stroke-width="1.05" fill="none"/></g></g><rect x="371.7" y="144.43" width="38.8" height="294.18" fill="none" stroke="#000" stroke-width="2.9" stroke-linejoin="round"/>
<g clip-path="url(#c7)"><g filter="url(#bl)"><rect x="420.28" y="252.05" width="38.8" height="186.55" fill="#C697E6"/><path d="M432.9 249.75h1.65v1.65h-1.65zM459.3 249.75h1.65v1.65h-1.65zM446.1 249.75h1.65v1.65h-1.65zM419.7 249.75h1.65v1.65h-1.65zM432.9 253.05h1.65v1.65h-1.65zM449.4 253.05h1.65v1.65h-1.65zM429.6 253.05h1.65v1.65h-1.65zM423 253.05h1.65v1.65h-1.65zM419.7 253.05h1.65v1.65h-1.65zM426.3 253.05h1.65v1.65h-1.65zM452.7 253.05h1.65v1.65h-1.65zM436.2 253.05h1.65v1.65h-1.65zM442.8 253.05h1.65v1.65h-1.65zM439.5 253.05h1.65v1.65h-1.65zM446.1 253.05h1.65v1.65h-1.65zM456 253.05h1.65v1.65h-1.65zM459.3 253.05h1.65v1.65h-1.65zM432.9 256.35h1.65v1.65h-1.65zM459.3 256.35h1.65v1.65h-1.65zM446.1 256.35h1.65v1.65h-1.65zM419.7 256.35h1.65v1.65h-1.65zM432.9 259.65h1.65v1.65h-1.65zM459.3 259.65h1.65v1.65h-1.65zM446.1 259.65h1.65v1.65h-1.65zM419.7 259.65h1.65v1.65h-1.65zM432.9 262.95h1.65v1.65h-1.65zM459.3 262.95h1.65v1.65h-1.65zM446.1 262.95h1.65v1.65h-1.65zM419.7 262.95h1.65v1.65h-1.65zM432.9 266.25h1.65v1.65h-1.65zM449.4 266.25h1.65v1.65h-1.65zM429.6 266.25h1.65v1.65h-1.65zM423 266.25h1.65v1.65h-1.65zM419.7 266.25h1.65v1.65h-1.65zM426.3 266.25h1.65v1.65h-1.65zM452.7 266.25h1.65v1.65h-1.65zM436.2 266.25h1.65v1.65h-1.65zM442.8 266.25h1.65v1.65h-1.65zM439.5 266.25h1.65v1.65h-1.65zM446.1 266.25h1.65v1.65h-1.65zM456 266.25h1.65v1.65h-1.65zM459.3 266.25h1.65v1.65h-1.65zM432.9 269.55h1.65v1.65h-1.65zM459.3 269.55h1.65v1.65h-1.65zM446.1 269.55h1.65v1.65h-1.65zM419.7 269.55h1.65v1.65h-1.65zM432.9 272.85h1.65v1.65h-1.65zM459.3 272.85h1.65v1.65h-1.65zM446.1 272.85h1.65v1.65h-1.65zM419.7 272.85h1.65v1.65h-1.65zM432.9 276.15h1.65v1.65h-1.65zM459.3 276.15h1.65v1.65h-1.65zM446.1 276.15h1.65v1.65h-1.65zM419.7 276.15h1.65v1.65h-1.65zM432.9 279.45h1.65v1.65h-1.65zM449.4 279.45h1.65v1.65h-1.65zM429.6 279.45h1.65v1.65h-1.65zM423 279.45h1.65v1.65h-1.65zM419.7 279.45h1.65v1.65h-1.65zM426.3 279.45h1.65v1.65h-1.65zM452.7 279.45h1.65v1.65h-1.65zM436.2 279.45h1.65v1.65h-1.65zM442.8 279.45h1.65v1.65h-1.65zM439.5 279.45h1.65v1.65h-1.65zM446.1 279.45h1.65v1.65h-1.65zM456 279.45h1.65v1.65h-1.65zM459.3 279.45h1.65v1.65h-1.65zM432.9 282.75h1.65v1.65h-1.65zM459.3 282.75h1.65v1.65h-1.65zM446.1 282.75h1.65v1.65h-1.65zM419.7 282.75h1.65v1.65h-1.65zM432.9 286.05h1.65v1.65h-1.65zM459.3 286.05h1.65v1.65h-1.65zM446.1 286.05h1.65v1.65h-1.65zM419.7 286.05h1.65v1.65h-1.65zM432.9 289.35h1.65v1.65h-1.65zM459.3 289.35h1.65v1.65h-1.65zM446.1 289.35h1.65v1.65h-1.65zM419.7 289.35h1.65v1.65h-1.65zM432.9 292.65h1.65v1.65h-1.65zM449.4 292.65h1.65v1.65h-1.65zM429.6 292.65h1.65v1.65h-1.65zM423 292.65h1.65v1.65h-1.65zM419.7 292.65h1.65v1.65h-1.65zM426.3 292.65h1.65v1.65h-1.65zM452.7 292.65h1.65v1.65h-1.65zM436.2 292.65h1.65v1.65h-1.65zM442.8 292.65h1.65v1.65h-1.65zM439.5 292.65h1.65v1.65h-1.65zM446.1 292.65h1.65v1.65h-1.65zM456 292.65h1.65v1.65h-1.65zM459.3 292.65h1.65v1.65h-1.65zM432.9 295.95h1.65v1.65h-1.65zM459.3 295.95h1.65v1.65h-1.65zM446.1 295.95h1.65v1.65h-1.65zM419.7 295.95h1.65v1.65h-1.65zM432.9 299.25h1.65v1.65h-1.65zM459.3 299.25h1.65v1.65h-1.65zM446.1 299.25h1.65v1.65h-1.65zM419.7 299.25h1.65v1.65h-1.65zM432.9 302.55h1.65v1.65h-1.65zM459.3 302.55h1.65v1.65h-1.65zM446.1 302.55h1.65v1.65h-1.65zM419.7 302.55h1.65v1.65h-1.65zM432.9 305.85h1.65v1.65h-1.65zM449.4 305.85h1.65v1.65h-1.65zM429.6 305.85h1.65v1.65h-1.65zM423 305.85h1.65v1.65h-1.65zM419.7 305.85h1.65v1.65h-1.65zM426.3 305.85h1.65v1.65h-1.65zM452.7 305.85h1.65v1.65h-1.65zM436.2 305.85h1.65v1.65h-1.65zM442.8 305.85h1.65v1.65h-1.65zM439.5 305.85h1.65v1.65h-1.65zM446.1 305.85h1.65v1.65h-1.65zM456 305.85h1.65v1.65h-1.65zM459.3 305.85h1.65v1.65h-1.65zM432.9 309.15h1.65v1.65h-1.65zM459.3 309.15h1.65v1.65h-1.65zM446.1 309.15h1.65v1.65h-1.65zM419.7 309.15h1.65v1.65h-1.65zM432.9 312.45h1.65v1.65h-1.65zM459.3 312.45h1.65v1.65h-1.65zM446.1 312.45h1.65v1.65h-1.65zM419.7 312.45h1.65v1.65h-1.65zM432.9 315.75h1.65v1.65h-1.65zM459.3 315.75h1.65v1.65h-1.65zM446.1 315.75h1.65v1.65h-1.65zM419.7 315.75h1.65v1.65h-1.65zM432.9 319.05h1.65v1.65h-1.65zM449.4 319.05h1.65v1.65h-1.65zM429.6 319.05h1.65v1.65h-1.65zM423 319.05h1.65v1.65h-1.65zM419.7 319.05h1.65v1.65h-1.65zM426.3 319.05h1.65v1.65h-1.65zM452.7 319.05h1.65v1.65h-1.65zM436.2 319.05h1.65v1.65h-1.65zM442.8 319.05h1.65v1.65h-1.65zM439.5 319.05h1.65v1.65h-1.65zM446.1 319.05h1.65v1.65h-1.65zM456 319.05h1.65v1.65h-1.65zM459.3 319.05h1.65v1.65h-1.65zM432.9 322.35h1.65v1.65h-1.65zM459.3 322.35h1.65v1.65h-1.65zM446.1 322.35h1.65v1.65h-1.65zM419.7 322.35h1.65v1.65h-1.65zM432.9 325.65h1.65v1.65h-1.65zM459.3 325.65h1.65v1.65h-1.65zM446.1 325.65h1.65v1.65h-1.65zM419.7 325.65h1.65v1.65h-1.65zM432.9 328.95h1.65v1.65h-1.65zM459.3 328.95h1.65v1.65h-1.65zM446.1 328.95h1.65v1.65h-1.65zM419.7 328.95h1.65v1.65h-1.65zM432.9 332.25h1.65v1.65h-1.65zM449.4 332.25h1.65v1.65h-1.65zM429.6 332.25h1.65v1.65h-1.65zM423 332.25h1.65v1.65h-1.65zM419.7 332.25h1.65v1.65h-1.65zM426.3 332.25h1.65v1.65h-1.65zM452.7 332.25h1.65v1.65h-1.65zM436.2 332.25h1.65v1.65h-1.65zM442.8 332.25h1.65v1.65h-1.65zM439.5 332.25h1.65v1.65h-1.65zM446.1 332.25h1.65v1.65h-1.65zM456 332.25h1.65v1.65h-1.65zM459.3 332.25h1.65v1.65h-1.65zM432.9 335.55h1.65v1.65h-1.65zM459.3 335.55h1.65v1.65h-1.65zM446.1 335.55h1.65v1.65h-1.65zM419.7 335.55h1.65v1.65h-1.65zM432.9 338.85h1.65v1.65h-1.65zM459.3 338.85h1.65v1.65h-1.65zM446.1 338.85h1.65v1.65h-1.65zM419.7 338.85h1.65v1.65h-1.65zM432.9 342.15h1.65v1.65h-1.65zM459.3 342.15h1.65v1.65h-1.65zM446.1 342.15h1.65v1.65h-1.65zM419.7 342.15h1.65v1.65h-1.65zM432.9 345.45h1.65v1.65h-1.65zM449.4 345.45h1.65v1.65h-1.65zM429.6 345.45h1.65v1.65h-1.65zM423 345.45h1.65v1.65h-1.65zM419.7 345.45h1.65v1.65h-1.65zM426.3 345.45h1.65v1.65h-1.65zM452.7 345.45h1.65v1.65h-1.65zM436.2 345.45h1.65v1.65h-1.65zM442.8 345.45h1.65v1.65h-1.65zM439.5 345.45h1.65v1.65h-1.65zM446.1 345.45h1.65v1.65h-1.65zM456 345.45h1.65v1.65h-1.65zM459.3 345.45h1.65v1.65h-1.65zM432.9 348.75h1.65v1.65h-1.65zM459.3 348.75h1.65v1.65h-1.65zM446.1 348.75h1.65v1.65h-1.65zM419.7 348.75h1.65v1.65h-1.65zM432.9 352.05h1.65v1.65h-1.65zM459.3 352.05h1.65v1.65h-1.65zM446.1 352.05h1.65v1.65h-1.65zM419.7 352.05h1.65v1.65h-1.65zM432.9 355.35h1.65v1.65h-1.65zM459.3 355.35h1.65v1.65h-1.65zM446.1 355.35h1.65v1.65h-1.65zM419.7 355.35h1.65v1.65h-1.65zM432.9 358.65h1.65v1.65h-1.65zM449.4 358.65h1.65v1.65h-1.65zM429.6 358.65h1.65v1.65h-1.65zM423 358.65h1.65v1.65h-1.65zM419.7 358.65h1.65v1.65h-1.65zM426.3 358.65h1.65v1.65h-1.65zM452.7 358.65h1.65v1.65h-1.65zM436.2 358.65h1.65v1.65h-1.65zM442.8 358.65h1.65v1.65h-1.65zM439.5 358.65h1.65v1.65h-1.65zM446.1 358.65h1.65v1.65h-1.65zM456 358.65h1.65v1.65h-1.65zM459.3 358.65h1.65v1.65h-1.65zM432.9 361.95h1.65v1.65h-1.65zM459.3 361.95h1.65v1.65h-1.65zM446.1 361.95h1.65v1.65h-1.65zM419.7 361.95h1.65v1.65h-1.65zM432.9 365.25h1.65v1.65h-1.65zM459.3 365.25h1.65v1.65h-1.65zM446.1 365.25h1.65v1.65h-1.65zM419.7 365.25h1.65v1.65h-1.65zM432.9 368.55h1.65v1.65h-1.65zM459.3 368.55h1.65v1.65h-1.65zM446.1 368.55h1.65v1.65h-1.65zM419.7 368.55h1.65v1.65h-1.65zM432.9 371.85h1.65v1.65h-1.65zM449.4 371.85h1.65v1.65h-1.65zM429.6 371.85h1.65v1.65h-1.65zM423 371.85h1.65v1.65h-1.65zM419.7 371.85h1.65v1.65h-1.65zM426.3 371.85h1.65v1.65h-1.65zM452.7 371.85h1.65v1.65h-1.65zM436.2 371.85h1.65v1.65h-1.65zM442.8 371.85h1.65v1.65h-1.65zM439.5 371.85h1.65v1.65h-1.65zM446.1 371.85h1.65v1.65h-1.65zM456 371.85h1.65v1.65h-1.65zM459.3 371.85h1.65v1.65h-1.65zM432.9 375.15h1.65v1.65h-1.65zM459.3 375.15h1.65v1.65h-1.65zM446.1 375.15h1.65v1.65h-1.65zM419.7 375.15h1.65v1.65h-1.65zM432.9 378.45h1.65v1.65h-1.65zM459.3 378.45h1.65v1.65h-1.65zM446.1 378.45h1.65v1.65h-1.65zM419.7 378.45h1.65v1.65h-1.65zM432.9 381.75h1.65v1.65h-1.65zM459.3 381.75h1.65v1.65h-1.65zM446.1 381.75h1.65v1.65h-1.65zM419.7 381.75h1.65v1.65h-1.65zM432.9 385.05h1.65v1.65h-1.65zM449.4 385.05h1.65v1.65h-1.65zM429.6 385.05h1.65v1.65h-1.65zM423 385.05h1.65v1.65h-1.65zM419.7 385.05h1.65v1.65h-1.65zM426.3 385.05h1.65v1.65h-1.65zM452.7 385.05h1.65v1.65h-1.65zM436.2 385.05h1.65v1.65h-1.65zM442.8 385.05h1.65v1.65h-1.65zM439.5 385.05h1.65v1.65h-1.65zM446.1 385.05h1.65v1.65h-1.65zM456 385.05h1.65v1.65h-1.65zM459.3 385.05h1.65v1.65h-1.65zM432.9 388.35h1.65v1.65h-1.65zM459.3 388.35h1.65v1.65h-1.65zM446.1 388.35h1.65v1.65h-1.65zM419.7 388.35h1.65v1.65h-1.65zM432.9 391.65h1.65v1.65h-1.65zM459.3 391.65h1.65v1.65h-1.65zM446.1 391.65h1.65v1.65h-1.65zM419.7 391.65h1.65v1.65h-1.65zM432.9 394.95h1.65v1.65h-1.65zM459.3 394.95h1.65v1.65h-1.65zM446.1 394.95h1.65v1.65h-1.65zM419.7 394.95h1.65v1.65h-1.65zM432.9 398.25h1.65v1.65h-1.65zM449.4 398.25h1.65v1.65h-1.65zM429.6 398.25h1.65v1.65h-1.65zM423 398.25h1.65v1.65h-1.65zM419.7 398.25h1.65v1.65h-1.65zM426.3 398.25h1.65v1.65h-1.65zM452.7 398.25h1.65v1.65h-1.65zM436.2 398.25h1.65v1.65h-1.65zM442.8 398.25h1.65v1.65h-1.65zM439.5 398.25h1.65v1.65h-1.65zM446.1 398.25h1.65v1.65h-1.65zM456 398.25h1.65v1.65h-1.65zM459.3 398.25h1.65v1.65h-1.65zM432.9 401.55h1.65v1.65h-1.65zM459.3 401.55h1.65v1.65h-1.65zM446.1 401.55h1.65v1.65h-1.65zM419.7 401.55h1.65v1.65h-1.65zM432.9 404.85h1.65v1.65h-1.65zM459.3 404.85h1.65v1.65h-1.65zM446.1 404.85h1.65v1.65h-1.65zM419.7 404.85h1.65v1.65h-1.65zM432.9 408.15h1.65v1.65h-1.65zM459.3 408.15h1.65v1.65h-1.65zM446.1 408.15h1.65v1.65h-1.65zM419.7 408.15h1.65v1.65h-1.65zM432.9 411.45h1.65v1.65h-1.65zM449.4 411.45h1.65v1.65h-1.65zM429.6 411.45h1.65v1.65h-1.65zM423 411.45h1.65v1.65h-1.65zM419.7 411.45h1.65v1.65h-1.65zM426.3 411.45h1.65v1.65h-1.65zM452.7 411.45h1.65v1.65h-1.65zM436.2 411.45h1.65v1.65h-1.65zM442.8 411.45h1.65v1.65h-1.65zM439.5 411.45h1.65v1.65h-1.65zM446.1 411.45h1.65v1.65h-1.65zM456 411.45h1.65v1.65h-1.65zM459.3 411.45h1.65v1.65h-1.65zM432.9 414.75h1.65v1.65h-1.65zM459.3 414.75h1.65v1.65h-1.65zM446.1 414.75h1.65v1.65h-1.65zM419.7 414.75h1.65v1.65h-1.65zM432.9 418.05h1.65v1.65h-1.65zM459.3 418.05h1.65v1.65h-1.65zM446.1 418.05h1.65v1.65h-1.65zM419.7 418.05h1.65v1.65h-1.65zM432.9 421.35h1.65v1.65h-1.65zM459.3 421.35h1.65v1.65h-1.65zM446.1 421.35h1.65v1.65h-1.65zM419.7 421.35h1.65v1.65h-1.65zM432.9 424.65h1.65v1.65h-1.65zM449.4 424.65h1.65v1.65h-1.65zM429.6 424.65h1.65v1.65h-1.65zM423 424.65h1.65v1.65h-1.65zM419.7 424.65h1.65v1.65h-1.65zM426.3 424.65h1.65v1.65h-1.65zM452.7 424.65h1.65v1.65h-1.65zM436.2 424.65h1.65v1.65h-1.65zM442.8 424.65h1.65v1.65h-1.65zM439.5 424.65h1.65v1.65h-1.65zM446.1 424.65h1.65v1.65h-1.65zM456 424.65h1.65v1.65h-1.65zM459.3 424.65h1.65v1.65h-1.65zM432.9 427.95h1.65v1.65h-1.65zM459.3 427.95h1.65v1.65h-1.65zM446.1 427.95h1.65v1.65h-1.65zM419.7 427.95h1.65v1.65h-1.65zM432.9 431.25h1.65v1.65h-1.65zM459.3 431.25h1.65v1.65h-1.65zM446.1 431.25h1.65v1.65h-1.65zM419.7 431.25h1.65v1.65h-1.65zM432.9 434.55h1.65v1.65h-1.65zM459.3 434.55h1.65v1.65h-1.65zM446.1 434.55h1.65v1.65h-1.65zM419.7 434.55h1.65v1.65h-1.65zM432.9 437.85h1.65v1.65h-1.65zM449.4 437.85h1.65v1.65h-1.65zM429.6 437.85h1.65v1.65h-1.65zM423 437.85h1.65v1.65h-1.65zM419.7 437.85h1.65v1.65h-1.65zM426.3 437.85h1.65v1.65h-1.65zM452.7 437.85h1.65v1.65h-1.65zM436.2 437.85h1.65v1.65h-1.65zM442.8 437.85h1.65v1.65h-1.65zM439.5 437.85h1.65v1.65h-1.65zM446.1 437.85h1.65v1.65h-1.65zM456 437.85h1.65v1.65h-1.65zM459.3 437.85h1.65v1.65h-1.65z" fill="#000"/></g></g><rect x="420.28" y="252.05" width="38.8" height="186.55" fill="none" stroke="#000" stroke-width="2.9" stroke-linejoin="round"/>
<g clip-path="url(#c8)"><g filter="url(#bl)"><rect x="468.86" y="330.98" width="38.8" height="107.62" fill="#008080"/><path d="M452.9 305.9L452.9 306.9L453.93 306.9L453.93 307.91L454.96 307.91L454.96 308.91L455.99 308.91L455.99 309.92L457.02 309.92L457.02 310.92L458.05 310.92L458.05 311.92L458.05 311.92L458.05 312.93L457.02 312.93L457.02 313.93L455.99 313.93L455.99 314.94L454.96 314.94L454.96 315.94L453.93 315.94L453.93 316.95L452.9 316.95L452.9 317.95L450.85 317.95L450.85 316.95L449.82 316.95L449.82 315.94L448.79 315.94L448.79 314.94L447.76 314.94L447.76 313.93L446.73 313.93L446.73 312.93L445.7 312.93L445.7 311.92L445.7 311.92L445.7 310.92L446.73 310.92L446.73 309.92L447.76 309.92L447.76 308.91L448.79 308.91L448.79 307.91L449.82 307.91L449.82 306.9L450.85 306.9L450.85 305.9ZM452.9 319.05L452.9 320.05L453.93 320.05L453.93 321.06L454.96 321.06L454.96 322.06L455.99 322.06L455.99 323.07L457.02 323.07L457.02 324.07L458.05 324.07L458.05 325.07L458.05 325.07L458.05 326.08L457.02 326.08L457.02 327.08L455.99 327.08L455.99 328.09L454.96 328.09L454.96 329.09L453.93 329.09L453.93 330.1L452.9 330.1L452.9 331.1L450.85 331.1L450.85 330.1L449.82 330.1L449.82 329.09L448.79 329.09L448.79 328.09L447.76 328.09L447.76 327.08L446.73 327.08L446.73 326.08L445.7 326.08L445.7 325.07L445.7 325.07L445.7 324.07L446.73 324.07L446.73 323.07L447.76 323.07L447.76 322.06L448.79 322.06L448.79 321.06L449.82 321.06L449.82 320.05L450.85 320.05L450.85 319.05ZM452.9 332.2L452.9 333.2L453.93 333.2L453.93 334.21L454.96 334.21L454.96 335.21L455.99 335.21L455.99 336.22L457.02 336.22L457.02 337.22L458.05 337.22L458.05 338.22L458.05 338.22L458.05 339.23L457.02 339.23L457.02 340.23L455.99 340.23L455.99 341.24L454.96 341.24L454.96 342.24L453.93 342.24L453.93 343.25L452.9 343.25L452.9 344.25L450.85 344.25L450.85 343.25L449.82 343.25L449.82 342.24L448.79 342.24L448.79 341.24L447.76 341.24L447.76 340.23L446.73 340.23L446.73 339.23L445.7 339.23L445.7 338.22L445.7 338.22L445.7 337.22L446.73 337.22L446.73 336.22L447.76 336.22L447.76 335.21L448.79 335.21L448.79 334.21L449.82 334.21L449.82 333.2L450.85 333.2L450.85 332.2ZM452.9 345.35L452.9 346.35L453.93 346.35L453.93 347.36L454.96 347.36L454.96 348.36L455.99 348.36L455.99 349.37L457.02 349.37L457.02 350.37L458.05 350.37L458.05 351.37L458.05 351.37L458.05 352.38L457.02 352.38L457.02 353.38L455.99 353.38L455.99 354.39L454.96 354.39L454.96 355.39L453.93 355.39L453.93 356.4L452.9 356.4L452.9 357.4L450.85 357.4L450.85 356.4L449.82 356.4L449.82 355.39L448.79 355.39L448.79 354.39L447.76 354.39L447.76 353.38L446.73 353.38L446.73 352.38L445.7 352.38L445.7 351.37L445.7 351.37L445.7 350.37L446.73 350.37L446.73 349.37L447.76 349.37L447.76 348.36L448.79 348.36L448.79 347.36L449.82 347.36L449.82 346.35L450.85 346.35L450.85 345.35ZM452.9 358.5L452.9 359.5L453.93 359.5L453.93 360.51L454.96 360.51L454.96 361.51L455.99 361.51L455.99 362.52L457.02 362.52L457.02 363.52L458.05 363.52L458.05 364.52L458.05 364.52L458.05 365.53L457.02 365.53L457.02 366.53L455.99 366.53L455.99 367.54L454.96 367.54L454.96 368.54L453.93 368.54L453.93 369.55L452.9 369.55L452.9 370.55L450.85 370.55L450.85 369.55L449.82 369.55L449.82 368.54L448.79 368.54L448.79 367.54L447.76 367.54L447.76 366.53L446.73 366.53L446.73 365.53L445.7 365.53L445.7 364.52L445.7 364.52L445.7 363.52L446.73 363.52L446.73 362.52L447.76 362.52L447.76 361.51L448.79 361.51L448.79 360.51L449.82 360.51L449.82 359.5L450.85 359.5L450.85 358.5ZM452.9 371.65L452.9 372.65L453.93 372.65L453.93 373.66L454.96 373.66L454.96 374.66L455.99 374.66L455.99 375.67L457.02 375.67L457.02 376.67L458.05 376.67L458.05 377.67L458.05 377.67L458.05 378.68L457.02 378.68L457.02 379.68L455.99 379.68L455.99 380.69L454.96 380.69L454.96 381.69L453.93 381.69L453.93 382.7L452.9 382.7L452.9 383.7L450.85 383.7L450.85 382.7L449.82 382.7L449.82 381.69L448.79 381.69L448.79 380.69L447.76 380.69L447.76 379.68L446.73 379.68L446.73 378.68L445.7 378.68L445.7 377.67L445.7 377.67L445.7 376.67L446.73 376.67L446.73 375.67L447.76 375.67L447.76 374.66L448.79 374.66L448.79 373.66L449.82 373.66L449.82 372.65L450.85 372.65L450.85 371.65ZM452.9 384.8L452.9 385.8L453.93 385.8L453.93 386.81L454.96 386.81L454.96 387.81L455.99 387.81L455.99 388.82L457.02 388.82L457.02 389.82L458.05 389.82L458.05 390.82L458.05 390.82L458.05 391.83L457.02 391.83L457.02 392.83L455.99 392.83L455.99 393.84L454.96 393.84L454.96 394.84L453.93 394.84L453.93 395.85L452.9 395.85L452.9 396.85L450.85 396.85L450.85 395.85L449.82 395.85L449.82 394.84L448.79 394.84L448.79 393.84L447.76 393.84L447.76 392.83L446.73 392.83L446.73 391.83L445.7 391.83L445.7 390.82L445.7 390.82L445.7 389.82L446.73 389.82L446.73 388.82L447.76 388.82L447.76 387.81L448.79 387.81L448.79 386.81L449.82 386.81L449.82 385.8L450.85 385.8L450.85 384.8ZM452.9 397.95L452.9 398.95L453.93 398.95L453.93 399.96L454.96 399.96L454.96 400.96L455.99 400.96L455.99 401.97L457.02 401.97L457.02 402.97L458.05 402.97L458.05 403.97L458.05 403.97L458.05 404.98L457.02 404.98L457.02 405.98L455.99 405.98L455.99 406.99L454.96 406.99L454.96 407.99L453.93 407.99L453.93 409L452.9 409L452.9 410L450.85 410L450.85 409L449.82 409L449.82 407.99L448.79 407.99L448.79 406.99L447.76 406.99L447.76 405.98L446.73 405.98L446.73 404.98L445.7 404.98L445.7 403.97L445.7 403.97L445.7 402.97L446.73 402.97L446.73 401.97L447.76 401.97L447.76 400.96L448.79 400.96L448.79 399.96L449.82 399.96L449.82 398.95L450.85 398.95L450.85 397.95ZM452.9 411.1L452.9 412.1L453.93 412.1L453.93 413.11L454.96 413.11L454.96 414.11L455.99 414.11L455.99 415.12L457.02 415.12L457.02 416.12L458.05 416.12L458.05 417.12L458.05 417.12L458.05 418.13L457.02 418.13L457.02 419.13L455.99 419.13L455.99 420.14L454.96 420.14L454.96 421.14L453.93 421.14L453.93 422.15L452.9 422.15L452.9 423.15L450.85 423.15L450.85 422.15L449.82 422.15L449.82 421.14L448.79 421.14L448.79 420.14L447.76 420.14L447.76 419.13L446.73 419.13L446.73 418.13L445.7 418.13L445.7 417.12L445.7 417.12L445.7 416.12L446.73 416.12L446.73 415.12L447.76 415.12L447.76 414.11L448.79 414.11L448.79 413.11L449.82 413.11L449.82 412.1L450.85 412.1L450.85 411.1ZM452.9 424.25L452.9 425.25L453.93 425.25L453.93 426.26L454.96 426.26L454.96 427.26L455.99 427.26L455.99 428.27L457.02 428.27L457.02 429.27L458.05 429.27L458.05 430.27L458.05 430.27L458.05 431.28L457.02 431.28L457.02 432.28L455.99 432.28L455.99 433.29L454.96 433.29L454.96 434.29L453.93 434.29L453.93 435.3L452.9 435.3L452.9 436.3L450.85 436.3L450.85 435.3L449.82 435.3L449.82 434.29L448.79 434.29L448.79 433.29L447.76 433.29L447.76 432.28L446.73 432.28L446.73 431.28L445.7 431.28L445.7 430.27L445.7 430.27L445.7 429.27L446.73 429.27L446.73 428.27L447.76 428.27L447.76 427.26L448.79 427.26L448.79 426.26L449.82 426.26L449.82 425.25L450.85 425.25L450.85 424.25ZM452.9 437.4L452.9 438.4L453.93 438.4L453.93 439.41L454.96 439.41L454.96 440.41L455.99 440.41L455.99 441.42L457.02 441.42L457.02 442.42L458.05 442.42L458.05 443.42L458.05 443.42L458.05 444.43L457.02 444.43L457.02 445.43L455.99 445.43L455.99 446.44L454.96 446.44L454.96 447.44L453.93 447.44L453.93 448.45L452.9 448.45L452.9 449.45L450.85 449.45L450.85 448.45L449.82 448.45L449.82 447.44L448.79 447.44L448.79 446.44L447.76 446.44L447.76 445.43L446.73 445.43L446.73 444.43L445.7 444.43L445.7 443.42L445.7 443.42L445.7 442.42L446.73 442.42L446.73 441.42L447.76 441.42L447.76 440.41L448.79 440.41L448.79 439.41L449.82 439.41L449.82 438.4L450.85 438.4L450.85 437.4ZM452.9 450.55L452.9 451.55L453.93 451.55L453.93 452.56L454.96 452.56L454.96 453.56L455.99 453.56L455.99 454.57L457.02 454.57L457.02 455.57L458.05 455.57L458.05 456.57L458.05 456.57L458.05 457.58L457.02 457.58L457.02 458.58L455.99 458.58L455.99 459.59L454.96 459.59L454.96 460.59L453.93 460.59L453.93 461.6L452.9 461.6L452.9 462.6L450.85 462.6L450.85 461.6L449.82 461.6L449.82 460.59L448.79 460.59L448.79 459.59L447.76 459.59L447.76 458.58L446.73 458.58L446.73 457.58L445.7 457.58L445.7 456.57L445.7 456.57L445.7 455.57L446.73 455.57L446.73 454.57L447.76 454.57L447.76 453.56L448.79 453.56L448.79 452.56L449.82 452.56L449.82 451.55L450.85 451.55L450.85 450.55ZM466.35 305.9L466.35 306.9L467.38 306.9L467.38 307.91L468.41 307.91L468.41 308.91L469.44 308.91L469.44 309.92L470.47 309.92L470.47 310.92L471.5 310.92L471.5 311.92L471.5 311.92L471.5 312.93L470.47 312.93L470.47 313.93L469.44 313.93L469.44 314.94L468.41 314.94L468.41 315.94L467.38 315.94L467.38 316.95L466.35 316.95L466.35 317.95L464.3 317.95L464.3 316.95L463.27 316.95L463.27 315.94L462.24 315.94L462.24 314.94L461.21 314.94L461.21 313.93L460.18 313.93L460.18 312.93L459.15 312.93L459.15 311.92L459.15 311.92L459.15 310.92L460.18 310.92L460.18 309.92L461.21 309.92L461.21 308.91L462.24 308.91L462.24 307.91L463.27 307.91L463.27 306.9L464.3 306.9L464.3 305.9ZM466.35 319.05L466.35 320.05L467.38 320.05L467.38 321.06L468.41 321.06L468.41 322.06L469.44 322.06L469.44 323.07L470.47 323.07L470.47 324.07L471.5 324.07L471.5 325.07L471.5 325.07L471.5 326.08L470.47 326.08L470.47 327.08L469.44 327.08L469.44 328.09L468.41 328.09L468.41 329.09L467.38 329.09L467.38 330.1L466.35 330.1L466.35 331.1L464.3 331.1L464.3 330.1L463.27 330.1L463.27 329.09L462.24 329.09L462.24 328.09L461.21 328.09L461.21 327.08L460.18 327.08L460.18 326.08L459.15 326.08L459.15 325.07L459.15 325.07L459.15 324.07L460.18 324.07L460.18 323.07L461.21 323.07L461.21 322.06L462.24 322.06L462.24 321.06L463.27 321.06L463.27 320.05L464.3 320.05L464.3 319.05ZM466.35 332.2L466.35 333.2L467.38 333.2L467.38 334.21L468.41 334.21L468.41 335.21L469.44 335.21L469.44 336.22L470.47 336.22L470.47 337.22L471.5 337.22L471.5 338.22L471.5 338.22L471.5 339.23L470.47 339.23L470.47 340.23L469.44 340.23L469.44 341.24L468.41 341.24L468.41 342.24L467.38 342.24L467.38 343.25L466.35 343.25L466.35 344.25L464.3 344.25L464.3 343.25L463.27 343.25L463.27 342.24L462.24 342.24L462.24 341.24L461.21 341.24L461.21 340.23L460.18 340.23L460.18 339.23L459.15 339.23L459.15 338.22L459.15 338.22L459.15 337.22L460.18 337.22L460.18 336.22L461.21 336.22L461.21 335.21L462.24 335.21L462.24 334.21L463.27 334.21L463.27 333.2L464.3 333.2L464.3 332.2ZM466.35 345.35L466.35 346.35L467.38 346.35L467.38 347.36L468.41 347.36L468.41 348.36L469.44 348.36L469.44 349.37L470.47 349.37L470.47 350.37L471.5 350.37L471.5 351.37L471.5 351.37L471.5 352.38L470.47 352.38L470.47 353.38L469.44 353.38L469.44 354.39L468.41 354.39L468.41 355.39L467.38 355.39L467.38 356.4L466.35 356.4L466.35 357.4L464.3 357.4L464.3 356.4L463.27 356.4L463.27 355.39L462.24 355.39L462.24 354.39L461.21 354.39L461.21 353.38L460.18 353.38L460.18 352.38L459.15 352.38L459.15 351.37L459.15 351.37L459.15 350.37L460.18 350.37L460.18 349.37L461.21 349.37L461.21 348.36L462.24 348.36L462.24 347.36L463.27 347.36L463.27 346.35L464.3 346.35L464.3 345.35ZM466.35 358.5L466.35 359.5L467.38 359.5L467.38 360.51L468.41 360.51L468.41 361.51L469.44 361.51L469.44 362.52L470.47 362.52L470.47 363.52L471.5 363.52L471.5 364.52L471.5 364.52L471.5 365.53L470.47 365.53L470.47 366.53L469.44 366.53L469.44 367.54L468.41 367.54L468.41 368.54L467.38 368.54L467.38 369.55L466.35 369.55L466.35 370.55L464.3 370.55L464.3 369.55L463.27 369.55L463.27 368.54L462.24 368.54L462.24 367.54L461.21 367.54L461.21 366.53L460.18 366.53L460.18 365.53L459.15 365.53L459.15 364.52L459.15 364.52L459.15 363.52L460.18 363.52L460.18 362.52L461.21 362.52L461.21 361.51L462.24 361.51L462.24 360.51L463.27 360.51L463.27 359.5L464.3 359.5L464.3 358.5ZM466.35 371.65L466.35 372.65L467.38 372.65L467.38 373.66L468.41 373.66L468.41 374.66L469.44 374.66L469.44 375.67L470.47 375.67L470.47 376.67L471.5 376.67L471.5 377.67L471.5 377.67L471.5 378.68L470.47 378.68L470.47 379.68L469.44 379.68L469.44 380.69L468.41 380.69L468.41 381.69L467.38 381.69L467.38 382.7L466.35 382.7L466.35 383.7L464.3 383.7L464.3 382.7L463.27 382.7L463.27 381.69L462.24 381.69L462.24 380.69L461.21 380.69L461.21 379.68L460.18 379.68L460.18 378.68L459.15 378.68L459.15 377.67L459.15 377.67L459.15 376.67L460.18 376.67L460.18 375.67L461.21 375.67L461.21 374.66L462.24 374.66L462.24 373.66L463.27 373.66L463.27 372.65L464.3 372.65L464.3 371.65ZM466.35 384.8L466.35 385.8L467.38 385.8L467.38 386.81L468.41 386.81L468.41 387.81L469.44 387.81L469.44 388.82L470.47 388.82L470.47 389.82L471.5 389.82L471.5 390.82L471.5 390.82L471.5 391.83L470.47 391.83L470.47 392.83L469.44 392.83L469.44 393.84L468.41 393.84L468.41 394.84L467.38 394.84L467.38 395.85L466.35 395.85L466.35 396.85L464.3 396.85L464.3 395.85L463.27 395.85L463.27 394.84L462.24 394.84L462.24 393.84L461.21 393.84L461.21 392.83L460.18 392.83L460.18 391.83L459.15 391.83L459.15 390.82L459.15 390.82L459.15 389.82L460.18 389.82L460.18 388.82L461.21 388.82L461.21 387.81L462.24 387.81L462.24 386.81L463.27 386.81L463.27 385.8L464.3 385.8L464.3 384.8ZM466.35 397.95L466.35 398.95L467.38 398.95L467.38 399.96L468.41 399.96L468.41 400.96L469.44 400.96L469.44 401.97L470.47 401.97L470.47 402.97L471.5 402.97L471.5 403.97L471.5 403.97L471.5 404.98L470.47 404.98L470.47 405.98L469.44 405.98L469.44 406.99L468.41 406.99L468.41 407.99L467.38 407.99L467.38 409L466.35 409L466.35 410L464.3 410L464.3 409L463.27 409L463.27 407.99L462.24 407.99L462.24 406.99L461.21 406.99L461.21 405.98L460.18 405.98L460.18 404.98L459.15 404.98L459.15 403.97L459.15 403.97L459.15 402.97L460.18 402.97L460.18 401.97L461.21 401.97L461.21 400.96L462.24 400.96L462.24 399.96L463.27 399.96L463.27 398.95L464.3 398.95L464.3 397.95ZM466.35 411.1L466.35 412.1L467.38 412.1L467.38 413.11L468.41 413.11L468.41 414.11L469.44 414.11L469.44 415.12L470.47 415.12L470.47 416.12L471.5 416.12L471.5 417.12L471.5 417.12L471.5 418.13L470.47 418.13L470.47 419.13L469.44 419.13L469.44 420.14L468.41 420.14L468.41 421.14L467.38 421.14L467.38 422.15L466.35 422.15L466.35 423.15L464.3 423.15L464.3 422.15L463.27 422.15L463.27 421.14L462.24 421.14L462.24 420.14L461.21 420.14L461.21 419.13L460.18 419.13L460.18 418.13L459.15 418.13L459.15 417.12L459.15 417.12L459.15 416.12L460.18 416.12L460.18 415.12L461.21 415.12L461.21 414.11L462.24 414.11L462.24 413.11L463.27 413.11L463.27 412.1L464.3 412.1L464.3 411.1ZM466.35 424.25L466.35 425.25L467.38 425.25L467.38 426.26L468.41 426.26L468.41 427.26L469.44 427.26L469.44 428.27L470.47 428.27L470.47 429.27L471.5 429.27L471.5 430.27L471.5 430.27L471.5 431.28L470.47 431.28L470.47 432.28L469.44 432.28L469.44 433.29L468.41 433.29L468.41 434.29L467.38 434.29L467.38 435.3L466.35 435.3L466.35 436.3L464.3 436.3L464.3 435.3L463.27 435.3L463.27 434.29L462.24 434.29L462.24 433.29L461.21 433.29L461.21 432.28L460.18 432.28L460.18 431.28L459.15 431.28L459.15 430.27L459.15 430.27L459.15 429.27L460.18 429.27L460.18 428.27L461.21 428.27L461.21 427.26L462.24 427.26L462.24 426.26L463.27 426.26L463.27 425.25L464.3 425.25L464.3 424.25ZM466.35 437.4L466.35 438.4L467.38 438.4L467.38 439.41L468.41 439.41L468.41 440.41L469.44 440.41L469.44 441.42L470.47 441.42L470.47 442.42L471.5 442.42L471.5 443.42L471.5 443.42L471.5 444.43L470.47 444.43L470.47 445.43L469.44 445.43L469.44 446.44L468.41 446.44L468.41 447.44L467.38 447.44L467.38 448.45L466.35 448.45L466.35 449.45L464.3 449.45L464.3 448.45L463.27 448.45L463.27 447.44L462.24 447.44L462.24 446.44L461.21 446.44L461.21 445.43L460.18 445.43L460.18 444.43L459.15 444.43L459.15 443.42L459.15 443.42L459.15 442.42L460.18 442.42L460.18 441.42L461.21 441.42L461.21 440.41L462.24 440.41L462.24 439.41L463.27 439.41L463.27 438.4L464.3 438.4L464.3 437.4ZM466.35 450.55L466.35 451.55L467.38 451.55L467.38 452.56L468.41 452.56L468.41 453.56L469.44 453.56L469.44 454.57L470.47 454.57L470.47 455.57L471.5 455.57L471.5 456.57L471.5 456.57L471.5 457.58L470.47 457.58L470.47 458.58L469.44 458.58L469.44 459.59L468.41 459.59L468.41 460.59L467.38 460.59L467.38 461.6L466.35 461.6L466.35 462.6L464.3 462.6L464.3 461.6L463.27 461.6L463.27 460.59L462.24 460.59L462.24 459.59L461.21 459.59L461.21 458.58L460.18 458.58L460.18 457.58L459.15 457.58L459.15 456.57L459.15 456.57L459.15 455.57L460.18 455.57L460.18 454.57L461.21 454.57L461.21 453.56L462.24 453.56L462.24 452.56L463.27 452.56L463.27 451.55L464.3 451.55L464.3 450.55ZM479.8 305.9L479.8 306.9L480.83 306.9L480.83 307.91L481.86 307.91L481.86 308.91L482.89 308.91L482.89 309.92L483.92 309.92L483.92 310.92L484.95 310.92L484.95 311.92L484.95 311.92L484.95 312.93L483.92 312.93L483.92 313.93L482.89 313.93L482.89 314.94L481.86 314.94L481.86 315.94L480.83 315.94L480.83 316.95L479.8 316.95L479.8 317.95L477.75 317.95L477.75 316.95L476.72 316.95L476.72 315.94L475.69 315.94L475.69 314.94L474.66 314.94L474.66 313.93L473.63 313.93L473.63 312.93L472.6 312.93L472.6 311.92L472.6 311.92L472.6 310.92L473.63 310.92L473.63 309.92L474.66 309.92L474.66 308.91L475.69 308.91L475.69 307.91L476.72 307.91L476.72 306.9L477.75 306.9L477.75 305.9ZM479.8 319.05L479.8 320.05L480.83 320.05L480.83 321.06L481.86 321.06L481.86 322.06L482.89 322.06L482.89 323.07L483.92 323.07L483.92 324.07L484.95 324.07L484.95 325.07L484.95 325.07L484.95 326.08L483.92 326.08L483.92 327.08L482.89 327.08L482.89 328.09L481.86 328.09L481.86 329.09L480.83 329.09L480.83 330.1L479.8 330.1L479.8 331.1L477.75 331.1L477.75 330.1L476.72 330.1L476.72 329.09L475.69 329.09L475.69 328.09L474.66 328.09L474.66 327.08L473.63 327.08L473.63 326.08L472.6 326.08L472.6 325.07L472.6 325.07L472.6 324.07L473.63 324.07L473.63 323.07L474.66 323.07L474.66 322.06L475.69 322.06L475.69 321.06L476.72 321.06L476.72 320.05L477.75 320.05L477.75 319.05ZM479.8 332.2L479.8 333.2L480.83 333.2L480.83 334.21L481.86 334.21L481.86 335.21L482.89 335.21L482.89 336.22L483.92 336.22L483.92 337.22L484.95 337.22L484.95 338.22L484.95 338.22L484.95 339.23L483.92 339.23L483.92 340.23L482.89 340.23L482.89 341.24L481.86 341.24L481.86 342.24L480.83 342.24L480.83 343.25L479.8 343.25L479.8 344.25L477.75 344.25L477.75 343.25L476.72 343.25L476.72 342.24L475.69 342.24L475.69 341.24L474.66 341.24L474.66 340.23L473.63 340.23L473.63 339.23L472.6 339.23L472.6 338.22L472.6 338.22L472.6 337.22L473.63 337.22L473.63 336.22L474.66 336.22L474.66 335.21L475.69 335.21L475.69 334.21L476.72 334.21L476.72 333.2L477.75 333.2L477.75 332.2ZM479.8 345.35L479.8 346.35L480.83 346.35L480.83 347.36L481.86 347.36L481.86 348.36L482.89 348.36L482.89 349.37L483.92 349.37L483.92 350.37L484.95 350.37L484.95 351.37L484.95 351.37L484.95 352.38L483.92 352.38L483.92 353.38L482.89 353.38L482.89 354.39L481.86 354.39L481.86 355.39L480.83 355.39L480.83 356.4L479.8 356.4L479.8 357.4L477.75 357.4L477.75 356.4L476.72 356.4L476.72 355.39L475.69 355.39L475.69 354.39L474.66 354.39L474.66 353.38L473.63 353.38L473.63 352.38L472.6 352.38L472.6 351.37L472.6 351.37L472.6 350.37L473.63 350.37L473.63 349.37L474.66 349.37L474.66 348.36L475.69 348.36L475.69 347.36L476.72 347.36L476.72 346.35L477.75 346.35L477.75 345.35ZM479.8 358.5L479.8 359.5L480.83 359.5L480.83 360.51L481.86 360.51L481.86 361.51L482.89 361.51L482.89 362.52L483.92 362.52L483.92 363.52L484.95 363.52L484.95 364.52L484.95 364.52L484.95 365.53L483.92 365.53L483.92 366.53L482.89 366.53L482.89 367.54L481.86 367.54L481.86 368.54L480.83 368.54L480.83 369.55L479.8 369.55L479.8 370.55L477.75 370.55L477.75 369.55L476.72 369.55L476.72 368.54L475.69 368.54L475.69 367.54L474.66 367.54L474.66 366.53L473.63 366.53L473.63 365.53L472.6 365.53L472.6 364.52L472.6 364.52L472.6 363.52L473.63 363.52L473.63 362.52L474.66 362.52L474.66 361.51L475.69 361.51L475.69 360.51L476.72 360.51L476.72 359.5L477.75 359.5L477.75 358.5ZM479.8 371.65L479.8 372.65L480.83 372.65L480.83 373.66L481.86 373.66L481.86 374.66L482.89 374.66L482.89 375.67L483.92 375.67L483.92 376.67L484.95 376.67L484.95 377.67L484.95 377.67L484.95 378.68L483.92 378.68L483.92 379.68L482.89 379.68L482.89 380.69L481.86 380.69L481.86 381.69L480.83 381.69L480.83 382.7L479.8 382.7L479.8 383.7L477.75 383.7L477.75 382.7L476.72 382.7L476.72 381.69L475.69 381.69L475.69 380.69L474.66 380.69L474.66 379.68L473.63 379.68L473.63 378.68L472.6 378.68L472.6 377.67L472.6 377.67L472.6 376.67L473.63 376.67L473.63 375.67L474.66 375.67L474.66 374.66L475.69 374.66L475.69 373.66L476.72 373.66L476.72 372.65L477.75 372.65L477.75 371.65ZM479.8 384.8L479.8 385.8L480.83 385.8L480.83 386.81L481.86 386.81L481.86 387.81L482.89 387.81L482.89 388.82L483.92 388.82L483.92 389.82L484.95 389.82L484.95 390.82L484.95 390.82L484.95 391.83L483.92 391.83L483.92 392.83L482.89 392.83L482.89 393.84L481.86 393.84L481.86 394.84L480.83 394.84L480.83 395.85L479.8 395.85L479.8 396.85L477.75 396.85L477.75 395.85L476.72 395.85L476.72 394.84L475.69 394.84L475.69 393.84L474.66 393.84L474.66 392.83L473.63 392.83L473.63 391.83L472.6 391.83L472.6 390.82L472.6 390.82L472.6 389.82L473.63 389.82L473.63 388.82L474.66 388.82L474.66 387.81L475.69 387.81L475.69 386.81L476.72 386.81L476.72 385.8L477.75 385.8L477.75 384.8ZM479.8 397.95L479.8 398.95L480.83 398.95L480.83 399.96L481.86 399.96L481.86 400.96L482.89 400.96L482.89 401.97L483.92 401.97L483.92 402.97L484.95 402.97L484.95 403.97L484.95 403.97L484.95 404.98L483.92 404.98L483.92 405.98L482.89 405.98L482.89 406.99L481.86 406.99L481.86 407.99L480.83 407.99L480.83 409L479.8 409L479.8 410L477.75 410L477.75 409L476.72 409L476.72 407.99L475.69 407.99L475.69 406.99L474.66 406.99L474.66 405.98L473.63 405.98L473.63 404.98L472.6 404.98L472.6 403.97L472.6 403.97L472.6 402.97L473.63 402.97L473.63 401.97L474.66 401.97L474.66 400.96L475.69 400.96L475.69 399.96L476.72 399.96L476.72 398.95L477.75 398.95L477.75 397.95ZM479.8 411.1L479.8 412.1L480.83 412.1L480.83 413.11L481.86 413.11L481.86 414.11L482.89 414.11L482.89 415.12L483.92 415.12L483.92 416.12L484.95 416.12L484.95 417.12L484.95 417.12L484.95 418.13L483.92 418.13L483.92 419.13L482.89 419.13L482.89 420.14L481.86 420.14L481.86 421.14L480.83 421.14L480.83 422.15L479.8 422.15L479.8 423.15L477.75 423.15L477.75 422.15L476.72 422.15L476.72 421.14L475.69 421.14L475.69 420.14L474.66 420.14L474.66 419.13L473.63 419.13L473.63 418.13L472.6 418.13L472.6 417.12L472.6 417.12L472.6 416.12L473.63 416.12L473.63 415.12L474.66 415.12L474.66 414.11L475.69 414.11L475.69 413.11L476.72 413.11L476.72 412.1L477.75 412.1L477.75 411.1ZM479.8 424.25L479.8 425.25L480.83 425.25L480.83 426.26L481.86 426.26L481.86 427.26L482.89 427.26L482.89 428.27L483.92 428.27L483.92 429.27L484.95 429.27L484.95 430.27L484.95 430.27L484.95 431.28L483.92 431.28L483.92 432.28L482.89 432.28L482.89 433.29L481.86 433.29L481.86 434.29L480.83 434.29L480.83 435.3L479.8 435.3L479.8 436.3L477.75 436.3L477.75 435.3L476.72 435.3L476.72 434.29L475.69 434.29L475.69 433.29L474.66 433.29L474.66 432.28L473.63 432.28L473.63 431.28L472.6 431.28L472.6 430.27L472.6 430.27L472.6 429.27L473.63 429.27L473.63 428.27L474.66 428.27L474.66 427.26L475.69 427.26L475.69 426.26L476.72 426.26L476.72 425.25L477.75 425.25L477.75 424.25ZM479.8 437.4L479.8 438.4L480.83 438.4L480.83 439.41L481.86 439.41L481.86 440.41L482.89 440.41L482.89 441.42L483.92 441.42L483.92 442.42L484.95 442.42L484.95 443.42L484.95 443.42L484.95 444.43L483.92 444.43L483.92 445.43L482.89 445.43L482.89 446.44L481.86 446.44L481.86 447.44L480.83 447.44L480.83 448.45L479.8 448.45L479.8 449.45L477.75 449.45L477.75 448.45L476.72 448.45L476.72 447.44L475.69 447.44L475.69 446.44L474.66 446.44L474.66 445.43L473.63 445.43L473.63 444.43L472.6 444.43L472.6 443.42L472.6 443.42L472.6 442.42L473.63 442.42L473.63 441.42L474.66 441.42L474.66 440.41L475.69 440.41L475.69 439.41L476.72 439.41L476.72 438.4L477.75 438.4L477.75 437.4ZM479.8 450.55L479.8 451.55L480.83 451.55L480.83 452.56L481.86 452.56L481.86 453.56L482.89 453.56L482.89 454.57L483.92 454.57L483.92 455.57L484.95 455.57L484.95 456.57L484.95 456.57L484.95 457.58L483.92 457.58L483.92 458.58L482.89 458.58L482.89 459.59L481.86 459.59L481.86 460.59L480.83 460.59L480.83 461.6L479.8 461.6L479.8 462.6L477.75 462.6L477.75 461.6L476.72 461.6L476.72 460.59L475.69 460.59L475.69 459.59L474.66 459.59L474.66 458.58L473.63 458.58L473.63 457.58L472.6 457.58L472.6 456.57L472.6 456.57L472.6 455.57L473.63 455.57L473.63 454.57L474.66 454.57L474.66 453.56L475.69 453.56L475.69 452.56L476.72 452.56L476.72 451.55L477.75 451.55L477.75 450.55ZM493.25 305.9L493.25 306.9L494.28 306.9L494.28 307.91L495.31 307.91L495.31 308.91L496.34 308.91L496.34 309.92L497.37 309.92L497.37 310.92L498.4 310.92L498.4 311.92L498.4 311.92L498.4 312.93L497.37 312.93L497.37 313.93L496.34 313.93L496.34 314.94L495.31 314.94L495.31 315.94L494.28 315.94L494.28 316.95L493.25 316.95L493.25 317.95L491.2 317.95L491.2 316.95L490.17 316.95L490.17 315.94L489.14 315.94L489.14 314.94L488.11 314.94L488.11 313.93L487.08 313.93L487.08 312.93L486.05 312.93L486.05 311.92L486.05 311.92L486.05 310.92L487.08 310.92L487.08 309.92L488.11 309.92L488.11 308.91L489.14 308.91L489.14 307.91L490.17 307.91L490.17 306.9L491.2 306.9L491.2 305.9ZM493.25 319.05L493.25 320.05L494.28 320.05L494.28 321.06L495.31 321.06L495.31 322.06L496.34 322.06L496.34 323.07L497.37 323.07L497.37 324.07L498.4 324.07L498.4 325.07L498.4 325.07L498.4 326.08L497.37 326.08L497.37 327.08L496.34 327.08L496.34 328.09L495.31 328.09L495.31 329.09L494.28 329.09L494.28 330.1L493.25 330.1L493.25 331.1L491.2 331.1L491.2 330.1L490.17 330.1L490.17 329.09L489.14 329.09L489.14 328.09L488.11 328.09L488.11 327.08L487.08 327.08L487.08 326.08L486.05 326.08L486.05 325.07L486.05 325.07L486.05 324.07L487.08 324.07L487.08 323.07L488.11 323.07L488.11 322.06L489.14 322.06L489.14 321.06L490.17 321.06L490.17 320.05L491.2 320.05L491.2 319.05ZM493.25 332.2L493.25 333.2L494.28 333.2L494.28 334.21L495.31 334.21L495.31 335.21L496.34 335.21L496.34 336.22L497.37 336.22L497.37 337.22L498.4 337.22L498.4 338.22L498.4 338.22L498.4 339.23L497.37 339.23L497.37 340.23L496.34 340.23L496.34 341.24L495.31 341.24L495.31 342.24L494.28 342.24L494.28 343.25L493.25 343.25L493.25 344.25L491.2 344.25L491.2 343.25L490.17 343.25L490.17 342.24L489.14 342.24L489.14 341.24L488.11 341.24L488.11 340.23L487.08 340.23L487.08 339.23L486.05 339.23L486.05 338.22L486.05 338.22L486.05 337.22L487.08 337.22L487.08 336.22L488.11 336.22L488.11 335.21L489.14 335.21L489.14 334.21L490.17 334.21L490.17 333.2L491.2 333.2L491.2 332.2ZM493.25 345.35L493.25 346.35L494.28 346.35L494.28 347.36L495.31 347.36L495.31 348.36L496.34 348.36L496.34 349.37L497.37 349.37L497.37 350.37L498.4 350.37L498.4 351.37L498.4 351.37L498.4 352.38L497.37 352.38L497.37 353.38L496.34 353.38L496.34 354.39L495.31 354.39L495.31 355.39L494.28 355.39L494.28 356.4L493.25 356.4L493.25 357.4L491.2 357.4L491.2 356.4L490.17 356.4L490.17 355.39L489.14 355.39L489.14 354.39L488.11 354.39L488.11 353.38L487.08 353.38L487.08 352.38L486.05 352.38L486.05 351.37L486.05 351.37L486.05 350.37L487.08 350.37L487.08 349.37L488.11 349.37L488.11 348.36L489.14 348.36L489.14 347.36L490.17 347.36L490.17 346.35L491.2 346.35L491.2 345.35ZM493.25 358.5L493.25 359.5L494.28 359.5L494.28 360.51L495.31 360.51L495.31 361.51L496.34 361.51L496.34 362.52L497.37 362.52L497.37 363.52L498.4 363.52L498.4 364.52L498.4 364.52L498.4 365.53L497.37 365.53L497.37 366.53L496.34 366.53L496.34 367.54L495.31 367.54L495.31 368.54L494.28 368.54L494.28 369.55L493.25 369.55L493.25 370.55L491.2 370.55L491.2 369.55L490.17 369.55L490.17 368.54L489.14 368.54L489.14 367.54L488.11 367.54L488.11 366.53L487.08 366.53L487.08 365.53L486.05 365.53L486.05 364.52L486.05 364.52L486.05 363.52L487.08 363.52L487.08 362.52L488.11 362.52L488.11 361.51L489.14 361.51L489.14 360.51L490.17 360.51L490.17 359.5L491.2 359.5L491.2 358.5ZM493.25 371.65L493.25 372.65L494.28 372.65L494.28 373.66L495.31 373.66L495.31 374.66L496.34 374.66L496.34 375.67L497.37 375.67L497.37 376.67L498.4 376.67L498.4 377.67L498.4 377.67L498.4 378.68L497.37 378.68L497.37 379.68L496.34 379.68L496.34 380.69L495.31 380.69L495.31 381.69L494.28 381.69L494.28 382.7L493.25 382.7L493.25 383.7L491.2 383.7L491.2 382.7L490.17 382.7L490.17 381.69L489.14 381.69L489.14 380.69L488.11 380.69L488.11 379.68L487.08 379.68L487.08 378.68L486.05 378.68L486.05 377.67L486.05 377.67L486.05 376.67L487.08 376.67L487.08 375.67L488.11 375.67L488.11 374.66L489.14 374.66L489.14 373.66L490.17 373.66L490.17 372.65L491.2 372.65L491.2 371.65ZM493.25 384.8L493.25 385.8L494.28 385.8L494.28 386.81L495.31 386.81L495.31 387.81L496.34 387.81L496.34 388.82L497.37 388.82L497.37 389.82L498.4 389.82L498.4 390.82L498.4 390.82L498.4 391.83L497.37 391.83L497.37 392.83L496.34 392.83L496.34 393.84L495.31 393.84L495.31 394.84L494.28 394.84L494.28 395.85L493.25 395.85L493.25 396.85L491.2 396.85L491.2 395.85L490.17 395.85L490.17 394.84L489.14 394.84L489.14 393.84L488.11 393.84L488.11 392.83L487.08 392.83L487.08 391.83L486.05 391.83L486.05 390.82L486.05 390.82L486.05 389.82L487.08 389.82L487.08 388.82L488.11 388.82L488.11 387.81L489.14 387.81L489.14 386.81L490.17 386.81L490.17 385.8L491.2 385.8L491.2 384.8ZM493.25 397.95L493.25 398.95L494.28 398.95L494.28 399.96L495.31 399.96L495.31 400.96L496.34 400.96L496.34 401.97L497.37 401.97L497.37 402.97L498.4 402.97L498.4 403.97L498.4 403.97L498.4 404.98L497.37 404.98L497.37 405.98L496.34 405.98L496.34 406.99L495.31 406.99L495.31 407.99L494.28 407.99L494.28 409L493.25 409L493.25 410L491.2 410L491.2 409L490.17 409L490.17 407.99L489.14 407.99L489.14 406.99L488.11 406.99L488.11 405.98L487.08 405.98L487.08 404.98L486.05 404.98L486.05 403.97L486.05 403.97L486.05 402.97L487.08 402.97L487.08 401.97L488.11 401.97L488.11 400.96L489.14 400.96L489.14 399.96L490.17 399.96L490.17 398.95L491.2 398.95L491.2 397.95ZM493.25 411.1L493.25 412.1L494.28 412.1L494.28 413.11L495.31 413.11L495.31 414.11L496.34 414.11L496.34 415.12L497.37 415.12L497.37 416.12L498.4 416.12L498.4 417.12L498.4 417.12L498.4 418.13L497.37 418.13L497.37 419.13L496.34 419.13L496.34 420.14L495.31 420.14L495.31 421.14L494.28 421.14L494.28 422.15L493.25 422.15L493.25 423.15L491.2 423.15L491.2 422.15L490.17 422.15L490.17 421.14L489.14 421.14L489.14 420.14L488.11 420.14L488.11 419.13L487.08 419.13L487.08 418.13L486.05 418.13L486.05 417.12L486.05 417.12L486.05 416.12L487.08 416.12L487.08 415.12L488.11 415.12L488.11 414.11L489.14 414.11L489.14 413.11L490.17 413.11L490.17 412.1L491.2 412.1L491.2 411.1ZM493.25 424.25L493.25 425.25L494.28 425.25L494.28 426.26L495.31 426.26L495.31 427.26L496.34 427.26L496.34 428.27L497.37 428.27L497.37 429.27L498.4 429.27L498.4 430.27L498.4 430.27L498.4 431.28L497.37 431.28L497.37 432.28L496.34 432.28L496.34 433.29L495.31 433.29L495.31 434.29L494.28 434.29L494.28 435.3L493.25 435.3L493.25 436.3L491.2 436.3L491.2 435.3L490.17 435.3L490.17 434.29L489.14 434.29L489.14 433.29L488.11 433.29L488.11 432.28L487.08 432.28L487.08 431.28L486.05 431.28L486.05 430.27L486.05 430.27L486.05 429.27L487.08 429.27L487.08 428.27L488.11 428.27L488.11 427.26L489.14 427.26L489.14 426.26L490.17 426.26L490.17 425.25L491.2 425.25L491.2 424.25ZM493.25 437.4L493.25 438.4L494.28 438.4L494.28 439.41L495.31 439.41L495.31 440.41L496.34 440.41L496.34 441.42L497.37 441.42L497.37 442.42L498.4 442.42L498.4 443.42L498.4 443.42L498.4 444.43L497.37 444.43L497.37 445.43L496.34 445.43L496.34 446.44L495.31 446.44L495.31 447.44L494.28 447.44L494.28 448.45L493.25 448.45L493.25 449.45L491.2 449.45L491.2 448.45L490.17 448.45L490.17 447.44L489.14 447.44L489.14 446.44L488.11 446.44L488.11 445.43L487.08 445.43L487.08 444.43L486.05 444.43L486.05 443.42L486.05 443.42L486.05 442.42L487.08 442.42L487.08 441.42L488.11 441.42L488.11 440.41L489.14 440.41L489.14 439.41L490.17 439.41L490.17 438.4L491.2 438.4L491.2 437.4ZM493.25 450.55L493.25 451.55L494.28 451.55L494.28 452.56L495.31 452.56L495.31 453.56L496.34 453.56L496.34 454.57L497.37 454.57L497.37 455.57L498.4 455.57L498.4 456.57L498.4 456.57L498.4 457.58L497.37 457.58L497.37 458.58L496.34 458.58L496.34 459.59L495.31 459.59L495.31 460.59L494.28 460.59L494.28 461.6L493.25 461.6L493.25 462.6L491.2 462.6L491.2 461.6L490.17 461.6L490.17 460.59L489.14 460.59L489.14 459.59L488.11 459.59L488.11 458.58L487.08 458.58L487.08 457.58L486.05 457.58L486.05 456.57L486.05 456.57L486.05 455.57L487.08 455.57L487.08 454.57L488.11 454.57L488.11 453.56L489.14 453.56L489.14 452.56L490.17 452.56L490.17 451.55L491.2 451.55L491.2 450.55ZM506.7 305.9L506.7 306.9L507.73 306.9L507.73 307.91L508.76 307.91L508.76 308.91L509.79 308.91L509.79 309.92L510.82 309.92L510.82 310.92L511.85 310.92L511.85 311.92L511.85 311.92L511.85 312.93L510.82 312.93L510.82 313.93L509.79 313.93L509.79 314.94L508.76 314.94L508.76 315.94L507.73 315.94L507.73 316.95L506.7 316.95L506.7 317.95L504.65 317.95L504.65 316.95L503.62 316.95L503.62 315.94L502.59 315.94L502.59 314.94L501.56 314.94L501.56 313.93L500.53 313.93L500.53 312.93L499.5 312.93L499.5 311.92L499.5 311.92L499.5 310.92L500.53 310.92L500.53 309.92L501.56 309.92L501.56 308.91L502.59 308.91L502.59 307.91L503.62 307.91L503.62 306.9L504.65 306.9L504.65 305.9ZM506.7 319.05L506.7 320.05L507.73 320.05L507.73 321.06L508.76 321.06L508.76 322.06L509.79 322.06L509.79 323.07L510.82 323.07L510.82 324.07L511.85 324.07L511.85 325.07L511.85 325.07L511.85 326.08L510.82 326.08L510.82 327.08L509.79 327.08L509.79 328.09L508.76 328.09L508.76 329.09L507.73 329.09L507.73 330.1L506.7 330.1L506.7 331.1L504.65 331.1L504.65 330.1L503.62 330.1L503.62 329.09L502.59 329.09L502.59 328.09L501.56 328.09L501.56 327.08L500.53 327.08L500.53 326.08L499.5 326.08L499.5 325.07L499.5 325.07L499.5 324.07L500.53 324.07L500.53 323.07L501.56 323.07L501.56 322.06L502.59 322.06L502.59 321.06L503.62 321.06L503.62 320.05L504.65 320.05L504.65 319.05ZM506.7 332.2L506.7 333.2L507.73 333.2L507.73 334.21L508.76 334.21L508.76 335.21L509.79 335.21L509.79 336.22L510.82 336.22L510.82 337.22L511.85 337.22L511.85 338.22L511.85 338.22L511.85 339.23L510.82 339.23L510.82 340.23L509.79 340.23L509.79 341.24L508.76 341.24L508.76 342.24L507.73 342.24L507.73 343.25L506.7 343.25L506.7 344.25L504.65 344.25L504.65 343.25L503.62 343.25L503.62 342.24L502.59 342.24L502.59 341.24L501.56 341.24L501.56 340.23L500.53 340.23L500.53 339.23L499.5 339.23L499.5 338.22L499.5 338.22L499.5 337.22L500.53 337.22L500.53 336.22L501.56 336.22L501.56 335.21L502.59 335.21L502.59 334.21L503.62 334.21L503.62 333.2L504.65 333.2L504.65 332.2ZM506.7 345.35L506.7 346.35L507.73 346.35L507.73 347.36L508.76 347.36L508.76 348.36L509.79 348.36L509.79 349.37L510.82 349.37L510.82 350.37L511.85 350.37L511.85 351.37L511.85 351.37L511.85 352.38L510.82 352.38L510.82 353.38L509.79 353.38L509.79 354.39L508.76 354.39L508.76 355.39L507.73 355.39L507.73 356.4L506.7 356.4L506.7 357.4L504.65 357.4L504.65 356.4L503.62 356.4L503.62 355.39L502.59 355.39L502.59 354.39L501.56 354.39L501.56 353.38L500.53 353.38L500.53 352.38L499.5 352.38L499.5 351.37L499.5 351.37L499.5 350.37L500.53 350.37L500.53 349.37L501.56 349.37L501.56 348.36L502.59 348.36L502.59 347.36L503.62 347.36L503.62 346.35L504.65 346.35L504.65 345.35ZM506.7 358.5L506.7 359.5L507.73 359.5L507.73 360.51L508.76 360.51L508.76 361.51L509.79 361.51L509.79 362.52L510.82 362.52L510.82 363.52L511.85 363.52L511.85 364.52L511.85 364.52L511.85 365.53L510.82 365.53L510.82 366.53L509.79 366.53L509.79 367.54L508.76 367.54L508.76 368.54L507.73 368.54L507.73 369.55L506.7 369.55L506.7 370.55L504.65 370.55L504.65 369.55L503.62 369.55L503.62 368.54L502.59 368.54L502.59 367.54L501.56 367.54L501.56 366.53L500.53 366.53L500.53 365.53L499.5 365.53L499.5 364.52L499.5 364.52L499.5 363.52L500.53 363.52L500.53 362.52L501.56 362.52L501.56 361.51L502.59 361.51L502.59 360.51L503.62 360.51L503.62 359.5L504.65 359.5L504.65 358.5ZM506.7 371.65L506.7 372.65L507.73 372.65L507.73 373.66L508.76 373.66L508.76 374.66L509.79 374.66L509.79 375.67L510.82 375.67L510.82 376.67L511.85 376.67L511.85 377.67L511.85 377.67L511.85 378.68L510.82 378.68L510.82 379.68L509.79 379.68L509.79 380.69L508.76 380.69L508.76 381.69L507.73 381.69L507.73 382.7L506.7 382.7L506.7 383.7L504.65 383.7L504.65 382.7L503.62 382.7L503.62 381.69L502.59 381.69L502.59 380.69L501.56 380.69L501.56 379.68L500.53 379.68L500.53 378.68L499.5 378.68L499.5 377.67L499.5 377.67L499.5 376.67L500.53 376.67L500.53 375.67L501.56 375.67L501.56 374.66L502.59 374.66L502.59 373.66L503.62 373.66L503.62 372.65L504.65 372.65L504.65 371.65ZM506.7 384.8L506.7 385.8L507.73 385.8L507.73 386.81L508.76 386.81L508.76 387.81L509.79 387.81L509.79 388.82L510.82 388.82L510.82 389.82L511.85 389.82L511.85 390.82L511.85 390.82L511.85 391.83L510.82 391.83L510.82 392.83L509.79 392.83L509.79 393.84L508.76 393.84L508.76 394.84L507.73 394.84L507.73 395.85L506.7 395.85L506.7 396.85L504.65 396.85L504.65 395.85L503.62 395.85L503.62 394.84L502.59 394.84L502.59 393.84L501.56 393.84L501.56 392.83L500.53 392.83L500.53 391.83L499.5 391.83L499.5 390.82L499.5 390.82L499.5 389.82L500.53 389.82L500.53 388.82L501.56 388.82L501.56 387.81L502.59 387.81L502.59 386.81L503.62 386.81L503.62 385.8L504.65 385.8L504.65 384.8ZM506.7 397.95L506.7 398.95L507.73 398.95L507.73 399.96L508.76 399.96L508.76 400.96L509.79 400.96L509.79 401.97L510.82 401.97L510.82 402.97L511.85 402.97L511.85 403.97L511.85 403.97L511.85 404.98L510.82 404.98L510.82 405.98L509.79 405.98L509.79 406.99L508.76 406.99L508.76 407.99L507.73 407.99L507.73 409L506.7 409L506.7 410L504.65 410L504.65 409L503.62 409L503.62 407.99L502.59 407.99L502.59 406.99L501.56 406.99L501.56 405.98L500.53 405.98L500.53 404.98L499.5 404.98L499.5 403.97L499.5 403.97L499.5 402.97L500.53 402.97L500.53 401.97L501.56 401.97L501.56 400.96L502.59 400.96L502.59 399.96L503.62 399.96L503.62 398.95L504.65 398.95L504.65 397.95ZM506.7 411.1L506.7 412.1L507.73 412.1L507.73 413.11L508.76 413.11L508.76 414.11L509.79 414.11L509.79 415.12L510.82 415.12L510.82 416.12L511.85 416.12L511.85 417.12L511.85 417.12L511.85 418.13L510.82 418.13L510.82 419.13L509.79 419.13L509.79 420.14L508.76 420.14L508.76 421.14L507.73 421.14L507.73 422.15L506.7 422.15L506.7 423.15L504.65 423.15L504.65 422.15L503.62 422.15L503.62 421.14L502.59 421.14L502.59 420.14L501.56 420.14L501.56 419.13L500.53 419.13L500.53 418.13L499.5 418.13L499.5 417.12L499.5 417.12L499.5 416.12L500.53 416.12L500.53 415.12L501.56 415.12L501.56 414.11L502.59 414.11L502.59 413.11L503.62 413.11L503.62 412.1L504.65 412.1L504.65 411.1ZM506.7 424.25L506.7 425.25L507.73 425.25L507.73 426.26L508.76 426.26L508.76 427.26L509.79 427.26L509.79 428.27L510.82 428.27L510.82 429.27L511.85 429.27L511.85 430.27L511.85 430.27L511.85 431.28L510.82 431.28L510.82 432.28L509.79 432.28L509.79 433.29L508.76 433.29L508.76 434.29L507.73 434.29L507.73 435.3L506.7 435.3L506.7 436.3L504.65 436.3L504.65 435.3L503.62 435.3L503.62 434.29L502.59 434.29L502.59 433.29L501.56 433.29L501.56 432.28L500.53 432.28L500.53 431.28L499.5 431.28L499.5 430.27L499.5 430.27L499.5 429.27L500.53 429.27L500.53 428.27L501.56 428.27L501.56 427.26L502.59 427.26L502.59 426.26L503.62 426.26L503.62 425.25L504.65 425.25L504.65 424.25ZM506.7 437.4L506.7 438.4L507.73 438.4L507.73 439.41L508.76 439.41L508.76 440.41L509.79 440.41L509.79 441.42L510.82 441.42L510.82 442.42L511.85 442.42L511.85 443.42L511.85 443.42L511.85 444.43L510.82 444.43L510.82 445.43L509.79 445.43L509.79 446.44L508.76 446.44L508.76 447.44L507.73 447.44L507.73 448.45L506.7 448.45L506.7 449.45L504.65 449.45L504.65 448.45L503.62 448.45L503.62 447.44L502.59 447.44L502.59 446.44L501.56 446.44L501.56 445.43L500.53 445.43L500.53 444.43L499.5 444.43L499.5 443.42L499.5 443.42L499.5 442.42L500.53 442.42L500.53 441.42L501.56 441.42L501.56 440.41L502.59 440.41L502.59 439.41L503.62 439.41L503.62 438.4L504.65 438.4L504.65 437.4ZM506.7 450.55L506.7 451.55L507.73 451.55L507.73 452.56L508.76 452.56L508.76 453.56L509.79 453.56L509.79 454.57L510.82 454.57L510.82 455.57L511.85 455.57L511.85 456.57L511.85 456.57L511.85 457.58L510.82 457.58L510.82 458.58L509.79 458.58L509.79 459.59L508.76 459.59L508.76 460.59L507.73 460.59L507.73 461.6L506.7 461.6L506.7 462.6L504.65 462.6L504.65 461.6L503.62 461.6L503.62 460.59L502.59 460.59L502.59 459.59L501.56 459.59L501.56 458.58L500.53 458.58L500.53 457.58L499.5 457.58L499.5 456.57L499.5 456.57L499.5 455.57L500.53 455.57L500.53 454.57L501.56 454.57L501.56 453.56L502.59 453.56L502.59 452.56L503.62 452.56L503.62 451.55L504.65 451.55L504.65 450.55ZM520.15 305.9L520.15 306.9L521.18 306.9L521.18 307.91L522.21 307.91L522.21 308.91L523.24 308.91L523.24 309.92L524.27 309.92L524.27 310.92L525.3 310.92L525.3 311.92L525.3 311.92L525.3 312.93L524.27 312.93L524.27 313.93L523.24 313.93L523.24 314.94L522.21 314.94L522.21 315.94L521.18 315.94L521.18 316.95L520.15 316.95L520.15 317.95L518.1 317.95L518.1 316.95L517.07 316.95L517.07 315.94L516.04 315.94L516.04 314.94L515.01 314.94L515.01 313.93L513.98 313.93L513.98 312.93L512.95 312.93L512.95 311.92L512.95 311.92L512.95 310.92L513.98 310.92L513.98 309.92L515.01 309.92L515.01 308.91L516.04 308.91L516.04 307.91L517.07 307.91L517.07 306.9L518.1 306.9L518.1 305.9ZM520.15 319.05L520.15 320.05L521.18 320.05L521.18 321.06L522.21 321.06L522.21 322.06L523.24 322.06L523.24 323.07L524.27 323.07L524.27 324.07L525.3 324.07L525.3 325.07L525.3 325.07L525.3 326.08L524.27 326.08L524.27 327.08L523.24 327.08L523.24 328.09L522.21 328.09L522.21 329.09L521.18 329.09L521.18 330.1L520.15 330.1L520.15 331.1L518.1 331.1L518.1 330.1L517.07 330.1L517.07 329.09L516.04 329.09L516.04 328.09L515.01 328.09L515.01 327.08L513.98 327.08L513.98 326.08L512.95 326.08L512.95 325.07L512.95 325.07L512.95 324.07L513.98 324.07L513.98 323.07L515.01 323.07L515.01 322.06L516.04 322.06L516.04 321.06L517.07 321.06L517.07 320.05L518.1 320.05L518.1 319.05ZM520.15 332.2L520.15 333.2L521.18 333.2L521.18 334.21L522.21 334.21L522.21 335.21L523.24 335.21L523.24 336.22L524.27 336.22L524.27 337.22L525.3 337.22L525.3 338.22L525.3 338.22L525.3 339.23L524.27 339.23L524.27 340.23L523.24 340.23L523.24 341.24L522.21 341.24L522.21 342.24L521.18 342.24L521.18 343.25L520.15 343.25L520.15 344.25L518.1 344.25L518.1 343.25L517.07 343.25L517.07 342.24L516.04 342.24L516.04 341.24L515.01 341.24L515.01 340.23L513.98 340.23L513.98 339.23L512.95 339.23L512.95 338.22L512.95 338.22L512.95 337.22L513.98 337.22L513.98 336.22L515.01 336.22L515.01 335.21L516.04 335.21L516.04 334.21L517.07 334.21L517.07 333.2L518.1 333.2L518.1 332.2ZM520.15 345.35L520.15 346.35L521.18 346.35L521.18 347.36L522.21 347.36L522.21 348.36L523.24 348.36L523.24 349.37L524.27 349.37L524.27 350.37L525.3 350.37L525.3 351.37L525.3 351.37L525.3 352.38L524.27 352.38L524.27 353.38L523.24 353.38L523.24 354.39L522.21 354.39L522.21 355.39L521.18 355.39L521.18 356.4L520.15 356.4L520.15 357.4L518.1 357.4L518.1 356.4L517.07 356.4L517.07 355.39L516.04 355.39L516.04 354.39L515.01 354.39L515.01 353.38L513.98 353.38L513.98 352.38L512.95 352.38L512.95 351.37L512.95 351.37L512.95 350.37L513.98 350.37L513.98 349.37L515.01 349.37L515.01 348.36L516.04 348.36L516.04 347.36L517.07 347.36L517.07 346.35L518.1 346.35L518.1 345.35ZM520.15 358.5L520.15 359.5L521.18 359.5L521.18 360.51L522.21 360.51L522.21 361.51L523.24 361.51L523.24 362.52L524.27 362.52L524.27 363.52L525.3 363.52L525.3 364.52L525.3 364.52L525.3 365.53L524.27 365.53L524.27 366.53L523.24 366.53L523.24 367.54L522.21 367.54L522.21 368.54L521.18 368.54L521.18 369.55L520.15 369.55L520.15 370.55L518.1 370.55L518.1 369.55L517.07 369.55L517.07 368.54L516.04 368.54L516.04 367.54L515.01 367.54L515.01 366.53L513.98 366.53L513.98 365.53L512.95 365.53L512.95 364.52L512.95 364.52L512.95 363.52L513.98 363.52L513.98 362.52L515.01 362.52L515.01 361.51L516.04 361.51L516.04 360.51L517.07 360.51L517.07 359.5L518.1 359.5L518.1 358.5ZM520.15 371.65L520.15 372.65L521.18 372.65L521.18 373.66L522.21 373.66L522.21 374.66L523.24 374.66L523.24 375.67L524.27 375.67L524.27 376.67L525.3 376.67L525.3 377.67L525.3 377.67L525.3 378.68L524.27 378.68L524.27 379.68L523.24 379.68L523.24 380.69L522.21 380.69L522.21 381.69L521.18 381.69L521.18 382.7L520.15 382.7L520.15 383.7L518.1 383.7L518.1 382.7L517.07 382.7L517.07 381.69L516.04 381.69L516.04 380.69L515.01 380.69L515.01 379.68L513.98 379.68L513.98 378.68L512.95 378.68L512.95 377.67L512.95 377.67L512.95 376.67L513.98 376.67L513.98 375.67L515.01 375.67L515.01 374.66L516.04 374.66L516.04 373.66L517.07 373.66L517.07 372.65L518.1 372.65L518.1 371.65ZM520.15 384.8L520.15 385.8L521.18 385.8L521.18 386.81L522.21 386.81L522.21 387.81L523.24 387.81L523.24 388.82L524.27 388.82L524.27 389.82L525.3 389.82L525.3 390.82L525.3 390.82L525.3 391.83L524.27 391.83L524.27 392.83L523.24 392.83L523.24 393.84L522.21 393.84L522.21 394.84L521.18 394.84L521.18 395.85L520.15 395.85L520.15 396.85L518.1 396.85L518.1 395.85L517.07 395.85L517.07 394.84L516.04 394.84L516.04 393.84L515.01 393.84L515.01 392.83L513.98 392.83L513.98 391.83L512.95 391.83L512.95 390.82L512.95 390.82L512.95 389.82L513.98 389.82L513.98 388.82L515.01 388.82L515.01 387.81L516.04 387.81L516.04 386.81L517.07 386.81L517.07 385.8L518.1 385.8L518.1 384.8ZM520.15 397.95L520.15 398.95L521.18 398.95L521.18 399.96L522.21 399.96L522.21 400.96L523.24 400.96L523.24 401.97L524.27 401.97L524.27 402.97L525.3 402.97L525.3 403.97L525.3 403.97L525.3 404.98L524.27 404.98L524.27 405.98L523.24 405.98L523.24 406.99L522.21 406.99L522.21 407.99L521.18 407.99L521.18 409L520.15 409L520.15 410L518.1 410L518.1 409L517.07 409L517.07 407.99L516.04 407.99L516.04 406.99L515.01 406.99L515.01 405.98L513.98 405.98L513.98 404.98L512.95 404.98L512.95 403.97L512.95 403.97L512.95 402.97L513.98 402.97L513.98 401.97L515.01 401.97L515.01 400.96L516.04 400.96L516.04 399.96L517.07 399.96L517.07 398.95L518.1 398.95L518.1 397.95ZM520.15 411.1L520.15 412.1L521.18 412.1L521.18 413.11L522.21 413.11L522.21 414.11L523.24 414.11L523.24 415.12L524.27 415.12L524.27 416.12L525.3 416.12L525.3 417.12L525.3 417.12L525.3 418.13L524.27 418.13L524.27 419.13L523.24 419.13L523.24 420.14L522.21 420.14L522.21 421.14L521.18 421.14L521.18 422.15L520.15 422.15L520.15 423.15L518.1 423.15L518.1 422.15L517.07 422.15L517.07 421.14L516.04 421.14L516.04 420.14L515.01 420.14L515.01 419.13L513.98 419.13L513.98 418.13L512.95 418.13L512.95 417.12L512.95 417.12L512.95 416.12L513.98 416.12L513.98 415.12L515.01 415.12L515.01 414.11L516.04 414.11L516.04 413.11L517.07 413.11L517.07 412.1L518.1 412.1L518.1 411.1ZM520.15 424.25L520.15 425.25L521.18 425.25L521.18 426.26L522.21 426.26L522.21 427.26L523.24 427.26L523.24 428.27L524.27 428.27L524.27 429.27L525.3 429.27L525.3 430.27L525.3 430.27L525.3 431.28L524.27 431.28L524.27 432.28L523.24 432.28L523.24 433.29L522.21 433.29L522.21 434.29L521.18 434.29L521.18 435.3L520.15 435.3L520.15 436.3L518.1 436.3L518.1 435.3L517.07 435.3L517.07 434.29L516.04 434.29L516.04 433.29L515.01 433.29L515.01 432.28L513.98 432.28L513.98 431.28L512.95 431.28L512.95 430.27L512.95 430.27L512.95 429.27L513.98 429.27L513.98 428.27L515.01 428.27L515.01 427.26L516.04 427.26L516.04 426.26L517.07 426.26L517.07 425.25L518.1 425.25L518.1 424.25ZM520.15 437.4L520.15 438.4L521.18 438.4L521.18 439.41L522.21 439.41L522.21 440.41L523.24 440.41L523.24 441.42L524.27 441.42L524.27 442.42L525.3 442.42L525.3 443.42L525.3 443.42L525.3 444.43L524.27 444.43L524.27 445.43L523.24 445.43L523.24 446.44L522.21 446.44L522.21 447.44L521.18 447.44L521.18 448.45L520.15 448.45L520.15 449.45L518.1 449.45L518.1 448.45L517.07 448.45L517.07 447.44L516.04 447.44L516.04 446.44L515.01 446.44L515.01 445.43L513.98 445.43L513.98 444.43L512.95 444.43L512.95 443.42L512.95 443.42L512.95 442.42L513.98 442.42L513.98 441.42L515.01 441.42L515.01 440.41L516.04 440.41L516.04 439.41L517.07 439.41L517.07 438.4L518.1 438.4L518.1 437.4ZM520.15 450.55L520.15 451.55L521.18 451.55L521.18 452.56L522.21 452.56L522.21 453.56L523.24 453.56L523.24 454.57L524.27 454.57L524.27 455.57L525.3 455.57L525.3 456.57L525.3 456.57L525.3 457.58L524.27 457.58L524.27 458.58L523.24 458.58L523.24 459.59L522.21 459.59L522.21 460.59L521.18 460.59L521.18 461.6L520.15 461.6L520.15 462.6L518.1 462.6L518.1 461.6L517.07 461.6L517.07 460.59L516.04 460.59L516.04 459.59L515.01 459.59L515.01 458.58L513.98 458.58L513.98 457.58L512.95 457.58L512.95 456.57L512.95 456.57L512.95 455.57L513.98 455.57L513.98 454.57L515.01 454.57L515.01 453.56L516.04 453.56L516.04 452.56L517.07 452.56L517.07 451.55L518.1 451.55L518.1 450.55ZM533.6 305.9L533.6 306.9L534.63 306.9L534.63 307.91L535.66 307.91L535.66 308.91L536.69 308.91L536.69 309.92L537.72 309.92L537.72 310.92L538.75 310.92L538.75 311.92L538.75 311.92L538.75 312.93L537.72 312.93L537.72 313.93L536.69 313.93L536.69 314.94L535.66 314.94L535.66 315.94L534.63 315.94L534.63 316.95L533.6 316.95L533.6 317.95L531.55 317.95L531.55 316.95L530.52 316.95L530.52 315.94L529.49 315.94L529.49 314.94L528.46 314.94L528.46 313.93L527.43 313.93L527.43 312.93L526.4 312.93L526.4 311.92L526.4 311.92L526.4 310.92L527.43 310.92L527.43 309.92L528.46 309.92L528.46 308.91L529.49 308.91L529.49 307.91L530.52 307.91L530.52 306.9L531.55 306.9L531.55 305.9ZM533.6 319.05L533.6 320.05L534.63 320.05L534.63 321.06L535.66 321.06L535.66 322.06L536.69 322.06L536.69 323.07L537.72 323.07L537.72 324.07L538.75 324.07L538.75 325.07L538.75 325.07L538.75 326.08L537.72 326.08L537.72 327.08L536.69 327.08L536.69 328.09L535.66 328.09L535.66 329.09L534.63 329.09L534.63 330.1L533.6 330.1L533.6 331.1L531.55 331.1L531.55 330.1L530.52 330.1L530.52 329.09L529.49 329.09L529.49 328.09L528.46 328.09L528.46 327.08L527.43 327.08L527.43 326.08L526.4 326.08L526.4 325.07L526.4 325.07L526.4 324.07L527.43 324.07L527.43 323.07L528.46 323.07L528.46 322.06L529.49 322.06L529.49 321.06L530.52 321.06L530.52 320.05L531.55 320.05L531.55 319.05ZM533.6 332.2L533.6 333.2L534.63 333.2L534.63 334.21L535.66 334.21L535.66 335.21L536.69 335.21L536.69 336.22L537.72 336.22L537.72 337.22L538.75 337.22L538.75 338.22L538.75 338.22L538.75 339.23L537.72 339.23L537.72 340.23L536.69 340.23L536.69 341.24L535.66 341.24L535.66 342.24L534.63 342.24L534.63 343.25L533.6 343.25L533.6 344.25L531.55 344.25L531.55 343.25L530.52 343.25L530.52 342.24L529.49 342.24L529.49 341.24L528.46 341.24L528.46 340.23L527.43 340.23L527.43 339.23L526.4 339.23L526.4 338.22L526.4 338.22L526.4 337.22L527.43 337.22L527.43 336.22L528.46 336.22L528.46 335.21L529.49 335.21L529.49 334.21L530.52 334.21L530.52 333.2L531.55 333.2L531.55 332.2ZM533.6 345.35L533.6 346.35L534.63 346.35L534.63 347.36L535.66 347.36L535.66 348.36L536.69 348.36L536.69 349.37L537.72 349.37L537.72 350.37L538.75 350.37L538.75 351.37L538.75 351.37L538.75 352.38L537.72 352.38L537.72 353.38L536.69 353.38L536.69 354.39L535.66 354.39L535.66 355.39L534.63 355.39L534.63 356.4L533.6 356.4L533.6 357.4L531.55 357.4L531.55 356.4L530.52 356.4L530.52 355.39L529.49 355.39L529.49 354.39L528.46 354.39L528.46 353.38L527.43 353.38L527.43 352.38L526.4 352.38L526.4 351.37L526.4 351.37L526.4 350.37L527.43 350.37L527.43 349.37L528.46 349.37L528.46 348.36L529.49 348.36L529.49 347.36L530.52 347.36L530.52 346.35L531.55 346.35L531.55 345.35ZM533.6 358.5L533.6 359.5L534.63 359.5L534.63 360.51L535.66 360.51L535.66 361.51L536.69 361.51L536.69 362.52L537.72 362.52L537.72 363.52L538.75 363.52L538.75 364.52L538.75 364.52L538.75 365.53L537.72 365.53L537.72 366.53L536.69 366.53L536.69 367.54L535.66 367.54L535.66 368.54L534.63 368.54L534.63 369.55L533.6 369.55L533.6 370.55L531.55 370.55L531.55 369.55L530.52 369.55L530.52 368.54L529.49 368.54L529.49 367.54L528.46 367.54L528.46 366.53L527.43 366.53L527.43 365.53L526.4 365.53L526.4 364.52L526.4 364.52L526.4 363.52L527.43 363.52L527.43 362.52L528.46 362.52L528.46 361.51L529.49 361.51L529.49 360.51L530.52 360.51L530.52 359.5L531.55 359.5L531.55 358.5ZM533.6 371.65L533.6 372.65L534.63 372.65L534.63 373.66L535.66 373.66L535.66 374.66L536.69 374.66L536.69 375.67L537.72 375.67L537.72 376.67L538.75 376.67L538.75 377.67L538.75 377.67L538.75 378.68L537.72 378.68L537.72 379.68L536.69 379.68L536.69 380.69L535.66 380.69L535.66 381.69L534.63 381.69L534.63 382.7L533.6 382.7L533.6 383.7L531.55 383.7L531.55 382.7L530.52 382.7L530.52 381.69L529.49 381.69L529.49 380.69L528.46 380.69L528.46 379.68L527.43 379.68L527.43 378.68L526.4 378.68L526.4 377.67L526.4 377.67L526.4 376.67L527.43 376.67L527.43 375.67L528.46 375.67L528.46 374.66L529.49 374.66L529.49 373.66L530.52 373.66L530.52 372.65L531.55 372.65L531.55 371.65ZM533.6 384.8L533.6 385.8L534.63 385.8L534.63 386.81L535.66 386.81L535.66 387.81L536.69 387.81L536.69 388.82L537.72 388.82L537.72 389.82L538.75 389.82L538.75 390.82L538.75 390.82L538.75 391.83L537.72 391.83L537.72 392.83L536.69 392.83L536.69 393.84L535.66 393.84L535.66 394.84L534.63 394.84L534.63 395.85L533.6 395.85L533.6 396.85L531.55 396.85L531.55 395.85L530.52 395.85L530.52 394.84L529.49 394.84L529.49 393.84L528.46 393.84L528.46 392.83L527.43 392.83L527.43 391.83L526.4 391.83L526.4 390.82L526.4 390.82L526.4 389.82L527.43 389.82L527.43 388.82L528.46 388.82L528.46 387.81L529.49 387.81L529.49 386.81L530.52 386.81L530.52 385.8L531.55 385.8L531.55 384.8ZM533.6 397.95L533.6 398.95L534.63 398.95L534.63 399.96L535.66 399.96L535.66 400.96L536.69 400.96L536.69 401.97L537.72 401.97L537.72 402.97L538.75 402.97L538.75 403.97L538.75 403.97L538.75 404.98L537.72 404.98L537.72 405.98L536.69 405.98L536.69 406.99L535.66 406.99L535.66 407.99L534.63 407.99L534.63 409L533.6 409L533.6 410L531.55 410L531.55 409L530.52 409L530.52 407.99L529.49 407.99L529.49 406.99L528.46 406.99L528.46 405.98L527.43 405.98L527.43 404.98L526.4 404.98L526.4 403.97L526.4 403.97L526.4 402.97L527.43 402.97L527.43 401.97L528.46 401.97L528.46 400.96L529.49 400.96L529.49 399.96L530.52 399.96L530.52 398.95L531.55 398.95L531.55 397.95ZM533.6 411.1L533.6 412.1L534.63 412.1L534.63 413.11L535.66 413.11L535.66 414.11L536.69 414.11L536.69 415.12L537.72 415.12L537.72 416.12L538.75 416.12L538.75 417.12L538.75 417.12L538.75 418.13L537.72 418.13L537.72 419.13L536.69 419.13L536.69 420.14L535.66 420.14L535.66 421.14L534.63 421.14L534.63 422.15L533.6 422.15L533.6 423.15L531.55 423.15L531.55 422.15L530.52 422.15L530.52 421.14L529.49 421.14L529.49 420.14L528.46 420.14L528.46 419.13L527.43 419.13L527.43 418.13L526.4 418.13L526.4 417.12L526.4 417.12L526.4 416.12L527.43 416.12L527.43 415.12L528.46 415.12L528.46 414.11L529.49 414.11L529.49 413.11L530.52 413.11L530.52 412.1L531.55 412.1L531.55 411.1ZM533.6 424.25L533.6 425.25L534.63 425.25L534.63 426.26L535.66 426.26L535.66 427.26L536.69 427.26L536.69 428.27L537.72 428.27L537.72 429.27L538.75 429.27L538.75 430.27L538.75 430.27L538.75 431.28L537.72 431.28L537.72 432.28L536.69 432.28L536.69 433.29L535.66 433.29L535.66 434.29L534.63 434.29L534.63 435.3L533.6 435.3L533.6 436.3L531.55 436.3L531.55 435.3L530.52 435.3L530.52 434.29L529.49 434.29L529.49 433.29L528.46 433.29L528.46 432.28L527.43 432.28L527.43 431.28L526.4 431.28L526.4 430.27L526.4 430.27L526.4 429.27L527.43 429.27L527.43 428.27L528.46 428.27L528.46 427.26L529.49 427.26L529.49 426.26L530.52 426.26L530.52 425.25L531.55 425.25L531.55 424.25ZM533.6 437.4L533.6 438.4L534.63 438.4L534.63 439.41L535.66 439.41L535.66 440.41L536.69 440.41L536.69 441.42L537.72 441.42L537.72 442.42L538.75 442.42L538.75 443.42L538.75 443.42L538.75 444.43L537.72 444.43L537.72 445.43L536.69 445.43L536.69 446.44L535.66 446.44L535.66 447.44L534.63 447.44L534.63 448.45L533.6 448.45L533.6 449.45L531.55 449.45L531.55 448.45L530.52 448.45L530.52 447.44L529.49 447.44L529.49 446.44L528.46 446.44L528.46 445.43L527.43 445.43L527.43 444.43L526.4 444.43L526.4 443.42L526.4 443.42L526.4 442.42L527.43 442.42L527.43 441.42L528.46 441.42L528.46 440.41L529.49 440.41L529.49 439.41L530.52 439.41L530.52 438.4L531.55 438.4L531.55 437.4ZM533.6 450.55L533.6 451.55L534.63 451.55L534.63 452.56L535.66 452.56L535.66 453.56L536.69 453.56L536.69 454.57L537.72 454.57L537.72 455.57L538.75 455.57L538.75 456.57L538.75 456.57L538.75 457.58L537.72 457.58L537.72 458.58L536.69 458.58L536.69 459.59L535.66 459.59L535.66 460.59L534.63 460.59L534.63 461.6L533.6 461.6L533.6 462.6L531.55 462.6L531.55 461.6L530.52 461.6L530.52 460.59L529.49 460.59L529.49 459.59L528.46 459.59L528.46 458.58L527.43 458.58L527.43 457.58L526.4 457.58L526.4 456.57L526.4 456.57L526.4 455.57L527.43 455.57L527.43 454.57L528.46 454.57L528.46 453.56L529.49 453.56L529.49 452.56L530.52 452.56L530.52 451.55L531.55 451.55L531.55 450.55Z" fill="#000"/></g></g><rect x="468.86" y="330.98" width="38.8" height="107.62" fill="none" stroke="#000" stroke-width="2.9" stroke-linejoin="round"/>
<g clip-path="url(#c9)"><g filter="url(#bl)"><rect x="517.43" y="302.28" width="38.8" height="136.32" fill="#00ffff"/><path d="M546 299.48h6.75v6.62h-6.75zM519 299.48h6.75v6.62h-6.75zM532.5 299.48h6.75v6.62h-6.75zM515.62 306.1h3.38v6.62h-3.38zM539.25 306.1h6.75v6.62h-6.75zM552.75 306.1h6.75v6.62h-6.75zM525.75 306.1h6.75v6.62h-6.75zM546 312.72h6.75v6.62h-6.75zM519 312.72h6.75v6.62h-6.75zM532.5 312.72h6.75v6.62h-6.75zM515.62 319.35h3.38v6.62h-3.38zM539.25 319.35h6.75v6.62h-6.75zM552.75 319.35h6.75v6.62h-6.75zM525.75 319.35h6.75v6.62h-6.75zM546 325.97h6.75v6.62h-6.75zM519 325.97h6.75v6.62h-6.75zM532.5 325.97h6.75v6.62h-6.75zM515.62 332.6h3.38v6.62h-3.38zM539.25 332.6h6.75v6.62h-6.75zM552.75 332.6h6.75v6.62h-6.75zM525.75 332.6h6.75v6.62h-6.75zM546 339.22h6.75v6.62h-6.75zM519 339.22h6.75v6.62h-6.75zM532.5 339.22h6.75v6.62h-6.75zM515.62 345.84h3.38v6.62h-3.38zM539.25 345.84h6.75v6.62h-6.75zM552.75 345.84h6.75v6.62h-6.75zM525.75 345.84h6.75v6.62h-6.75zM546 352.47h6.75v6.62h-6.75zM519 352.47h6.75v6.62h-6.75zM532.5 352.47h6.75v6.62h-6.75zM515.62 359.09h3.38v6.62h-3.38zM539.25 359.09h6.75v6.62h-6.75zM552.75 359.09h6.75v6.62h-6.75zM525.75 359.09h6.75v6.62h-6.75zM546 365.72h6.75v6.62h-6.75zM519 365.72h6.75v6.62h-6.75zM532.5 365.72h6.75v6.62h-6.75zM515.62 372.34h3.38v6.62h-3.38zM539.25 372.34h6.75v6.62h-6.75zM552.75 372.34h6.75v6.62h-6.75zM525.75 372.34h6.75v6.62h-6.75zM546 378.96h6.75v6.62h-6.75zM519 378.96h6.75v6.62h-6.75zM532.5 378.96h6.75v6.62h-6.75zM515.62 385.59h3.38v6.62h-3.38zM539.25 385.59h6.75v6.62h-6.75zM552.75 385.59h6.75v6.62h-6.75zM525.75 385.59h6.75v6.62h-6.75zM546 392.21h6.75v6.62h-6.75zM519 392.21h6.75v6.62h-6.75zM532.5 392.21h6.75v6.62h-6.75zM515.62 398.84h3.38v6.62h-3.38zM539.25 398.84h6.75v6.62h-6.75zM552.75 398.84h6.75v6.62h-6.75zM525.75 398.84h6.75v6.62h-6.75zM546 405.46h6.75v6.62h-6.75zM519 405.46h6.75v6.62h-6.75zM532.5 405.46h6.75v6.62h-6.75zM515.62 412.08h3.38v6.62h-3.38zM539.25 412.08h6.75v6.62h-6.75zM552.75 412.08h6.75v6.62h-6.75zM525.75 412.08h6.75v6.62h-6.75zM546 418.71h6.75v6.62h-6.75zM519 418.71h6.75v6.62h-6.75zM532.5 418.71h6.75v6.62h-6.75zM515.62 425.33h3.38v6.62h-3.38zM539.25 425.33h6.75v6.62h-6.75zM552.75 425.33h6.75v6.62h-6.75zM525.75 425.33h6.75v6.62h-6.75zM546 431.96h6.75v6.62h-6.75zM519 431.96h6.75v6.62h-6.75zM532.5 431.96h6.75v6.62h-6.75zM515.62 438.58h3.38v3.31h-3.38zM539.25 438.58h6.75v3.31h-6.75zM552.75 438.58h6.75v3.31h-6.75zM525.75 438.58h6.75v3.31h-6.75z" fill="#000"/></g></g><rect x="517.43" y="302.28" width="38.8" height="136.32" fill="none" stroke="#000" stroke-width="2.9" stroke-linejoin="round"/>
<g clip-path="url(#c10)"><g filter="url(#bl)"><rect x="566.01" y="287.93" width="38.8" height="150.67" fill="#335208"/><path d="M558.46 285.93h0.9V441h-0.9ZM562.42 285.93h0.9V441h-0.9ZM566.37 285.93h0.9V441h-0.9ZM570.33 285.93h0.9V441h-0.9ZM574.28 285.93h0.9V441h-0.9ZM578.24 285.93h0.9V441h-0.9ZM582.19 285.93h0.9V441h-0.9ZM586.15 285.93h0.9V441h-0.9ZM590.1 285.93h0.9V441h-0.9ZM594.06 285.93h0.9V441h-0.9ZM598.01 285.93h0.9V441h-0.9ZM601.97 285.93h0.9V441h-0.9ZM605.92 285.93h0.9V441h-0.9ZM609.88 285.93h0.9V441h-0.9ZM564.01 280.27H606.81v0.9H564.01ZM564.01 284.26H606.81v0.9H564.01ZM564.01 288.25H606.81v0.9H564.01ZM564.01 292.25H606.81v0.9H564.01ZM564.01 296.24H606.81v0.9H564.01ZM564.01 300.23H606.81v0.9H564.01ZM564.01 304.21H606.81v0.9H564.01ZM564.01 308.2H606.81v0.9H564.01ZM564.01 312.19H606.81v0.9H564.01ZM564.01 316.19H606.81v0.9H564.01ZM564.01 320.18H606.81v0.9H564.01ZM564.01 324.17H606.81v0.9H564.01ZM564.01 328.16H606.81v0.9H564.01ZM564.01 332.14H606.81v0.9H564.01ZM564.01 336.13H606.81v0.9H564.01ZM564.01 340.12H606.81v0.9H564.01ZM564.01 344.12H606.81v0.9H564.01ZM564.01 348.11H606.81v0.9H564.01ZM564.01 352.09H606.81v0.9H564.01ZM564.01 356.08H606.81v0.9H564.01ZM564.01 360.07H606.81v0.9H564.01ZM564.01 364.06H606.81v0.9H564.01ZM564.01 368.06H606.81v0.9H564.01ZM564.01 372.05H606.81v0.9H564.01ZM564.01 376.04H606.81v0.9H564.01ZM564.01 380.03H606.81v0.9H564.01ZM564.01 384.01H606.81v0.9H564.01ZM564.01 388H606.81v0.9H564.01ZM564.01 392H606.81v0.9H564.01ZM564.01 395.99H606.81v0.9H564.01ZM564.01 399.97H606.81v0.9H564.01ZM564.01 403.96H606.81v0.9H564.01ZM564.01 407.95H606.81v0.9H564.01ZM564.01 411.94H606.81v0.9H564.01ZM564.01 415.94H606.81v0.9H564.01ZM564.01 419.93H606.81v0.9H564.01ZM564.01 423.92H606.81v0.9H564.01ZM564.01 427.91H606.81v0.9H564.01ZM564.01 431.9H606.81v0.9H564.01ZM564.01 435.88H606.81v0.9H564.01ZM564.01 439.88H606.81v0.9H564.01ZM564.01 443.87H606.81v0.9H564.01Z" fill="#000"/></g></g><rect x="566.01" y="287.93" width="38.8" height="150.67" fill="none" stroke="#000" stroke-width="2.9" stroke-linejoin="round"/>
<path d="M75.35 8.1V439.5M74.5 8.1H609.7M74.5 438.6H610.2" stroke="#000" stroke-width="1.7" fill="none"/>
<path d="M67 438.6H75.35M67 295.1H75.35M67 151.6H75.35M67 8.1H75.35M71 366.85H75.35M71 223.35H75.35M71 79.85H75.35" stroke="#000" stroke-width="1.5" fill="none"/>
<path d="M99.64 438.6V446.5M148.22 438.6V446.5M196.79 438.6V446.5M245.37 438.6V446.5M293.95 438.6V446.5M342.52 438.6V446.5M391.1 438.6V446.5M439.68 438.6V446.5M488.26 438.6V446.5M536.83 438.6V446.5M585.41 438.6V446.5M75.35 438.6V442.7M123.93 438.6V442.7M172.5 438.6V442.7M221.08 438.6V442.7M269.66 438.6V442.7M318.24 438.6V442.7M366.81 438.6V442.7M415.39 438.6V442.7M463.97 438.6V442.7M512.55 438.6V442.7M561.12 438.6V442.7M609.7 438.6V442.7" stroke="#000" stroke-width="1.5" fill="none"/>
<path d="M609.7 8.1V438.6M609.7 429.1H617.7M609.7 383.85H617.7M609.7 338.6H617.7M609.7 293.35H617.7M609.7 248.1H617.7M609.7 202.85H617.7M609.7 157.6H617.7M609.7 112.35H617.7M609.7 67.1H617.7M609.7 21.85H617.7M609.7 406.48H613.7M609.7 361.23H613.7M609.7 315.98H613.7M609.7 270.73H613.7M609.7 225.47H613.7M609.7 180.22H613.7M609.7 134.97H613.7M609.7 89.72H613.7M609.7 44.47H613.7" stroke="#EE3D3D" stroke-width="1.5" fill="none"/>
<text x="61.3" y="444.3" font-size="18" font-weight="bold" text-anchor="end">60</text>
<text x="61.3" y="300.8" font-size="18" font-weight="bold" text-anchor="end">80</text>
<text x="61.3" y="157.3" font-size="18" font-weight="bold" text-anchor="end">100</text>
<text x="61.3" y="13.8" font-size="18" font-weight="bold" text-anchor="end">120</text>
<text x="624" y="434.9" font-size="18" font-weight="bold" fill="#EE3D3D">−30</text>
<text x="624" y="389.65" font-size="18" font-weight="bold" fill="#EE3D3D">−25</text>
<text x="624" y="344.4" font-size="18" font-weight="bold" fill="#EE3D3D">−20</text>
<text x="624" y="299.15" font-size="18" font-weight="bold" fill="#EE3D3D">−15</text>
<text x="624" y="253.9" font-size="18" font-weight="bold" fill="#EE3D3D">−10</text>
<text x="624" y="208.65" font-size="18" font-weight="bold" fill="#EE3D3D">−5</text>
<text x="624" y="163.4" font-size="18" font-weight="bold" fill="#EE3D3D">0</text>
<text x="624" y="118.15" font-size="18" font-weight="bold" fill="#EE3D3D">5</text>
<text x="624" y="72.9" font-size="18" font-weight="bold" fill="#EE3D3D">10</text>
<text x="624" y="27.65" font-size="18" font-weight="bold" fill="#EE3D3D">15</text>
<polyline points="99.64,157.6 148.22,121.03 196.79,93.61 245.37,230.73 293.95,249.01 342.52,194.17 391.1,139.32 439.68,276.44 488.26,376.99 536.83,340.43 585.41,322.15" fill="none" stroke="#EE3D3D" stroke-width="1.2"/>
<rect x="95.44" y="153.4" width="8.4" height="8.4" fill="#EE3D3D"/>
<rect x="144.02" y="116.83" width="8.4" height="8.4" fill="#EE3D3D"/>
<rect x="192.59" y="89.41" width="8.4" height="8.4" fill="#EE3D3D"/>
<rect x="241.17" y="226.53" width="8.4" height="8.4" fill="#EE3D3D"/>
<rect x="289.75" y="244.81" width="8.4" height="8.4" fill="#EE3D3D"/>
<rect x="338.32" y="189.97" width="8.4" height="8.4" fill="#EE3D3D"/>
<rect x="386.9" y="135.12" width="8.4" height="8.4" fill="#EE3D3D"/>
<rect x="435.48" y="272.24" width="8.4" height="8.4" fill="#EE3D3D"/>
<rect x="484.06" y="372.79" width="8.4" height="8.4" fill="#EE3D3D"/>
<rect x="532.63" y="336.23" width="8.4" height="8.4" fill="#EE3D3D"/>
<rect x="581.21" y="317.95" width="8.4" height="8.4" fill="#EE3D3D"/>
<path d="M95.44 154.28H103.84M95.44 163.28H103.84M99.64 154.28V163.28" stroke="#000" stroke-width="1" fill="none"/>
<path d="M144.02 127.08H152.42M144.02 133.08H152.42M148.22 127.08V133.08" stroke="#000" stroke-width="1" fill="none"/>
<path d="M435.48 251.05H443.88M435.48 253.05H443.88M439.68 251.05V253.05" stroke="#000" stroke-width="1" fill="none"/>
<path d="M484.06 329.78H492.46M484.06 332.18H492.46M488.26 329.78V332.18" stroke="#000" stroke-width="1" fill="none"/>
<path d="M532.63 300.08H541.03M532.63 304.48H541.03M536.83 300.08V304.48" stroke="#000" stroke-width="1" fill="none"/>
<path d="M581.21 286.43H589.61M581.21 289.43H589.61M585.41 286.43V289.43" stroke="#000" stroke-width="1" fill="none"/>
<rect x="80.5" y="15.5" width="333" height="25.1" fill="#fff" stroke="#333" stroke-width="1"/>
<path d="M83 28H124.8" stroke="#EE3D3D" stroke-width="1.2"/>
<rect x="99.9" y="24.2" width="8.3" height="8" fill="#EE3D3D"/>
<text x="130" y="34.7" font-size="18.22">Percentage Increase in Workability</text>
<text transform="translate(16.2,307) rotate(-90)" font-size="22.5">Workability (mm)</text>
<text transform="translate(679.4,414.25) rotate(-90)" font-size="22.4">Percentage Increase in workability (%)</text>
<text transform="translate(109.94,469.2) rotate(-30)" font-size="18.5" text-anchor="end">Al-SF (0-0)</text>
<text transform="translate(158.52,469.2) rotate(-30)" font-size="18.5" text-anchor="end">Al-SF (0-0.2)</text>
<text transform="translate(207.09,469.2) rotate(-30)" font-size="18.5" text-anchor="end">Al-SF (0-0.5)</text>
<text transform="translate(255.67,469.2) rotate(-30)" font-size="18.5" text-anchor="end">Al-SF (5-0.1)</text>
<text transform="translate(304.25,469.2) rotate(-30)" font-size="18.5" text-anchor="end">Al-SF (10-0.2)</text>
<text transform="translate(352.82,469.2) rotate(-30)" font-size="18.5" text-anchor="end">Al-SF (10-0.5)</text>
<text transform="translate(401.4,469.2) rotate(-30)" font-size="18.5" text-anchor="end">Al-SF (10-0.7)</text>
<text transform="translate(449.98,469.2) rotate(-30)" font-size="18.5" text-anchor="end">Al-SF (15-0.1)</text>
<text transform="translate(498.56,469.2) rotate(-30)" font-size="18.5" text-anchor="end">Al-SF (20-0)</text>
<text transform="translate(547.13,469.2) rotate(-30)" font-size="18.5" text-anchor="end">Al-SF (20-0.2)</text>
<text transform="translate(595.71,469.2) rotate(-30)" font-size="18.5" text-anchor="end">Al-SF (20-0.5)</text>
</svg></body></html>
